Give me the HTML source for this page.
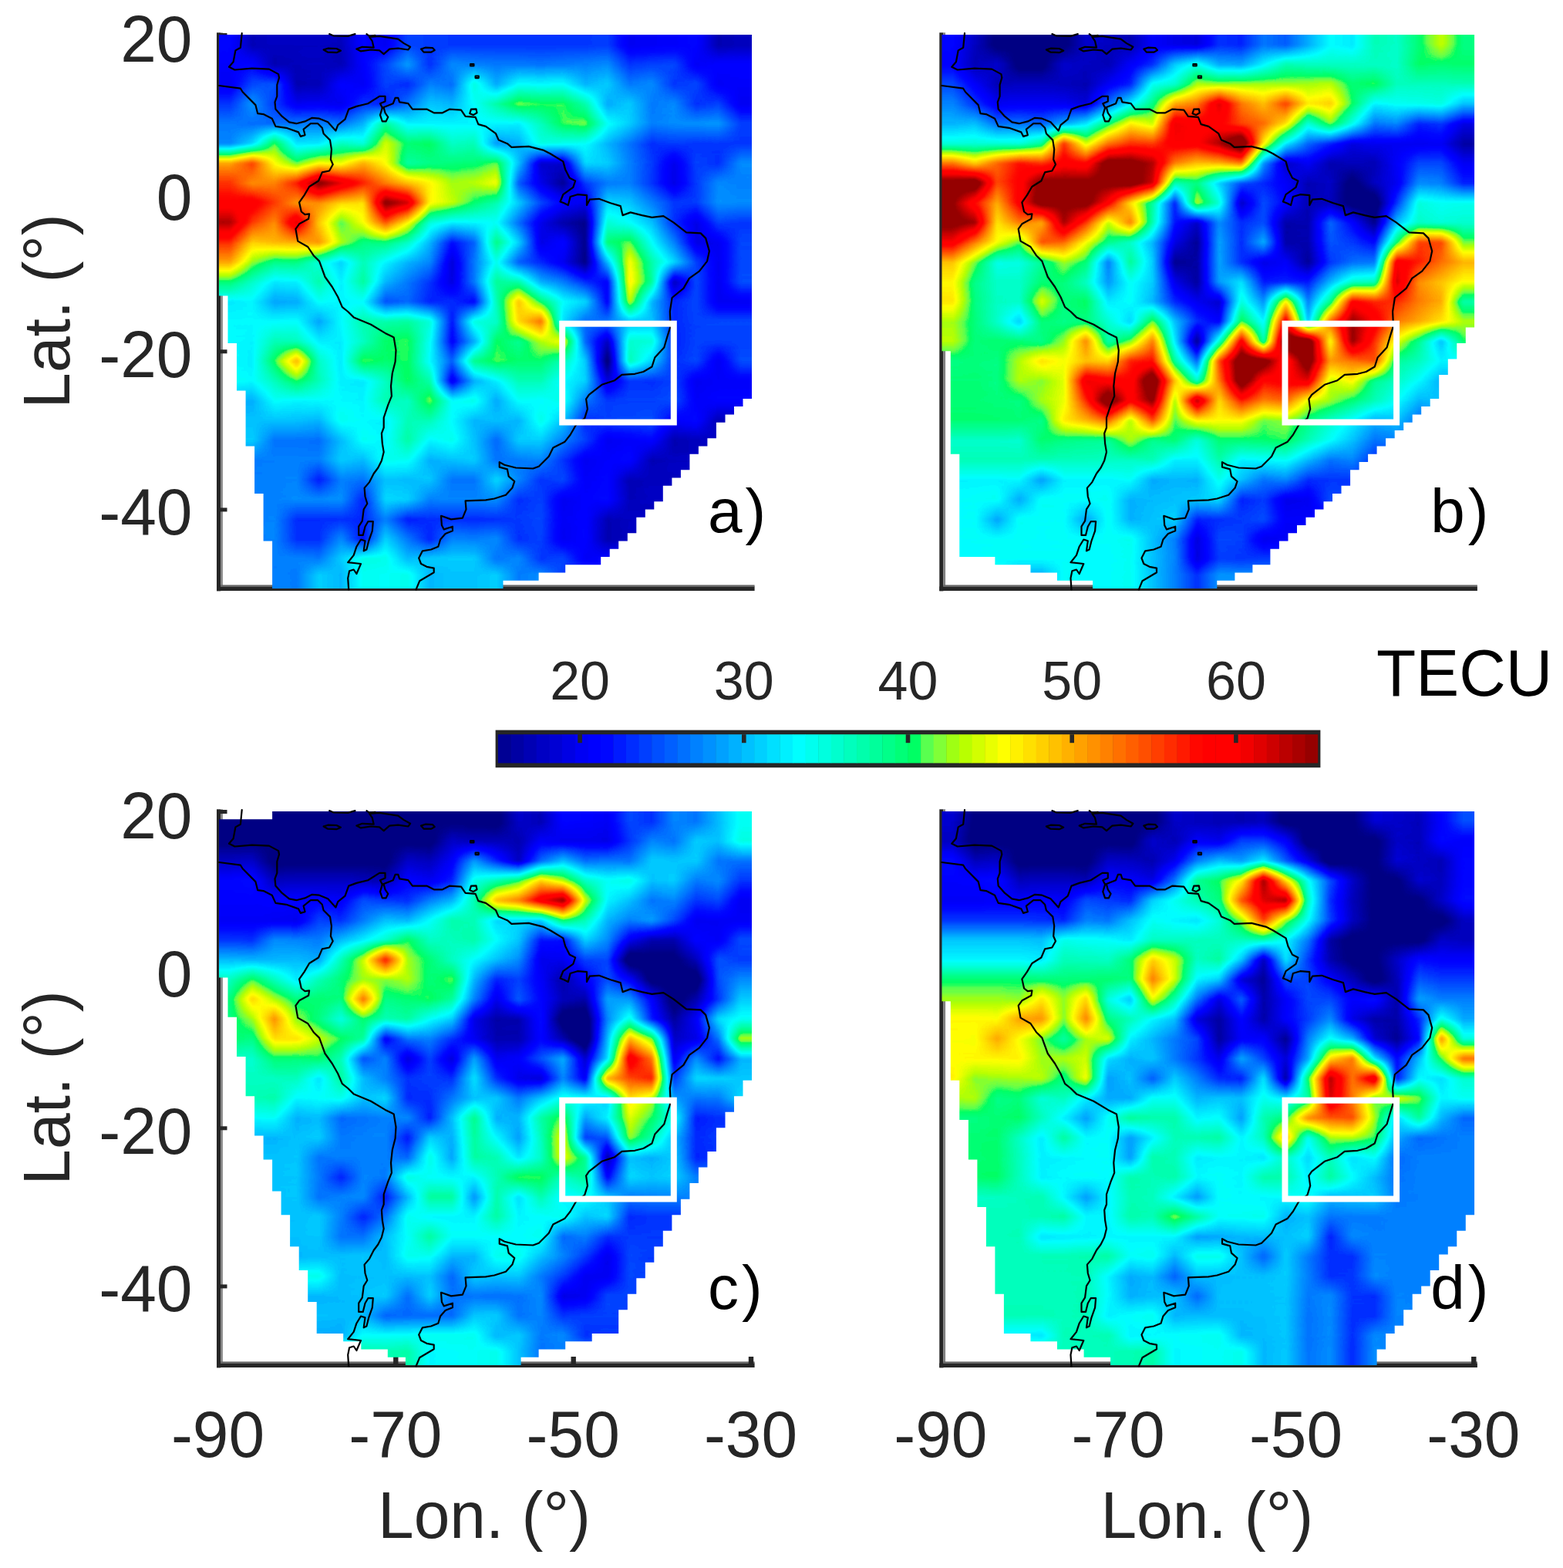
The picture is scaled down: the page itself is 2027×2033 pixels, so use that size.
<!DOCTYPE html>
<html lang="en"><head><meta charset="utf-8"><title>TECU maps</title>
<style>html,body{margin:0;padding:0;background:#fff}svg{display:block}text{font-family:"Liberation Sans",Arial,Helvetica,sans-serif}</style></head><body>
<svg width="2027" height="2033" viewBox="0 0 2027 2033">
<rect width="2027" height="2033" fill="#fff"/>
<defs>
<filter id="jet" filterUnits="userSpaceOnUse" x="-20" y="-20" width="731" height="758" color-interpolation-filters="sRGB"><feGaussianBlur stdDeviation="1.5"/><feComponentTransfer><feFuncR type="table" tableValues="0 0 0 0 0 0 0 0 0 0 0 0 0 0 0 0 0 0 0 0 0 0 0 0 0 0 0 0 0 0 0 0 0 0 0 0 0 0 0 0 0 0 0 0 0 0 0 0 0 0 0.348 0.501 0.622 0.727 0.823 0.914 1 1 1 1 1 1 1 1 1 1 1 1 1 1 1 1 1 1 1 0.948 0.877 0.806 0.734 0.661 0.588 0.588 0.588 0.588 0.588 0.588 0.588 0.588 0.588 0.588 0.588 0.588 0.588 0.588 0.588 0.588 0.588"/><feFuncG type="table" tableValues="0 0 0 0 0 0 0 0 0 0 0 0 0 0 0 0 0 0 0 0 0 0 0 0 0 0.029 0.102 0.173 0.241 0.308 0.374 0.44 0.504 0.568 0.631 0.693 0.756 0.817 0.878 0.939 1 1 1 1 1 1 1 1 1 1 1 1 1 1 1 1 1 0.939 0.878 0.817 0.756 0.693 0.631 0.568 0.504 0.44 0.374 0.308 0.241 0.173 0.102 0.029 0 0 0 0 0 0 0 0 0 0 0 0 0 0 0 0 0 0 0 0 0 0 0 0 0"/><feFuncB type="table" tableValues="0.514 0.514 0.514 0.514 0.514 0.514 0.514 0.514 0.514 0.514 0.514 0.514 0.514 0.514 0.514 0.514 0.514 0.579 0.643 0.707 0.77 0.833 0.895 0.957 1 1 1 1 1 1 1 1 1 1 1 1 1 1 1 1 1 0.937 0.873 0.808 0.743 0.676 0.608 0.538 0.466 0.391 0.309 0.215 0.0748 0 0 0 0 0 0 0 0 0 0 0 0 0 0 0 0 0 0 0 0 0 0 0 0 0 0 0 0 0 0 0 0 0 0 0 0 0 0 0 0 0 0 0 0"/><feFuncA type="linear" slope="0" intercept="1"/></feComponentTransfer></filter>
<linearGradient id="vrg" x1="0" x2="0" y1="0" y2="1"><stop offset="0" stop-color="#000"/><stop offset="0.5" stop-color="#fff"/><stop offset="1" stop-color="#fff"/></linearGradient>
<mask id="vr" maskContentUnits="objectBoundingBox" x="0" y="0" width="1" height="1"><rect width="1" height="1" fill="url(#vrg)"/></mask>
<linearGradient id="vrgl" x1="0" x2="0" y1="0" y2="1"><stop offset="0" stop-color="#000"/><stop offset="0.3" stop-color="#fff"/><stop offset="1" stop-color="#fff"/></linearGradient>
<mask id="vrl" maskContentUnits="objectBoundingBox" x="0" y="0" width="1" height="1"><rect width="1" height="1" fill="url(#vrgl)"/></mask>
<g id="coast" fill="none" stroke="#000" stroke-width="2.2" stroke-linejoin="round" stroke-linecap="round"><path d="M0.0 66.0 27.9 69.7 30.7 74.3 47.4 91.1 50.2 102.2 57.6 103.1 68.8 108.7 73.4 118.9 87.3 120.8 103.1 126.4 105.9 131.9 111.5 130.1 109.6 122.6 118.9 115.2 128.2 115.2 133.8 120.8 135.6 128.2 144.0 136.6 145.9 148.7 144.9 161.7 147.7 168.2 143.1 176.5 133.8 178.4 129.1 189.5 117.1 197.0 110.6 208.1 104.1 217.4 106.8 229.5 111.5 233.2 117.1 232.3 116.1 238.8 104.1 245.3 99.4 251.8 102.2 267.6 115.2 275.0 122.6 286.2 130.1 293.6 137.5 314.0 146.8 327.0 154.2 340.0 159.8 353.1 167.2 359.0 174.7 366.4 197.0 375.7 215.5 386.9 226.7 392.4 229.5 409.2 228.6 424.0 224.8 438.9 223.0 455.6 223.9 468.6 219.3 479.8 213.7 496.5 213.7 509.5 210.9 516.9 211.8 530.0 213.7 541.1 210.9 552.3 206.3 561.5 200.7 569.0 195.1 580.1 188.6 587.6 189.5 598.7 192.3 608.0 187.7 615.4 185.8 630.3 181.2 637.7 181.2 648.9 186.7 648.9 189.5 637.7 193.3 631.2 199.8 631.2 198.8 643.3 194.2 656.3 191.4 667.5 187.7 669.3 189.5 656.3 184.0 654.5 178.4 663.7 174.7 674.9 167.2 684.2 184.0 686.0 178.4 699.0 174.7 693.5 169.1 695.3 167.2 704.6 168.2 719.5"/><path d="M29.7 -1.9 27.9 16.7 21.4 20.4 18.6 35.3 13.0 41.8 20.4 45.5 42.7 43.7 65.0 44.6 77.1 51.1 78.0 55.7 75.3 65.0 75.3 79.9 72.5 87.3 73.4 96.6 81.8 105.9 91.1 113.3 100.3 115.2 111.5 112.4 120.8 107.8 130.1 108.7 141.2 113.3 151.4 124.5 154.2 117.1 163.5 109.6 168.2 96.6 178.4 92.9 193.3 89.2 208.1 79.9 215.5 79.9 215.5 86.4 209.0 89.2 211.8 94.8 225.8 89.2 228.6 81.8 232.3 81.8 234.1 87.3 245.3 89.2 250.9 96.6 269.4 96.6 278.7 101.3 289.9 101.3 299.2 96.6 314.0 97.6 319.6 105.9 332.6 106.8 336.3 116.1 346.0 118.9 359.0 128.2 362.7 136.6 373.9 141.2 379.4 145.9 401.7 144.9 420.3 149.6 429.6 154.2 446.3 164.4 449.1 174.7 454.7 185.8 462.1 189.5 459.3 197.9 446.3 207.2 442.6 216.5 447.3 218.3 452.8 221.1 455.6 210.0 464.9 207.2 477.0 208.1 477.0 221.1 480.7 213.7 492.8 212.8 507.7 218.3 520.7 222.1 523.5 234.1 533.7 230.4 548.5 234.1 561.5 236.9 576.4 235.1 589.4 243.4 606.1 256.4 624.7 257.4 631.2 263.9 635.9 280.6 633.1 293.6 622.9 306.6 609.9 315.9 602.4 328.9 587.6 341.0 584.8 359.0 585.7 377.6 581.1 392.4 577.3 405.5 565.3 418.5 561.5 430.5 550.4 437.0 539.3 439.8 522.5 440.8 513.2 448.2 496.5 453.8 479.8 466.8 476.1 472.3 477.9 485.4 474.2 497.4 463.1 505.8 455.6 518.8 448.2 528.1 433.3 535.5 427.8 546.7 414.8 559.7 407.3 562.5 385.0 561.5 370.2 557.8 363.7 554.1 363.7 560.6 373.9 563.4 375.7 572.7 383.2 579.2 380.4 587.6 372.0 596.8 357.1 601.5 346.0 603.4 319.6 604.3 320.5 615.4 315.9 626.6 301.0 628.4 288.0 623.8 288.9 635.9 291.7 641.4 302.9 637.7 302.9 643.3 293.6 647.0 287.1 654.5 284.3 663.7 275.0 667.5 263.9 669.3 259.2 678.6 262.0 686.0 269.4 689.8 278.7 691.6 278.7 697.2 269.4 702.8 260.1 708.3 255.5 719.5"/><path d="M211.8 94.8 209.0 104.1 211.8 112.4 216.5 112.4 219.3 106.8 215.5 101.3 213.7 94.8"/><path d="M327.0 96.6 325.2 102.2 329.8 104.1 334.5 101.3 333.5 96.3 327.0 96.6"/><path d="M135.6 19.5 141.2 17.7 152.4 18.0 157.9 20.8 152.4 23.2 141.2 22.7 135.6 19.5"/><path d="M178.4 18.6 185.8 15.8 200.7 16.7 198.8 8.4 195.1 2.8 208.1 1.9 232.3 5.6 239.7 11.1 248.1 15.8 245.3 19.5 232.3 17.7 221.1 18.6 213.7 25.1 208.1 20.4 197.0 19.5 184.0 21.4 178.4 18.6"/><path d="M262.0 18.6 267.6 16.7 276.9 17.1 279.7 20.1 275.0 22.7 265.7 22.7 262.0 18.6"/><path d="M143.1 -0.9 148.7 1.5 167.2 1.9 176.5 -0.9"/><path d="M191.4 -0.9 195.1 1.9 202.5 0.9"/><path d="M326.1 38.1 330.4 38.1 330.4 40.5 326.1 40.5 326.1 38.1"/><path d="M332.6 53.5 336.7 53.5 336.7 56.1 332.6 56.1 332.6 53.5"/></g>
<clipPath id="ma"><path d="M0.0 -0.1H691.0V338.5H0.0ZM11.5 338.4H691.0V400.1H11.5ZM23.0 400.0H691.0V461.6H23.0ZM34.6 461.5H691.0V471.9H34.6ZM34.6 471.8H679.5V482.1H34.6ZM34.6 482.0H668.0V492.4H34.6ZM34.6 492.3H656.5V502.7H34.6ZM34.6 502.6H644.9V523.2H34.6ZM34.6 523.1H633.4V533.4H34.6ZM46.1 533.3H621.9V543.7H46.1ZM46.1 543.6H610.4V564.2H46.1ZM46.1 564.1H598.9V574.5H46.1ZM46.1 574.4H587.4V584.7H46.1ZM46.1 584.6H575.8V595.0H46.1ZM57.6 594.9H575.8V605.2H57.6ZM57.6 605.1H564.3V615.5H57.6ZM57.6 615.4H552.8V625.7H57.6ZM57.6 625.6H541.3V646.2H57.6ZM57.6 646.2H529.8V656.5H57.6ZM69.1 656.4H518.2V666.8H69.1ZM69.1 666.7H506.7V677.0H69.1ZM69.1 676.9H495.2V687.3H69.1ZM69.1 687.2H449.2V697.5H69.1ZM69.1 697.4H414.6V707.8H69.1ZM69.1 707.7H368.5V718.1H69.1Z"/></clipPath>
<clipPath id="mb"><path d="M0.0 -0.1H691.0V379.6H0.0ZM0.0 379.5H679.5V400.1H0.0ZM0.0 400.0H668.0V410.3H0.0ZM11.5 410.2H668.0V420.6H11.5ZM11.5 420.5H656.5V441.1H11.5ZM11.5 441.0H644.9V471.9H11.5ZM11.5 471.8H633.4V482.1H11.5ZM11.5 482.0H621.9V492.4H11.5ZM11.5 492.3H610.4V502.7H11.5ZM11.5 502.6H598.9V512.9H11.5ZM11.5 512.8H587.4V523.2H11.5ZM11.5 523.1H575.8V533.4H11.5ZM11.5 533.3H564.3V543.7H11.5ZM23.0 543.6H552.8V553.9H23.0ZM23.0 553.8H541.3V564.2H23.0ZM23.0 564.1H529.8V584.7H23.0ZM23.0 584.6H518.2V595.0H23.0ZM23.0 594.9H506.7V605.2H23.0ZM23.0 605.1H495.2V615.5H23.0ZM23.0 615.4H483.7V625.7H23.0ZM23.0 625.6H472.2V636.0H23.0ZM23.0 635.9H460.7V646.2H23.0ZM23.0 646.2H449.2V656.5H23.0ZM23.0 656.4H437.6V666.8H23.0ZM23.0 666.7H426.1V677.0H23.0ZM69.1 676.9H426.1V687.3H69.1ZM115.2 687.2H403.1V697.5H115.2ZM149.7 697.4H380.1V707.8H149.7ZM195.8 707.7H357.0V718.1H195.8Z"/></clipPath>
<clipPath id="mc"><path d="M69.1 -0.1H691.0V10.3H69.1ZM0.0 10.2H691.0V215.5H0.0ZM11.5 215.3H691.0V266.7H11.5ZM23.0 266.6H691.0V318.0H23.0ZM34.6 317.9H691.0V348.8H34.6ZM34.6 348.7H679.5V369.3H34.6ZM46.1 369.2H668.0V389.8H46.1ZM46.1 389.7H656.5V410.3H46.1ZM46.1 410.2H644.9V420.6H46.1ZM57.6 420.5H644.9V441.1H57.6ZM57.6 441.0H633.4V451.4H57.6ZM69.1 451.3H633.4V461.6H69.1ZM69.1 461.5H621.9V482.1H69.1ZM69.1 482.0H610.4V492.4H69.1ZM80.6 492.3H610.4V502.7H80.6ZM80.6 502.6H598.9V523.2H80.6ZM92.1 523.1H587.4V543.7H92.1ZM92.1 543.6H575.8V564.2H92.1ZM103.7 564.1H564.3V584.7H103.7ZM103.7 584.6H552.8V595.0H103.7ZM115.2 594.9H552.8V605.2H115.2ZM115.2 605.1H541.3V625.7H115.2ZM115.2 625.6H529.8V636.0H115.2ZM126.7 635.9H529.8V646.2H126.7ZM126.7 646.2H518.2V677.0H126.7ZM161.2 676.9H483.7V687.3H161.2ZM184.3 687.2H449.2V697.5H184.3ZM218.8 697.4H414.6V707.8H218.8ZM241.9 707.7H391.6V718.1H241.9Z"/></clipPath>
<clipPath id="md"><path d="M0.0 -0.1H691.0V246.2H0.0ZM11.5 246.1H691.0V348.8H11.5ZM23.0 348.7H691.0V400.1H23.0ZM34.6 400.0H691.0V451.4H34.6ZM46.1 451.3H691.0V512.9H46.1ZM57.6 512.8H691.0V523.2H57.6ZM57.6 523.1H679.5V543.7H57.6ZM57.6 543.6H668.0V564.2H57.6ZM69.1 564.1H656.5V574.5H69.1ZM69.1 574.4H644.9V595.0H69.1ZM69.1 594.9H633.4V615.5H69.1ZM69.1 615.4H621.9V625.7H69.1ZM80.6 625.6H610.4V646.2H80.6ZM80.6 646.2H598.9V666.8H80.6ZM80.6 666.7H587.4V677.0H80.6ZM115.2 676.9H575.8V687.3H115.2ZM149.7 687.2H575.8V697.5H149.7ZM184.3 697.4H564.3V707.8H184.3ZM218.8 707.7H564.3V718.1H218.8Z"/></clipPath>
<clipPath id="box"><rect x="-3" y="-3" width="697" height="724"/></clipPath>
<linearGradient id="ga0" gradientUnits="userSpaceOnUse" x1="14.40" x2="676.60" y1="0" y2="0"><stop offset="0" stop-color="#414141"/><stop offset="0.04348" stop-color="#333333"/><stop offset="0.08696" stop-color="#353535"/><stop offset="0.1304" stop-color="#353535"/><stop offset="0.1739" stop-color="#353535"/><stop offset="0.2174" stop-color="#343434"/><stop offset="0.2609" stop-color="#414141"/><stop offset="0.3043" stop-color="#3d3d3d"/><stop offset="0.3478" stop-color="#4b4b4b"/><stop offset="0.3913" stop-color="#4a4a4a"/><stop offset="0.4348" stop-color="#494949"/><stop offset="0.4783" stop-color="#494949"/><stop offset="0.5217" stop-color="#494949"/><stop offset="0.5652" stop-color="#494949"/><stop offset="0.6087" stop-color="#494949"/><stop offset="0.6522" stop-color="#494949"/><stop offset="0.6957" stop-color="#494949"/><stop offset="0.7391" stop-color="#4a4a4a"/><stop offset="0.7826" stop-color="#3d3d3d"/><stop offset="0.8261" stop-color="#3e3e3e"/><stop offset="0.8696" stop-color="#3f3f3f"/><stop offset="0.913" stop-color="#414141"/><stop offset="0.9565" stop-color="#323232"/><stop offset="1" stop-color="#343434"/></linearGradient>
<linearGradient id="ga1" gradientUnits="userSpaceOnUse" x1="14.40" x2="676.60" y1="0" y2="0"><stop offset="0" stop-color="#404040"/><stop offset="0.04348" stop-color="#414141"/><stop offset="0.08696" stop-color="#323232"/><stop offset="0.1304" stop-color="#343434"/><stop offset="0.1739" stop-color="#353535"/><stop offset="0.2174" stop-color="#333333"/><stop offset="0.2609" stop-color="#404040"/><stop offset="0.3043" stop-color="#4c4c4c"/><stop offset="0.3478" stop-color="#5a5a5a"/><stop offset="0.3913" stop-color="#484848"/><stop offset="0.4348" stop-color="#575757"/><stop offset="0.4783" stop-color="#555555"/><stop offset="0.5217" stop-color="#545454"/><stop offset="0.5652" stop-color="#545454"/><stop offset="0.6087" stop-color="#535353"/><stop offset="0.6522" stop-color="#545454"/><stop offset="0.6957" stop-color="#555555"/><stop offset="0.7391" stop-color="#575757"/><stop offset="0.7826" stop-color="#494949"/><stop offset="0.8261" stop-color="#4b4b4b"/><stop offset="0.8696" stop-color="#4c4c4c"/><stop offset="0.913" stop-color="#3e3e3e"/><stop offset="0.9565" stop-color="#414141"/><stop offset="1" stop-color="#414141"/></linearGradient>
<linearGradient id="ga2" gradientUnits="userSpaceOnUse" x1="14.40" x2="676.60" y1="0" y2="0"><stop offset="0" stop-color="#3d3d3d"/><stop offset="0.04348" stop-color="#4c4c4c"/><stop offset="0.08696" stop-color="#4f4f4f"/><stop offset="0.1304" stop-color="#323232"/><stop offset="0.1739" stop-color="#333333"/><stop offset="0.2174" stop-color="#414141"/><stop offset="0.2609" stop-color="#3e3e3e"/><stop offset="0.3043" stop-color="#4b4b4b"/><stop offset="0.3478" stop-color="#474747"/><stop offset="0.3913" stop-color="#555555"/><stop offset="0.4348" stop-color="#525252"/><stop offset="0.4783" stop-color="#707070"/><stop offset="0.5217" stop-color="#5c5c5c"/><stop offset="0.5652" stop-color="#6b6b6b"/><stop offset="0.6087" stop-color="#6a6a6a"/><stop offset="0.6522" stop-color="#6b6b6b"/><stop offset="0.6957" stop-color="#5e5e5e"/><stop offset="0.7391" stop-color="#626262"/><stop offset="0.7826" stop-color="#545454"/><stop offset="0.8261" stop-color="#575757"/><stop offset="0.8696" stop-color="#494949"/><stop offset="0.913" stop-color="#4c4c4c"/><stop offset="0.9565" stop-color="#3e3e3e"/><stop offset="1" stop-color="#3f3f3f"/></linearGradient>
<linearGradient id="ga3" gradientUnits="userSpaceOnUse" x1="14.40" x2="676.60" y1="0" y2="0"><stop offset="0" stop-color="#494949"/><stop offset="0.04348" stop-color="#595959"/><stop offset="0.08696" stop-color="#4a4a4a"/><stop offset="0.1304" stop-color="#3d3d3d"/><stop offset="0.1739" stop-color="#3e3e3e"/><stop offset="0.2174" stop-color="#3c3c3c"/><stop offset="0.2609" stop-color="#494949"/><stop offset="0.3043" stop-color="#454545"/><stop offset="0.3478" stop-color="#535353"/><stop offset="0.3913" stop-color="#616161"/><stop offset="0.4348" stop-color="#5e5e5e"/><stop offset="0.4783" stop-color="#6b6b6b"/><stop offset="0.5217" stop-color="#797979"/><stop offset="0.5652" stop-color="#878787"/><stop offset="0.6087" stop-color="#848484"/><stop offset="0.6522" stop-color="#848484"/><stop offset="0.6957" stop-color="#787878"/><stop offset="0.7391" stop-color="#5c5c5c"/><stop offset="0.7826" stop-color="#626262"/><stop offset="0.8261" stop-color="#545454"/><stop offset="0.8696" stop-color="#575757"/><stop offset="0.913" stop-color="#484848"/><stop offset="0.9565" stop-color="#4b4b4b"/><stop offset="1" stop-color="#3d3d3d"/></linearGradient>
<linearGradient id="ga4" gradientUnits="userSpaceOnUse" x1="14.40" x2="676.60" y1="0" y2="0"><stop offset="0" stop-color="#545454"/><stop offset="0.04348" stop-color="#525252"/><stop offset="0.08696" stop-color="#525252"/><stop offset="0.1304" stop-color="#545454"/><stop offset="0.1739" stop-color="#555555"/><stop offset="0.2174" stop-color="#535353"/><stop offset="0.2609" stop-color="#5e5e5e"/><stop offset="0.3043" stop-color="#7b7b7b"/><stop offset="0.3478" stop-color="#696969"/><stop offset="0.3913" stop-color="#696969"/><stop offset="0.4348" stop-color="#696969"/><stop offset="0.4783" stop-color="#696969"/><stop offset="0.5217" stop-color="#696969"/><stop offset="0.5652" stop-color="#686868"/><stop offset="0.6087" stop-color="#757575"/><stop offset="0.6522" stop-color="#848484"/><stop offset="0.6957" stop-color="#878787"/><stop offset="0.7391" stop-color="#6c6c6c"/><stop offset="0.7826" stop-color="#626262"/><stop offset="0.8261" stop-color="#555555"/><stop offset="0.8696" stop-color="#575757"/><stop offset="0.913" stop-color="#585858"/><stop offset="0.9565" stop-color="#595959"/><stop offset="1" stop-color="#4b4b4b"/></linearGradient>
<linearGradient id="ga5" gradientUnits="userSpaceOnUse" x1="14.40" x2="676.60" y1="0" y2="0"><stop offset="0" stop-color="#565656"/><stop offset="0.04348" stop-color="#646464"/><stop offset="0.08696" stop-color="#858585"/><stop offset="0.1304" stop-color="#666666"/><stop offset="0.1739" stop-color="#676767"/><stop offset="0.2174" stop-color="#757575"/><stop offset="0.2609" stop-color="#707070"/><stop offset="0.3043" stop-color="#909090"/><stop offset="0.3478" stop-color="#818181"/><stop offset="0.3913" stop-color="#838383"/><stop offset="0.4348" stop-color="#747474"/><stop offset="0.4783" stop-color="#767676"/><stop offset="0.5217" stop-color="#595959"/><stop offset="0.5652" stop-color="#5d5d5d"/><stop offset="0.6087" stop-color="#6f6f6f"/><stop offset="0.6522" stop-color="#6d6d6d"/><stop offset="0.6957" stop-color="#6b6b6b"/><stop offset="0.7391" stop-color="#5e5e5e"/><stop offset="0.7826" stop-color="#535353"/><stop offset="0.8261" stop-color="#484848"/><stop offset="0.8696" stop-color="#4a4a4a"/><stop offset="0.913" stop-color="#494949"/><stop offset="0.9565" stop-color="#494949"/><stop offset="1" stop-color="#494949"/></linearGradient>
<linearGradient id="ga6" gradientUnits="userSpaceOnUse" x1="14.40" x2="676.60" y1="0" y2="0"><stop offset="0" stop-color="#a5a5a5"/><stop offset="0.04348" stop-color="#b5b5b5"/><stop offset="0.08696" stop-color="#959595"/><stop offset="0.1304" stop-color="#868686"/><stop offset="0.1739" stop-color="#959595"/><stop offset="0.2174" stop-color="#939393"/><stop offset="0.2609" stop-color="#a3a3a3"/><stop offset="0.3043" stop-color="#959595"/><stop offset="0.3478" stop-color="#797979"/><stop offset="0.3913" stop-color="#7d7d7d"/><stop offset="0.4348" stop-color="#7f7f7f"/><stop offset="0.4783" stop-color="#808080"/><stop offset="0.5217" stop-color="#868686"/><stop offset="0.5652" stop-color="#606060"/><stop offset="0.6087" stop-color="#373737"/><stop offset="0.6522" stop-color="#373737"/><stop offset="0.6957" stop-color="#646464"/><stop offset="0.7391" stop-color="#626262"/><stop offset="0.7826" stop-color="#555555"/><stop offset="0.8261" stop-color="#4a4a4a"/><stop offset="0.8696" stop-color="#3c3c3c"/><stop offset="0.913" stop-color="#4b4b4b"/><stop offset="0.9565" stop-color="#484848"/><stop offset="1" stop-color="#575757"/></linearGradient>
<linearGradient id="ga7" gradientUnits="userSpaceOnUse" x1="14.40" x2="676.60" y1="0" y2="0"><stop offset="0" stop-color="#b7b7b7"/><stop offset="0.04348" stop-color="#a8a8a8"/><stop offset="0.08696" stop-color="#aaaaaa"/><stop offset="0.1304" stop-color="#bbbbbb"/><stop offset="0.1739" stop-color="#dadada"/><stop offset="0.2174" stop-color="#cacaca"/><stop offset="0.2609" stop-color="#bababa"/><stop offset="0.3043" stop-color="#ababab"/><stop offset="0.3478" stop-color="#a0a0a0"/><stop offset="0.3913" stop-color="#979797"/><stop offset="0.4348" stop-color="#8b8b8b"/><stop offset="0.4783" stop-color="#8d8d8d"/><stop offset="0.5217" stop-color="#949494"/><stop offset="0.5652" stop-color="#4f4f4f"/><stop offset="0.6087" stop-color="#3c3c3c"/><stop offset="0.6522" stop-color="#2e2e2e"/><stop offset="0.6957" stop-color="#4a4a4a"/><stop offset="0.7391" stop-color="#545454"/><stop offset="0.7826" stop-color="#555555"/><stop offset="0.8261" stop-color="#494949"/><stop offset="0.8696" stop-color="#3b3b3b"/><stop offset="0.913" stop-color="#4a4a4a"/><stop offset="0.9565" stop-color="#575757"/><stop offset="1" stop-color="#555555"/></linearGradient>
<linearGradient id="ga8" gradientUnits="userSpaceOnUse" x1="14.40" x2="676.60" y1="0" y2="0"><stop offset="0" stop-color="#c0c0c0"/><stop offset="0.04348" stop-color="#c4c4c4"/><stop offset="0.08696" stop-color="#b6b6b6"/><stop offset="0.1304" stop-color="#a6a6a6"/><stop offset="0.1739" stop-color="#a8a8a8"/><stop offset="0.2174" stop-color="#9c9c9c"/><stop offset="0.2609" stop-color="#9a9a9a"/><stop offset="0.3043" stop-color="#d9d9d9"/><stop offset="0.3478" stop-color="#cdcdcd"/><stop offset="0.3913" stop-color="#969696"/><stop offset="0.4348" stop-color="#8e8e8e"/><stop offset="0.4783" stop-color="#818181"/><stop offset="0.5217" stop-color="#777777"/><stop offset="0.5652" stop-color="#626262"/><stop offset="0.6087" stop-color="#4c4c4c"/><stop offset="0.6522" stop-color="#414141"/><stop offset="0.6957" stop-color="#3c3c3c"/><stop offset="0.7391" stop-color="#646464"/><stop offset="0.7826" stop-color="#616161"/><stop offset="0.8261" stop-color="#555555"/><stop offset="0.8696" stop-color="#4a4a4a"/><stop offset="0.913" stop-color="#4a4a4a"/><stop offset="0.9565" stop-color="#585858"/><stop offset="1" stop-color="#575757"/></linearGradient>
<linearGradient id="ga9" gradientUnits="userSpaceOnUse" x1="14.40" x2="676.60" y1="0" y2="0"><stop offset="0" stop-color="#d1d1d1"/><stop offset="0.04348" stop-color="#b5b5b5"/><stop offset="0.08696" stop-color="#a8a8a8"/><stop offset="0.1304" stop-color="#cbcbcb"/><stop offset="0.1739" stop-color="#9e9e9e"/><stop offset="0.2174" stop-color="#848484"/><stop offset="0.2609" stop-color="#949494"/><stop offset="0.3043" stop-color="#b1b1b1"/><stop offset="0.3478" stop-color="#969696"/><stop offset="0.3913" stop-color="#707070"/><stop offset="0.4348" stop-color="#686868"/><stop offset="0.4783" stop-color="#696969"/><stop offset="0.5217" stop-color="#6b6b6b"/><stop offset="0.5652" stop-color="#525252"/><stop offset="0.6087" stop-color="#3c3c3c"/><stop offset="0.6522" stop-color="#313131"/><stop offset="0.6957" stop-color="#2c2c2c"/><stop offset="0.7391" stop-color="#717171"/><stop offset="0.7826" stop-color="#6b6b6b"/><stop offset="0.8261" stop-color="#606060"/><stop offset="0.8696" stop-color="#484848"/><stop offset="0.913" stop-color="#3b3b3b"/><stop offset="0.9565" stop-color="#4b4b4b"/><stop offset="1" stop-color="#494949"/></linearGradient>
<linearGradient id="ga10" gradientUnits="userSpaceOnUse" x1="14.40" x2="676.60" y1="0" y2="0"><stop offset="0" stop-color="#b8b8b8"/><stop offset="0.04348" stop-color="#9d9d9d"/><stop offset="0.08696" stop-color="#a1a1a1"/><stop offset="0.1304" stop-color="#a2a2a2"/><stop offset="0.1739" stop-color="#a7a7a7"/><stop offset="0.2174" stop-color="#8c8c8c"/><stop offset="0.2609" stop-color="#7e7e7e"/><stop offset="0.3043" stop-color="#7f7f7f"/><stop offset="0.3478" stop-color="#747474"/><stop offset="0.3913" stop-color="#5e5e5e"/><stop offset="0.4348" stop-color="#434343"/><stop offset="0.4783" stop-color="#505050"/><stop offset="0.5217" stop-color="#7e7e7e"/><stop offset="0.5652" stop-color="#636363"/><stop offset="0.6087" stop-color="#3b3b3b"/><stop offset="0.6522" stop-color="#424242"/><stop offset="0.6957" stop-color="#2c2c2c"/><stop offset="0.7391" stop-color="#808080"/><stop offset="0.7826" stop-color="#868686"/><stop offset="0.8261" stop-color="#6b6b6b"/><stop offset="0.8696" stop-color="#555555"/><stop offset="0.913" stop-color="#3b3b3b"/><stop offset="0.9565" stop-color="#3d3d3d"/><stop offset="1" stop-color="#4c4c4c"/></linearGradient>
<linearGradient id="ga11" gradientUnits="userSpaceOnUse" x1="14.40" x2="676.60" y1="0" y2="0"><stop offset="0" stop-color="#a4a4a4"/><stop offset="0.04348" stop-color="#898989"/><stop offset="0.08696" stop-color="#7d7d7d"/><stop offset="0.1304" stop-color="#7e7e7e"/><stop offset="0.1739" stop-color="#707070"/><stop offset="0.2174" stop-color="#636363"/><stop offset="0.2609" stop-color="#767676"/><stop offset="0.3043" stop-color="#696969"/><stop offset="0.3478" stop-color="#5e5e5e"/><stop offset="0.3913" stop-color="#565656"/><stop offset="0.4348" stop-color="#393939"/><stop offset="0.4783" stop-color="#545454"/><stop offset="0.5217" stop-color="#6d6d6d"/><stop offset="0.5652" stop-color="#4f4f4f"/><stop offset="0.6087" stop-color="#474747"/><stop offset="0.6522" stop-color="#3d3d3d"/><stop offset="0.6957" stop-color="#2b2b2b"/><stop offset="0.7391" stop-color="#5f5f5f"/><stop offset="0.7826" stop-color="#959595"/><stop offset="0.8261" stop-color="#787878"/><stop offset="0.8696" stop-color="#646464"/><stop offset="0.913" stop-color="#4b4b4b"/><stop offset="0.9565" stop-color="#3d3d3d"/><stop offset="1" stop-color="#4c4c4c"/></linearGradient>
<linearGradient id="ga12" gradientUnits="userSpaceOnUse" x1="14.40" x2="676.60" y1="0" y2="0"><stop offset="0" stop-color="#808080"/><stop offset="0.04348" stop-color="#737373"/><stop offset="0.08696" stop-color="#676767"/><stop offset="0.1304" stop-color="#686868"/><stop offset="0.1739" stop-color="#787878"/><stop offset="0.2174" stop-color="#686868"/><stop offset="0.2609" stop-color="#7a7a7a"/><stop offset="0.3043" stop-color="#5e5e5e"/><stop offset="0.3478" stop-color="#545454"/><stop offset="0.3913" stop-color="#494949"/><stop offset="0.4348" stop-color="#3a3a3a"/><stop offset="0.4783" stop-color="#545454"/><stop offset="0.5217" stop-color="#7b7b7b"/><stop offset="0.5652" stop-color="#787878"/><stop offset="0.6087" stop-color="#5d5d5d"/><stop offset="0.6522" stop-color="#555555"/><stop offset="0.6957" stop-color="#484848"/><stop offset="0.7391" stop-color="#404040"/><stop offset="0.7826" stop-color="#989898"/><stop offset="0.8261" stop-color="#7a7a7a"/><stop offset="0.8696" stop-color="#343434"/><stop offset="0.913" stop-color="#4c4c4c"/><stop offset="0.9565" stop-color="#3d3d3d"/><stop offset="1" stop-color="#4d4d4d"/></linearGradient>
<linearGradient id="ga13" gradientUnits="userSpaceOnUse" x1="14.40" x2="676.60" y1="0" y2="0"><stop offset="0" stop-color="#676767"/><stop offset="0.04348" stop-color="#696969"/><stop offset="0.08696" stop-color="#5b5b5b"/><stop offset="0.1304" stop-color="#5c5c5c"/><stop offset="0.1739" stop-color="#6b6b6b"/><stop offset="0.2174" stop-color="#696969"/><stop offset="0.2609" stop-color="#6a6a6a"/><stop offset="0.3043" stop-color="#4d4d4d"/><stop offset="0.3478" stop-color="#515151"/><stop offset="0.3913" stop-color="#464646"/><stop offset="0.4348" stop-color="#484848"/><stop offset="0.4783" stop-color="#414141"/><stop offset="0.5217" stop-color="#767676"/><stop offset="0.5652" stop-color="#9f9f9f"/><stop offset="0.6087" stop-color="#818181"/><stop offset="0.6522" stop-color="#6b6b6b"/><stop offset="0.6957" stop-color="#646464"/><stop offset="0.7391" stop-color="#404040"/><stop offset="0.7826" stop-color="#8d8d8d"/><stop offset="0.8261" stop-color="#5e5e5e"/><stop offset="0.8696" stop-color="#474747"/><stop offset="0.913" stop-color="#4c4c4c"/><stop offset="0.9565" stop-color="#3d3d3d"/><stop offset="1" stop-color="#3d3d3d"/></linearGradient>
<linearGradient id="ga14" gradientUnits="userSpaceOnUse" x1="14.40" x2="676.60" y1="0" y2="0"><stop offset="0" stop-color="#6a6a6a"/><stop offset="0.04348" stop-color="#6a6a6a"/><stop offset="0.08696" stop-color="#6a6a6a"/><stop offset="0.1304" stop-color="#6b6b6b"/><stop offset="0.1739" stop-color="#5b5b5b"/><stop offset="0.2174" stop-color="#6a6a6a"/><stop offset="0.2609" stop-color="#787878"/><stop offset="0.3043" stop-color="#787878"/><stop offset="0.3478" stop-color="#7a7a7a"/><stop offset="0.3913" stop-color="#717171"/><stop offset="0.4348" stop-color="#444444"/><stop offset="0.4783" stop-color="#707070"/><stop offset="0.5217" stop-color="#737373"/><stop offset="0.5652" stop-color="#9b9b9b"/><stop offset="0.6087" stop-color="#adadad"/><stop offset="0.6522" stop-color="#656565"/><stop offset="0.6957" stop-color="#515151"/><stop offset="0.7391" stop-color="#545454"/><stop offset="0.7826" stop-color="#5f5f5f"/><stop offset="0.8261" stop-color="#606060"/><stop offset="0.8696" stop-color="#474747"/><stop offset="0.913" stop-color="#4b4b4b"/><stop offset="0.9565" stop-color="#4c4c4c"/><stop offset="1" stop-color="#4c4c4c"/></linearGradient>
<linearGradient id="ga15" gradientUnits="userSpaceOnUse" x1="14.40" x2="676.60" y1="0" y2="0"><stop offset="0" stop-color="#6a6a6a"/><stop offset="0.04348" stop-color="#696969"/><stop offset="0.08696" stop-color="#767676"/><stop offset="0.1304" stop-color="#757575"/><stop offset="0.1739" stop-color="#686868"/><stop offset="0.2174" stop-color="#686868"/><stop offset="0.2609" stop-color="#747474"/><stop offset="0.3043" stop-color="#828282"/><stop offset="0.3478" stop-color="#848484"/><stop offset="0.3913" stop-color="#6c6c6c"/><stop offset="0.4348" stop-color="#404040"/><stop offset="0.4783" stop-color="#5c5c5c"/><stop offset="0.5217" stop-color="#838383"/><stop offset="0.5652" stop-color="#7c7c7c"/><stop offset="0.6087" stop-color="#8c8c8c"/><stop offset="0.6522" stop-color="#959595"/><stop offset="0.6957" stop-color="#515151"/><stop offset="0.7391" stop-color="#353535"/><stop offset="0.7826" stop-color="#727272"/><stop offset="0.8261" stop-color="#717171"/><stop offset="0.8696" stop-color="#464646"/><stop offset="0.913" stop-color="#4b4b4b"/><stop offset="0.9565" stop-color="#4b4b4b"/><stop offset="1" stop-color="#4b4b4b"/></linearGradient>
<linearGradient id="ga16" gradientUnits="userSpaceOnUse" x1="14.40" x2="676.60" y1="0" y2="0"><stop offset="0" stop-color="#6a6a6a"/><stop offset="0.04348" stop-color="#686868"/><stop offset="0.08696" stop-color="#838383"/><stop offset="0.1304" stop-color="#a2a2a2"/><stop offset="0.1739" stop-color="#747474"/><stop offset="0.2174" stop-color="#676767"/><stop offset="0.2609" stop-color="#858585"/><stop offset="0.3043" stop-color="#818181"/><stop offset="0.3478" stop-color="#838383"/><stop offset="0.3913" stop-color="#6a6a6a"/><stop offset="0.4348" stop-color="#505050"/><stop offset="0.4783" stop-color="#7d7d7d"/><stop offset="0.5217" stop-color="#858585"/><stop offset="0.5652" stop-color="#818181"/><stop offset="0.6087" stop-color="#818181"/><stop offset="0.6522" stop-color="#767676"/><stop offset="0.6957" stop-color="#626262"/><stop offset="0.7391" stop-color="#272727"/><stop offset="0.7826" stop-color="#767676"/><stop offset="0.8261" stop-color="#636363"/><stop offset="0.8696" stop-color="#484848"/><stop offset="0.913" stop-color="#4c4c4c"/><stop offset="0.9565" stop-color="#3d3d3d"/><stop offset="1" stop-color="#4d4d4d"/></linearGradient>
<linearGradient id="ga17" gradientUnits="userSpaceOnUse" x1="14.40" x2="676.60" y1="0" y2="0"><stop offset="0" stop-color="#6c6c6c"/><stop offset="0.04348" stop-color="#6a6a6a"/><stop offset="0.08696" stop-color="#757575"/><stop offset="0.1304" stop-color="#838383"/><stop offset="0.1739" stop-color="#767676"/><stop offset="0.2174" stop-color="#686868"/><stop offset="0.2609" stop-color="#676767"/><stop offset="0.3043" stop-color="#747474"/><stop offset="0.3478" stop-color="#838383"/><stop offset="0.3913" stop-color="#787878"/><stop offset="0.4348" stop-color="#3c3c3c"/><stop offset="0.4783" stop-color="#5d5d5d"/><stop offset="0.5217" stop-color="#686868"/><stop offset="0.5652" stop-color="#767676"/><stop offset="0.6087" stop-color="#767676"/><stop offset="0.6522" stop-color="#6a6a6a"/><stop offset="0.6957" stop-color="#636363"/><stop offset="0.7391" stop-color="#393939"/><stop offset="0.7826" stop-color="#494949"/><stop offset="0.8261" stop-color="#484848"/><stop offset="0.8696" stop-color="#4b4b4b"/><stop offset="0.913" stop-color="#3d3d3d"/><stop offset="0.9565" stop-color="#3f3f3f"/><stop offset="1" stop-color="#3f3f3f"/></linearGradient>
<linearGradient id="ga18" gradientUnits="userSpaceOnUse" x1="14.40" x2="676.60" y1="0" y2="0"><stop offset="0" stop-color="#5e5e5e"/><stop offset="0.04348" stop-color="#5d5d5d"/><stop offset="0.08696" stop-color="#6b6b6b"/><stop offset="0.1304" stop-color="#696969"/><stop offset="0.1739" stop-color="#6a6a6a"/><stop offset="0.2174" stop-color="#6a6a6a"/><stop offset="0.2609" stop-color="#696969"/><stop offset="0.3043" stop-color="#777777"/><stop offset="0.3478" stop-color="#747474"/><stop offset="0.3913" stop-color="#878787"/><stop offset="0.4348" stop-color="#6b6b6b"/><stop offset="0.4783" stop-color="#6e6e6e"/><stop offset="0.5217" stop-color="#5c5c5c"/><stop offset="0.5652" stop-color="#6b6b6b"/><stop offset="0.6087" stop-color="#6a6a6a"/><stop offset="0.6522" stop-color="#6e6e6e"/><stop offset="0.6957" stop-color="#545454"/><stop offset="0.7391" stop-color="#4a4a4a"/><stop offset="0.7826" stop-color="#4b4b4b"/><stop offset="0.8261" stop-color="#4b4b4b"/><stop offset="0.8696" stop-color="#4d4d4d"/><stop offset="0.913" stop-color="#3f3f3f"/><stop offset="0.9565" stop-color="#414141"/><stop offset="1" stop-color="#414141"/></linearGradient>
<linearGradient id="ga19" gradientUnits="userSpaceOnUse" x1="14.40" x2="676.60" y1="0" y2="0"><stop offset="0" stop-color="#606060"/><stop offset="0.04348" stop-color="#606060"/><stop offset="0.08696" stop-color="#606060"/><stop offset="0.1304" stop-color="#606060"/><stop offset="0.1739" stop-color="#5e5e5e"/><stop offset="0.2174" stop-color="#6d6d6d"/><stop offset="0.2609" stop-color="#6a6a6a"/><stop offset="0.3043" stop-color="#686868"/><stop offset="0.3478" stop-color="#767676"/><stop offset="0.3913" stop-color="#767676"/><stop offset="0.4348" stop-color="#6a6a6a"/><stop offset="0.4783" stop-color="#5e5e5e"/><stop offset="0.5217" stop-color="#606060"/><stop offset="0.5652" stop-color="#5e5e5e"/><stop offset="0.6087" stop-color="#6e6e6e"/><stop offset="0.6522" stop-color="#616161"/><stop offset="0.6957" stop-color="#474747"/><stop offset="0.7391" stop-color="#4b4b4b"/><stop offset="0.7826" stop-color="#4c4c4c"/><stop offset="0.8261" stop-color="#4d4d4d"/><stop offset="0.8696" stop-color="#3f3f3f"/><stop offset="0.913" stop-color="#424242"/><stop offset="0.9565" stop-color="#333333"/><stop offset="1" stop-color="#343434"/></linearGradient>
<linearGradient id="ga20" gradientUnits="userSpaceOnUse" x1="14.40" x2="676.60" y1="0" y2="0"><stop offset="0" stop-color="#616161"/><stop offset="0.04348" stop-color="#626262"/><stop offset="0.08696" stop-color="#535353"/><stop offset="0.1304" stop-color="#535353"/><stop offset="0.1739" stop-color="#525252"/><stop offset="0.2174" stop-color="#5f5f5f"/><stop offset="0.2609" stop-color="#6c6c6c"/><stop offset="0.3043" stop-color="#696969"/><stop offset="0.3478" stop-color="#797979"/><stop offset="0.3913" stop-color="#696969"/><stop offset="0.4348" stop-color="#6d6d6d"/><stop offset="0.4783" stop-color="#606060"/><stop offset="0.5217" stop-color="#515151"/><stop offset="0.5652" stop-color="#626262"/><stop offset="0.6087" stop-color="#626262"/><stop offset="0.6522" stop-color="#555555"/><stop offset="0.6957" stop-color="#4b4b4b"/><stop offset="0.7391" stop-color="#3d3d3d"/><stop offset="0.7826" stop-color="#3f3f3f"/><stop offset="0.8261" stop-color="#414141"/><stop offset="0.8696" stop-color="#323232"/><stop offset="0.913" stop-color="#343434"/><stop offset="0.9565" stop-color="#353535"/><stop offset="1" stop-color="#353535"/></linearGradient>
<linearGradient id="ga21" gradientUnits="userSpaceOnUse" x1="14.40" x2="676.60" y1="0" y2="0"><stop offset="0" stop-color="#535353"/><stop offset="0.04348" stop-color="#545454"/><stop offset="0.08696" stop-color="#555555"/><stop offset="0.1304" stop-color="#555555"/><stop offset="0.1739" stop-color="#555555"/><stop offset="0.2174" stop-color="#626262"/><stop offset="0.2609" stop-color="#5f5f5f"/><stop offset="0.3043" stop-color="#6d6d6d"/><stop offset="0.3478" stop-color="#6c6c6c"/><stop offset="0.3913" stop-color="#5d5d5d"/><stop offset="0.4348" stop-color="#606060"/><stop offset="0.4783" stop-color="#626262"/><stop offset="0.5217" stop-color="#535353"/><stop offset="0.5652" stop-color="#545454"/><stop offset="0.6087" stop-color="#565656"/><stop offset="0.6522" stop-color="#494949"/><stop offset="0.6957" stop-color="#3d3d3d"/><stop offset="0.7391" stop-color="#404040"/><stop offset="0.7826" stop-color="#424242"/><stop offset="0.8261" stop-color="#333333"/><stop offset="0.8696" stop-color="#353535"/><stop offset="0.913" stop-color="#353535"/><stop offset="0.9565" stop-color="#353535"/><stop offset="1" stop-color="#353535"/></linearGradient>
<linearGradient id="ga22" gradientUnits="userSpaceOnUse" x1="14.40" x2="676.60" y1="0" y2="0"><stop offset="0" stop-color="#555555"/><stop offset="0.04348" stop-color="#555555"/><stop offset="0.08696" stop-color="#555555"/><stop offset="0.1304" stop-color="#565656"/><stop offset="0.1739" stop-color="#454545"/><stop offset="0.2174" stop-color="#555555"/><stop offset="0.2609" stop-color="#535353"/><stop offset="0.3043" stop-color="#606060"/><stop offset="0.3478" stop-color="#5f5f5f"/><stop offset="0.3913" stop-color="#616161"/><stop offset="0.4348" stop-color="#535353"/><stop offset="0.4783" stop-color="#535353"/><stop offset="0.5217" stop-color="#646464"/><stop offset="0.5652" stop-color="#565656"/><stop offset="0.6087" stop-color="#494949"/><stop offset="0.6522" stop-color="#4c4c4c"/><stop offset="0.6957" stop-color="#3f3f3f"/><stop offset="0.7391" stop-color="#414141"/><stop offset="0.7826" stop-color="#333333"/><stop offset="0.8261" stop-color="#353535"/><stop offset="0.8696" stop-color="#353535"/><stop offset="0.913" stop-color="#353535"/><stop offset="0.9565" stop-color="#353535"/><stop offset="1" stop-color="#353535"/></linearGradient>
<linearGradient id="ga23" gradientUnits="userSpaceOnUse" x1="14.40" x2="676.60" y1="0" y2="0"><stop offset="0" stop-color="#555555"/><stop offset="0.04348" stop-color="#555555"/><stop offset="0.08696" stop-color="#555555"/><stop offset="0.1304" stop-color="#575757"/><stop offset="0.1739" stop-color="#575757"/><stop offset="0.2174" stop-color="#585858"/><stop offset="0.2609" stop-color="#464646"/><stop offset="0.3043" stop-color="#646464"/><stop offset="0.3478" stop-color="#636363"/><stop offset="0.3913" stop-color="#555555"/><stop offset="0.4348" stop-color="#565656"/><stop offset="0.4783" stop-color="#565656"/><stop offset="0.5217" stop-color="#575757"/><stop offset="0.5652" stop-color="#484848"/><stop offset="0.6087" stop-color="#4b4b4b"/><stop offset="0.6522" stop-color="#3d3d3d"/><stop offset="0.6957" stop-color="#404040"/><stop offset="0.7391" stop-color="#424242"/><stop offset="0.7826" stop-color="#343434"/><stop offset="0.8261" stop-color="#353535"/><stop offset="0.8696" stop-color="#353535"/><stop offset="0.913" stop-color="#353535"/><stop offset="0.9565" stop-color="#353535"/><stop offset="1" stop-color="#353535"/></linearGradient>
<linearGradient id="ga24" gradientUnits="userSpaceOnUse" x1="14.40" x2="676.60" y1="0" y2="0"><stop offset="0" stop-color="#555555"/><stop offset="0.04348" stop-color="#555555"/><stop offset="0.08696" stop-color="#565656"/><stop offset="0.1304" stop-color="#484848"/><stop offset="0.1739" stop-color="#484848"/><stop offset="0.2174" stop-color="#484848"/><stop offset="0.2609" stop-color="#474747"/><stop offset="0.3043" stop-color="#555555"/><stop offset="0.3478" stop-color="#454545"/><stop offset="0.3913" stop-color="#484848"/><stop offset="0.4348" stop-color="#484848"/><stop offset="0.4783" stop-color="#474747"/><stop offset="0.5217" stop-color="#484848"/><stop offset="0.5652" stop-color="#4a4a4a"/><stop offset="0.6087" stop-color="#4c4c4c"/><stop offset="0.6522" stop-color="#3e3e3e"/><stop offset="0.6957" stop-color="#414141"/><stop offset="0.7391" stop-color="#333333"/><stop offset="0.7826" stop-color="#353535"/><stop offset="0.8261" stop-color="#353535"/><stop offset="0.8696" stop-color="#353535"/><stop offset="0.913" stop-color="#353535"/><stop offset="0.9565" stop-color="#353535"/><stop offset="1" stop-color="#353535"/></linearGradient>
<linearGradient id="ga25" gradientUnits="userSpaceOnUse" x1="14.40" x2="676.60" y1="0" y2="0"><stop offset="0" stop-color="#555555"/><stop offset="0.04348" stop-color="#555555"/><stop offset="0.08696" stop-color="#565656"/><stop offset="0.1304" stop-color="#484848"/><stop offset="0.1739" stop-color="#484848"/><stop offset="0.2174" stop-color="#575757"/><stop offset="0.2609" stop-color="#434343"/><stop offset="0.3043" stop-color="#636363"/><stop offset="0.3478" stop-color="#545454"/><stop offset="0.3913" stop-color="#464646"/><stop offset="0.4348" stop-color="#565656"/><stop offset="0.4783" stop-color="#555555"/><stop offset="0.5217" stop-color="#575757"/><stop offset="0.5652" stop-color="#484848"/><stop offset="0.6087" stop-color="#4b4b4b"/><stop offset="0.6522" stop-color="#3d3d3d"/><stop offset="0.6957" stop-color="#414141"/><stop offset="0.7391" stop-color="#323232"/><stop offset="0.7826" stop-color="#343434"/><stop offset="0.8261" stop-color="#353535"/><stop offset="0.8696" stop-color="#353535"/><stop offset="0.913" stop-color="#353535"/><stop offset="0.9565" stop-color="#353535"/><stop offset="1" stop-color="#353535"/></linearGradient>
<linearGradient id="ga26" gradientUnits="userSpaceOnUse" x1="14.40" x2="676.60" y1="0" y2="0"><stop offset="0" stop-color="#555555"/><stop offset="0.04348" stop-color="#555555"/><stop offset="0.08696" stop-color="#555555"/><stop offset="0.1304" stop-color="#565656"/><stop offset="0.1739" stop-color="#545454"/><stop offset="0.2174" stop-color="#626262"/><stop offset="0.2609" stop-color="#6f6f6f"/><stop offset="0.3043" stop-color="#6e6e6e"/><stop offset="0.3478" stop-color="#5f5f5f"/><stop offset="0.3913" stop-color="#626262"/><stop offset="0.4348" stop-color="#626262"/><stop offset="0.4783" stop-color="#626262"/><stop offset="0.5217" stop-color="#535353"/><stop offset="0.5652" stop-color="#575757"/><stop offset="0.6087" stop-color="#494949"/><stop offset="0.6522" stop-color="#4c4c4c"/><stop offset="0.6957" stop-color="#3e3e3e"/><stop offset="0.7391" stop-color="#414141"/><stop offset="0.7826" stop-color="#424242"/><stop offset="0.8261" stop-color="#333333"/><stop offset="0.8696" stop-color="#353535"/><stop offset="0.913" stop-color="#353535"/><stop offset="0.9565" stop-color="#353535"/><stop offset="1" stop-color="#353535"/></linearGradient>
<linearGradient id="ga27" gradientUnits="userSpaceOnUse" x1="14.40" x2="676.60" y1="0" y2="0"><stop offset="0" stop-color="#555555"/><stop offset="0.04348" stop-color="#555555"/><stop offset="0.08696" stop-color="#555555"/><stop offset="0.1304" stop-color="#545454"/><stop offset="0.1739" stop-color="#626262"/><stop offset="0.2174" stop-color="#5e5e5e"/><stop offset="0.2609" stop-color="#6c6c6c"/><stop offset="0.3043" stop-color="#6b6b6b"/><stop offset="0.3478" stop-color="#6d6d6d"/><stop offset="0.3913" stop-color="#5e5e5e"/><stop offset="0.4348" stop-color="#606060"/><stop offset="0.4783" stop-color="#606060"/><stop offset="0.5217" stop-color="#626262"/><stop offset="0.5652" stop-color="#545454"/><stop offset="0.6087" stop-color="#575757"/><stop offset="0.6522" stop-color="#4a4a4a"/><stop offset="0.6957" stop-color="#4d4d4d"/><stop offset="0.7391" stop-color="#3f3f3f"/><stop offset="0.7826" stop-color="#404040"/><stop offset="0.8261" stop-color="#424242"/><stop offset="0.8696" stop-color="#343434"/><stop offset="0.913" stop-color="#353535"/><stop offset="0.9565" stop-color="#353535"/><stop offset="1" stop-color="#353535"/></linearGradient>
<linearGradient id="gb0" gradientUnits="userSpaceOnUse" x1="14.40" x2="676.60" y1="0" y2="0"><stop offset="0" stop-color="#414141"/><stop offset="0.04348" stop-color="#353535"/><stop offset="0.08696" stop-color="#282828"/><stop offset="0.1304" stop-color="#2a2a2a"/><stop offset="0.1739" stop-color="#2a2a2a"/><stop offset="0.2174" stop-color="#282828"/><stop offset="0.2609" stop-color="#363636"/><stop offset="0.3043" stop-color="#353535"/><stop offset="0.3478" stop-color="#323232"/><stop offset="0.3913" stop-color="#3f3f3f"/><stop offset="0.4348" stop-color="#3b3b3b"/><stop offset="0.4783" stop-color="#393939"/><stop offset="0.5217" stop-color="#484848"/><stop offset="0.5652" stop-color="#464646"/><stop offset="0.6087" stop-color="#535353"/><stop offset="0.6522" stop-color="#4f4f4f"/><stop offset="0.6957" stop-color="#5c5c5c"/><stop offset="0.7391" stop-color="#6a6a6a"/><stop offset="0.7826" stop-color="#676767"/><stop offset="0.8261" stop-color="#767676"/><stop offset="0.8696" stop-color="#737373"/><stop offset="0.913" stop-color="#808080"/><stop offset="0.9565" stop-color="#8e8e8e"/><stop offset="1" stop-color="#7e7e7e"/></linearGradient>
<linearGradient id="gb1" gradientUnits="userSpaceOnUse" x1="14.40" x2="676.60" y1="0" y2="0"><stop offset="0" stop-color="#404040"/><stop offset="0.04348" stop-color="#333333"/><stop offset="0.08696" stop-color="#373737"/><stop offset="0.1304" stop-color="#282828"/><stop offset="0.1739" stop-color="#282828"/><stop offset="0.2174" stop-color="#373737"/><stop offset="0.2609" stop-color="#353535"/><stop offset="0.3043" stop-color="#333333"/><stop offset="0.3478" stop-color="#3f3f3f"/><stop offset="0.3913" stop-color="#484848"/><stop offset="0.4348" stop-color="#626262"/><stop offset="0.4783" stop-color="#6e6e6e"/><stop offset="0.5217" stop-color="#5c5c5c"/><stop offset="0.5652" stop-color="#5b5b5b"/><stop offset="0.6087" stop-color="#696969"/><stop offset="0.6522" stop-color="#777777"/><stop offset="0.6957" stop-color="#757575"/><stop offset="0.7391" stop-color="#747474"/><stop offset="0.7826" stop-color="#747474"/><stop offset="0.8261" stop-color="#747474"/><stop offset="0.8696" stop-color="#737373"/><stop offset="0.913" stop-color="#828282"/><stop offset="0.9565" stop-color="#808080"/><stop offset="1" stop-color="#818181"/></linearGradient>
<linearGradient id="gb2" gradientUnits="userSpaceOnUse" x1="14.40" x2="676.60" y1="0" y2="0"><stop offset="0" stop-color="#4c4c4c"/><stop offset="0.04348" stop-color="#3f3f3f"/><stop offset="0.08696" stop-color="#333333"/><stop offset="0.1304" stop-color="#353535"/><stop offset="0.1739" stop-color="#353535"/><stop offset="0.2174" stop-color="#343434"/><stop offset="0.2609" stop-color="#323232"/><stop offset="0.3043" stop-color="#3e3e3e"/><stop offset="0.3478" stop-color="#464646"/><stop offset="0.3913" stop-color="#6d6d6d"/><stop offset="0.4348" stop-color="#727272"/><stop offset="0.4783" stop-color="#8c8c8c"/><stop offset="0.5217" stop-color="#8a8a8a"/><stop offset="0.5652" stop-color="#8b8b8b"/><stop offset="0.6087" stop-color="#8b8b8b"/><stop offset="0.6522" stop-color="#8a8a8a"/><stop offset="0.6957" stop-color="#8b8b8b"/><stop offset="0.7391" stop-color="#8d8d8d"/><stop offset="0.7826" stop-color="#808080"/><stop offset="0.8261" stop-color="#848484"/><stop offset="0.8696" stop-color="#757575"/><stop offset="0.913" stop-color="#757575"/><stop offset="0.9565" stop-color="#757575"/><stop offset="1" stop-color="#767676"/></linearGradient>
<linearGradient id="gb3" gradientUnits="userSpaceOnUse" x1="14.40" x2="676.60" y1="0" y2="0"><stop offset="0" stop-color="#565656"/><stop offset="0.04348" stop-color="#494949"/><stop offset="0.08696" stop-color="#3d3d3d"/><stop offset="0.1304" stop-color="#3e3e3e"/><stop offset="0.1739" stop-color="#3e3e3e"/><stop offset="0.2174" stop-color="#3d3d3d"/><stop offset="0.2609" stop-color="#393939"/><stop offset="0.3043" stop-color="#525252"/><stop offset="0.3478" stop-color="#696969"/><stop offset="0.3913" stop-color="#7e7e7e"/><stop offset="0.4348" stop-color="#a4a4a4"/><stop offset="0.4783" stop-color="#acacac"/><stop offset="0.5217" stop-color="#cbcbcb"/><stop offset="0.5652" stop-color="#acacac"/><stop offset="0.6087" stop-color="#a0a0a0"/><stop offset="0.6522" stop-color="#b5b5b5"/><stop offset="0.6957" stop-color="#989898"/><stop offset="0.7391" stop-color="#9d9d9d"/><stop offset="0.7826" stop-color="#828282"/><stop offset="0.8261" stop-color="#686868"/><stop offset="0.8696" stop-color="#6c6c6c"/><stop offset="0.913" stop-color="#6d6d6d"/><stop offset="0.9565" stop-color="#6f6f6f"/><stop offset="1" stop-color="#606060"/></linearGradient>
<linearGradient id="gb4" gradientUnits="userSpaceOnUse" x1="14.40" x2="676.60" y1="0" y2="0"><stop offset="0" stop-color="#5e5e5e"/><stop offset="0.04348" stop-color="#606060"/><stop offset="0.08696" stop-color="#525252"/><stop offset="0.1304" stop-color="#535353"/><stop offset="0.1739" stop-color="#505050"/><stop offset="0.2174" stop-color="#5c5c5c"/><stop offset="0.2609" stop-color="#676767"/><stop offset="0.3043" stop-color="#808080"/><stop offset="0.3478" stop-color="#989898"/><stop offset="0.3913" stop-color="#8f8f8f"/><stop offset="0.4348" stop-color="#c8c8c8"/><stop offset="0.4783" stop-color="#c2c2c2"/><stop offset="0.5217" stop-color="#c0c0c0"/><stop offset="0.5652" stop-color="#b4b4b4"/><stop offset="0.6087" stop-color="#aeaeae"/><stop offset="0.6522" stop-color="#999999"/><stop offset="0.6957" stop-color="#707070"/><stop offset="0.7391" stop-color="#878787"/><stop offset="0.7826" stop-color="#6d6d6d"/><stop offset="0.8261" stop-color="#535353"/><stop offset="0.8696" stop-color="#565656"/><stop offset="0.913" stop-color="#464646"/><stop offset="0.9565" stop-color="#494949"/><stop offset="1" stop-color="#3b3b3b"/></linearGradient>
<linearGradient id="gb5" gradientUnits="userSpaceOnUse" x1="14.40" x2="676.60" y1="0" y2="0"><stop offset="0" stop-color="#707070"/><stop offset="0.04348" stop-color="#717171"/><stop offset="0.08696" stop-color="#717171"/><stop offset="0.1304" stop-color="#707070"/><stop offset="0.1739" stop-color="#7b7b7b"/><stop offset="0.2174" stop-color="#b7b7b7"/><stop offset="0.2609" stop-color="#909090"/><stop offset="0.3043" stop-color="#acacac"/><stop offset="0.3478" stop-color="#b7b7b7"/><stop offset="0.3913" stop-color="#b5b5b5"/><stop offset="0.4348" stop-color="#c4c4c4"/><stop offset="0.4783" stop-color="#c3c3c3"/><stop offset="0.5217" stop-color="#d2d2d2"/><stop offset="0.5652" stop-color="#e9e9e9"/><stop offset="0.6087" stop-color="#979797"/><stop offset="0.6522" stop-color="#686868"/><stop offset="0.6957" stop-color="#515151"/><stop offset="0.7391" stop-color="#464646"/><stop offset="0.7826" stop-color="#3a3a3a"/><stop offset="0.8261" stop-color="#3d3d3d"/><stop offset="0.8696" stop-color="#3d3d3d"/><stop offset="0.913" stop-color="#3d3d3d"/><stop offset="0.9565" stop-color="#3e3e3e"/><stop offset="1" stop-color="#303030"/></linearGradient>
<linearGradient id="gb6" gradientUnits="userSpaceOnUse" x1="14.40" x2="676.60" y1="0" y2="0"><stop offset="0" stop-color="#acacac"/><stop offset="0.04348" stop-color="#9d9d9d"/><stop offset="0.08696" stop-color="#afafaf"/><stop offset="0.1304" stop-color="#bdbdbd"/><stop offset="0.1739" stop-color="#b7b7b7"/><stop offset="0.2174" stop-color="#c2c2c2"/><stop offset="0.2609" stop-color="#bfbfbf"/><stop offset="0.3043" stop-color="#dddddd"/><stop offset="0.3478" stop-color="#dbdbdb"/><stop offset="0.3913" stop-color="#d1d1d1"/><stop offset="0.4348" stop-color="#aaaaaa"/><stop offset="0.4783" stop-color="#9f9f9f"/><stop offset="0.5217" stop-color="#a1a1a1"/><stop offset="0.5652" stop-color="#aaaaaa"/><stop offset="0.6087" stop-color="#585858"/><stop offset="0.6522" stop-color="#363636"/><stop offset="0.6957" stop-color="#3e3e3e"/><stop offset="0.7391" stop-color="#323232"/><stop offset="0.7826" stop-color="#343434"/><stop offset="0.8261" stop-color="#333333"/><stop offset="0.8696" stop-color="#3f3f3f"/><stop offset="0.913" stop-color="#4c4c4c"/><stop offset="0.9565" stop-color="#4c4c4c"/><stop offset="1" stop-color="#3e3e3e"/></linearGradient>
<linearGradient id="gb7" gradientUnits="userSpaceOnUse" x1="14.40" x2="676.60" y1="0" y2="0"><stop offset="0" stop-color="#dcdcdc"/><stop offset="0.04348" stop-color="#e1e1e1"/><stop offset="0.08696" stop-color="#b3b3b3"/><stop offset="0.1304" stop-color="#c0c0c0"/><stop offset="0.1739" stop-color="#dbdbdb"/><stop offset="0.2174" stop-color="#d8d8d8"/><stop offset="0.2609" stop-color="#d8d8d8"/><stop offset="0.3043" stop-color="#d9d9d9"/><stop offset="0.3478" stop-color="#dedede"/><stop offset="0.3913" stop-color="#cccccc"/><stop offset="0.4348" stop-color="#777777"/><stop offset="0.4783" stop-color="#7e7e7e"/><stop offset="0.5217" stop-color="#636363"/><stop offset="0.5652" stop-color="#4d4d4d"/><stop offset="0.6087" stop-color="#474747"/><stop offset="0.6522" stop-color="#3f3f3f"/><stop offset="0.6957" stop-color="#333333"/><stop offset="0.7391" stop-color="#363636"/><stop offset="0.7826" stop-color="#272727"/><stop offset="0.8261" stop-color="#353535"/><stop offset="0.8696" stop-color="#3d3d3d"/><stop offset="0.913" stop-color="#575757"/><stop offset="0.9565" stop-color="#555555"/><stop offset="1" stop-color="#464646"/></linearGradient>
<linearGradient id="gb8" gradientUnits="userSpaceOnUse" x1="14.40" x2="676.60" y1="0" y2="0"><stop offset="0" stop-color="#d6d6d6"/><stop offset="0.04348" stop-color="#bdbdbd"/><stop offset="0.08696" stop-color="#a3a3a3"/><stop offset="0.1304" stop-color="#c2c2c2"/><stop offset="0.1739" stop-color="#dcdcdc"/><stop offset="0.2174" stop-color="#d8d8d8"/><stop offset="0.2609" stop-color="#dbdbdb"/><stop offset="0.3043" stop-color="#c2c2c2"/><stop offset="0.3478" stop-color="#9a9a9a"/><stop offset="0.3913" stop-color="#7a7a7a"/><stop offset="0.4348" stop-color="#464646"/><stop offset="0.4783" stop-color="#8d8d8d"/><stop offset="0.5217" stop-color="#707070"/><stop offset="0.5652" stop-color="#363636"/><stop offset="0.6087" stop-color="#4d4d4d"/><stop offset="0.6522" stop-color="#414141"/><stop offset="0.6957" stop-color="#333333"/><stop offset="0.7391" stop-color="#343434"/><stop offset="0.7826" stop-color="#262626"/><stop offset="0.8261" stop-color="#232323"/><stop offset="0.8696" stop-color="#494949"/><stop offset="0.913" stop-color="#707070"/><stop offset="0.9565" stop-color="#6c6c6c"/><stop offset="1" stop-color="#6d6d6d"/></linearGradient>
<linearGradient id="gb9" gradientUnits="userSpaceOnUse" x1="14.40" x2="676.60" y1="0" y2="0"><stop offset="0" stop-color="#dadada"/><stop offset="0.04348" stop-color="#d3d3d3"/><stop offset="0.08696" stop-color="#999999"/><stop offset="0.1304" stop-color="#ababab"/><stop offset="0.1739" stop-color="#a3a3a3"/><stop offset="0.2174" stop-color="#d2d2d2"/><stop offset="0.2609" stop-color="#b6b6b6"/><stop offset="0.3043" stop-color="#8e8e8e"/><stop offset="0.3478" stop-color="#aaaaaa"/><stop offset="0.3913" stop-color="#777777"/><stop offset="0.4348" stop-color="#444444"/><stop offset="0.4783" stop-color="#363636"/><stop offset="0.5217" stop-color="#575757"/><stop offset="0.5652" stop-color="#484848"/><stop offset="0.6087" stop-color="#4d4d4d"/><stop offset="0.6522" stop-color="#313131"/><stop offset="0.6957" stop-color="#323232"/><stop offset="0.7391" stop-color="#515151"/><stop offset="0.7826" stop-color="#414141"/><stop offset="0.8261" stop-color="#2c2c2c"/><stop offset="0.8696" stop-color="#606060"/><stop offset="0.913" stop-color="#737373"/><stop offset="0.9565" stop-color="#707070"/><stop offset="1" stop-color="#727272"/></linearGradient>
<linearGradient id="gb10" gradientUnits="userSpaceOnUse" x1="14.40" x2="676.60" y1="0" y2="0"><stop offset="0" stop-color="#c4c4c4"/><stop offset="0.04348" stop-color="#ababab"/><stop offset="0.08696" stop-color="#949494"/><stop offset="0.1304" stop-color="#858585"/><stop offset="0.1739" stop-color="#b2b2b2"/><stop offset="0.2174" stop-color="#aeaeae"/><stop offset="0.2609" stop-color="#949494"/><stop offset="0.3043" stop-color="#7d7d7d"/><stop offset="0.3478" stop-color="#737373"/><stop offset="0.3913" stop-color="#5e5e5e"/><stop offset="0.4348" stop-color="#3b3b3b"/><stop offset="0.4783" stop-color="#2e2e2e"/><stop offset="0.5217" stop-color="#5b5b5b"/><stop offset="0.5652" stop-color="#484848"/><stop offset="0.6087" stop-color="#5d5d5d"/><stop offset="0.6522" stop-color="#313131"/><stop offset="0.6957" stop-color="#323232"/><stop offset="0.7391" stop-color="#4e4e4e"/><stop offset="0.7826" stop-color="#4a4a4a"/><stop offset="0.8261" stop-color="#424242"/><stop offset="0.8696" stop-color="#818181"/><stop offset="0.913" stop-color="#b5b5b5"/><stop offset="0.9565" stop-color="#b4b4b4"/><stop offset="1" stop-color="#878787"/></linearGradient>
<linearGradient id="gb11" gradientUnits="userSpaceOnUse" x1="14.40" x2="676.60" y1="0" y2="0"><stop offset="0" stop-color="#9f9f9f"/><stop offset="0.04348" stop-color="#878787"/><stop offset="0.08696" stop-color="#6e6e6e"/><stop offset="0.1304" stop-color="#6f6f6f"/><stop offset="0.1739" stop-color="#7b7b7b"/><stop offset="0.2174" stop-color="#8a8a8a"/><stop offset="0.2609" stop-color="#808080"/><stop offset="0.3043" stop-color="#555555"/><stop offset="0.3478" stop-color="#7b7b7b"/><stop offset="0.3913" stop-color="#626262"/><stop offset="0.4348" stop-color="#2d2d2d"/><stop offset="0.4783" stop-color="#303030"/><stop offset="0.5217" stop-color="#5b5b5b"/><stop offset="0.5652" stop-color="#484848"/><stop offset="0.6087" stop-color="#3b3b3b"/><stop offset="0.6522" stop-color="#3f3f3f"/><stop offset="0.6957" stop-color="#2e2e2e"/><stop offset="0.7391" stop-color="#494949"/><stop offset="0.7826" stop-color="#525252"/><stop offset="0.8261" stop-color="#545454"/><stop offset="0.8696" stop-color="#c5c5c5"/><stop offset="0.913" stop-color="#bababa"/><stop offset="0.9565" stop-color="#adadad"/><stop offset="1" stop-color="#a2a2a2"/></linearGradient>
<linearGradient id="gb12" gradientUnits="userSpaceOnUse" x1="14.40" x2="676.60" y1="0" y2="0"><stop offset="0" stop-color="#969696"/><stop offset="0.04348" stop-color="#7d7d7d"/><stop offset="0.08696" stop-color="#737373"/><stop offset="0.1304" stop-color="#737373"/><stop offset="0.1739" stop-color="#808080"/><stop offset="0.2174" stop-color="#7f7f7f"/><stop offset="0.2609" stop-color="#747474"/><stop offset="0.3043" stop-color="#595959"/><stop offset="0.3478" stop-color="#6c6c6c"/><stop offset="0.3913" stop-color="#626262"/><stop offset="0.4348" stop-color="#3c3c3c"/><stop offset="0.4783" stop-color="#2f2f2f"/><stop offset="0.5217" stop-color="#5a5a5a"/><stop offset="0.5652" stop-color="#666666"/><stop offset="0.6087" stop-color="#454545"/><stop offset="0.6522" stop-color="#464646"/><stop offset="0.6957" stop-color="#454545"/><stop offset="0.7391" stop-color="#5e5e5e"/><stop offset="0.7826" stop-color="#737373"/><stop offset="0.8261" stop-color="#767676"/><stop offset="0.8696" stop-color="#cccccc"/><stop offset="0.913" stop-color="#a8a8a8"/><stop offset="0.9565" stop-color="#9f9f9f"/><stop offset="1" stop-color="#949494"/></linearGradient>
<linearGradient id="gb13" gradientUnits="userSpaceOnUse" x1="14.40" x2="676.60" y1="0" y2="0"><stop offset="0" stop-color="#999999"/><stop offset="0.04348" stop-color="#7e7e7e"/><stop offset="0.08696" stop-color="#747474"/><stop offset="0.1304" stop-color="#737373"/><stop offset="0.1739" stop-color="#919191"/><stop offset="0.2174" stop-color="#7f7f7f"/><stop offset="0.2609" stop-color="#838383"/><stop offset="0.3043" stop-color="#676767"/><stop offset="0.3478" stop-color="#6b6b6b"/><stop offset="0.3913" stop-color="#5e5e5e"/><stop offset="0.4348" stop-color="#474747"/><stop offset="0.4783" stop-color="#3d3d3d"/><stop offset="0.5217" stop-color="#373737"/><stop offset="0.5652" stop-color="#707070"/><stop offset="0.6087" stop-color="#585858"/><stop offset="0.6522" stop-color="#989898"/><stop offset="0.6957" stop-color="#555555"/><stop offset="0.7391" stop-color="#7d7d7d"/><stop offset="0.7826" stop-color="#c1c1c1"/><stop offset="0.8261" stop-color="#b9b9b9"/><stop offset="0.8696" stop-color="#b8b8b8"/><stop offset="0.913" stop-color="#ababab"/><stop offset="0.9565" stop-color="#a3a3a3"/><stop offset="1" stop-color="#787878"/></linearGradient>
<linearGradient id="gb14" gradientUnits="userSpaceOnUse" x1="14.40" x2="676.60" y1="0" y2="0"><stop offset="0" stop-color="#8b8b8b"/><stop offset="0.04348" stop-color="#7f7f7f"/><stop offset="0.08696" stop-color="#737373"/><stop offset="0.1304" stop-color="#626262"/><stop offset="0.1739" stop-color="#808080"/><stop offset="0.2174" stop-color="#7d7d7d"/><stop offset="0.2609" stop-color="#7e7e7e"/><stop offset="0.3043" stop-color="#727272"/><stop offset="0.3478" stop-color="#636363"/><stop offset="0.3913" stop-color="#878787"/><stop offset="0.4348" stop-color="#606060"/><stop offset="0.4783" stop-color="#484848"/><stop offset="0.5217" stop-color="#404040"/><stop offset="0.5652" stop-color="#858585"/><stop offset="0.6087" stop-color="#696969"/><stop offset="0.6522" stop-color="#c6c6c6"/><stop offset="0.6957" stop-color="#606060"/><stop offset="0.7391" stop-color="#afafaf"/><stop offset="0.7826" stop-color="#d5d5d5"/><stop offset="0.8261" stop-color="#c4c4c4"/><stop offset="0.8696" stop-color="#ababab"/><stop offset="0.913" stop-color="#a3a3a3"/><stop offset="0.9565" stop-color="#999999"/><stop offset="1" stop-color="#8c8c8c"/></linearGradient>
<linearGradient id="gb15" gradientUnits="userSpaceOnUse" x1="14.40" x2="676.60" y1="0" y2="0"><stop offset="0" stop-color="#8d8d8d"/><stop offset="0.04348" stop-color="#7f7f7f"/><stop offset="0.08696" stop-color="#818181"/><stop offset="0.1304" stop-color="#808080"/><stop offset="0.1739" stop-color="#7d7d7d"/><stop offset="0.2174" stop-color="#898989"/><stop offset="0.2609" stop-color="#a9a9a9"/><stop offset="0.3043" stop-color="#787878"/><stop offset="0.3478" stop-color="#878787"/><stop offset="0.3913" stop-color="#ababab"/><stop offset="0.4348" stop-color="#676767"/><stop offset="0.4783" stop-color="#2d2d2d"/><stop offset="0.5217" stop-color="#727272"/><stop offset="0.5652" stop-color="#c4c4c4"/><stop offset="0.6087" stop-color="#777777"/><stop offset="0.6522" stop-color="#e5e5e5"/><stop offset="0.6957" stop-color="#e5e5e5"/><stop offset="0.7391" stop-color="#949494"/><stop offset="0.7826" stop-color="#d5d5d5"/><stop offset="0.8261" stop-color="#b7b7b7"/><stop offset="0.8696" stop-color="#929292"/><stop offset="0.913" stop-color="#7c7c7c"/><stop offset="0.9565" stop-color="#606060"/><stop offset="1" stop-color="#828282"/></linearGradient>
<linearGradient id="gb16" gradientUnits="userSpaceOnUse" x1="14.40" x2="676.60" y1="0" y2="0"><stop offset="0" stop-color="#7e7e7e"/><stop offset="0.04348" stop-color="#7f7f7f"/><stop offset="0.08696" stop-color="#7e7e7e"/><stop offset="0.1304" stop-color="#8c8c8c"/><stop offset="0.1739" stop-color="#9a9a9a"/><stop offset="0.2174" stop-color="#949494"/><stop offset="0.2609" stop-color="#9f9f9f"/><stop offset="0.3043" stop-color="#9c9c9c"/><stop offset="0.3478" stop-color="#bababa"/><stop offset="0.3913" stop-color="#bdbdbd"/><stop offset="0.4348" stop-color="#7b7b7b"/><stop offset="0.4783" stop-color="#515151"/><stop offset="0.5217" stop-color="#b4b4b4"/><stop offset="0.5652" stop-color="#e3e3e3"/><stop offset="0.6087" stop-color="#dfdfdf"/><stop offset="0.6522" stop-color="#bcbcbc"/><stop offset="0.6957" stop-color="#e0e0e0"/><stop offset="0.7391" stop-color="#a6a6a6"/><stop offset="0.7826" stop-color="#acacac"/><stop offset="0.8261" stop-color="#b2b2b2"/><stop offset="0.8696" stop-color="#7b7b7b"/><stop offset="0.913" stop-color="#757575"/><stop offset="0.9565" stop-color="#696969"/><stop offset="1" stop-color="#696969"/></linearGradient>
<linearGradient id="gb17" gradientUnits="userSpaceOnUse" x1="14.40" x2="676.60" y1="0" y2="0"><stop offset="0" stop-color="#808080"/><stop offset="0.04348" stop-color="#808080"/><stop offset="0.08696" stop-color="#7e7e7e"/><stop offset="0.1304" stop-color="#8c8c8c"/><stop offset="0.1739" stop-color="#888888"/><stop offset="0.2174" stop-color="#919191"/><stop offset="0.2609" stop-color="#c9c9c9"/><stop offset="0.3043" stop-color="#c2c2c2"/><stop offset="0.3478" stop-color="#bfbfbf"/><stop offset="0.3913" stop-color="#e5e5e5"/><stop offset="0.4348" stop-color="#a0a0a0"/><stop offset="0.4783" stop-color="#747474"/><stop offset="0.5217" stop-color="#ababab"/><stop offset="0.5652" stop-color="#e1e1e1"/><stop offset="0.6087" stop-color="#bebebe"/><stop offset="0.6522" stop-color="#c2c2c2"/><stop offset="0.6957" stop-color="#c8c8c8"/><stop offset="0.7391" stop-color="#8e8e8e"/><stop offset="0.7826" stop-color="#969696"/><stop offset="0.8261" stop-color="#7c7c7c"/><stop offset="0.8696" stop-color="#747474"/><stop offset="0.913" stop-color="#6a6a6a"/><stop offset="0.9565" stop-color="#5d5d5d"/><stop offset="1" stop-color="#5e5e5e"/></linearGradient>
<linearGradient id="gb18" gradientUnits="userSpaceOnUse" x1="14.40" x2="676.60" y1="0" y2="0"><stop offset="0" stop-color="#808080"/><stop offset="0.04348" stop-color="#808080"/><stop offset="0.08696" stop-color="#7f7f7f"/><stop offset="0.1304" stop-color="#7e7e7e"/><stop offset="0.1739" stop-color="#8b8b8b"/><stop offset="0.2174" stop-color="#929292"/><stop offset="0.2609" stop-color="#b8b8b8"/><stop offset="0.3043" stop-color="#e3e3e3"/><stop offset="0.3478" stop-color="#c1c1c1"/><stop offset="0.3913" stop-color="#d7d7d7"/><stop offset="0.4348" stop-color="#8b8b8b"/><stop offset="0.4783" stop-color="#d2d2d2"/><stop offset="0.5217" stop-color="#9b9b9b"/><stop offset="0.5652" stop-color="#bababa"/><stop offset="0.6087" stop-color="#aaaaaa"/><stop offset="0.6522" stop-color="#aeaeae"/><stop offset="0.6957" stop-color="#929292"/><stop offset="0.7391" stop-color="#8a8a8a"/><stop offset="0.7826" stop-color="#808080"/><stop offset="0.8261" stop-color="#767676"/><stop offset="0.8696" stop-color="#6b6b6b"/><stop offset="0.913" stop-color="#5e5e5e"/><stop offset="0.9565" stop-color="#616161"/><stop offset="1" stop-color="#616161"/></linearGradient>
<linearGradient id="gb19" gradientUnits="userSpaceOnUse" x1="14.40" x2="676.60" y1="0" y2="0"><stop offset="0" stop-color="#818181"/><stop offset="0.04348" stop-color="#818181"/><stop offset="0.08696" stop-color="#818181"/><stop offset="0.1304" stop-color="#808080"/><stop offset="0.1739" stop-color="#7d7d7d"/><stop offset="0.2174" stop-color="#989898"/><stop offset="0.2609" stop-color="#a1a1a1"/><stop offset="0.3043" stop-color="#aeaeae"/><stop offset="0.3478" stop-color="#8c8c8c"/><stop offset="0.3913" stop-color="#b2b2b2"/><stop offset="0.4348" stop-color="#848484"/><stop offset="0.4783" stop-color="#969696"/><stop offset="0.5217" stop-color="#959595"/><stop offset="0.5652" stop-color="#959595"/><stop offset="0.6087" stop-color="#868686"/><stop offset="0.6522" stop-color="#898989"/><stop offset="0.6957" stop-color="#7e7e7e"/><stop offset="0.7391" stop-color="#737373"/><stop offset="0.7826" stop-color="#696969"/><stop offset="0.8261" stop-color="#5d5d5d"/><stop offset="0.8696" stop-color="#606060"/><stop offset="0.913" stop-color="#525252"/><stop offset="0.9565" stop-color="#535353"/><stop offset="1" stop-color="#535353"/></linearGradient>
<linearGradient id="gb20" gradientUnits="userSpaceOnUse" x1="14.40" x2="676.60" y1="0" y2="0"><stop offset="0" stop-color="#737373"/><stop offset="0.04348" stop-color="#737373"/><stop offset="0.08696" stop-color="#737373"/><stop offset="0.1304" stop-color="#727272"/><stop offset="0.1739" stop-color="#818181"/><stop offset="0.2174" stop-color="#7e7e7e"/><stop offset="0.2609" stop-color="#7c7c7c"/><stop offset="0.3043" stop-color="#7b7b7b"/><stop offset="0.3478" stop-color="#8c8c8c"/><stop offset="0.3913" stop-color="#7c7c7c"/><stop offset="0.4348" stop-color="#808080"/><stop offset="0.4783" stop-color="#707070"/><stop offset="0.5217" stop-color="#808080"/><stop offset="0.5652" stop-color="#808080"/><stop offset="0.6087" stop-color="#818181"/><stop offset="0.6522" stop-color="#838383"/><stop offset="0.6957" stop-color="#767676"/><stop offset="0.7391" stop-color="#6b6b6b"/><stop offset="0.7826" stop-color="#606060"/><stop offset="0.8261" stop-color="#535353"/><stop offset="0.8696" stop-color="#555555"/><stop offset="0.913" stop-color="#565656"/><stop offset="0.9565" stop-color="#575757"/><stop offset="1" stop-color="#575757"/></linearGradient>
<linearGradient id="gb21" gradientUnits="userSpaceOnUse" x1="14.40" x2="676.60" y1="0" y2="0"><stop offset="0" stop-color="#767676"/><stop offset="0.04348" stop-color="#767676"/><stop offset="0.08696" stop-color="#767676"/><stop offset="0.1304" stop-color="#767676"/><stop offset="0.1739" stop-color="#767676"/><stop offset="0.2174" stop-color="#757575"/><stop offset="0.2609" stop-color="#757575"/><stop offset="0.3043" stop-color="#747474"/><stop offset="0.3478" stop-color="#747474"/><stop offset="0.3913" stop-color="#767676"/><stop offset="0.4348" stop-color="#686868"/><stop offset="0.4783" stop-color="#686868"/><stop offset="0.5217" stop-color="#787878"/><stop offset="0.5652" stop-color="#686868"/><stop offset="0.6087" stop-color="#6a6a6a"/><stop offset="0.6522" stop-color="#6c6c6c"/><stop offset="0.6957" stop-color="#5f5f5f"/><stop offset="0.7391" stop-color="#535353"/><stop offset="0.7826" stop-color="#565656"/><stop offset="0.8261" stop-color="#484848"/><stop offset="0.8696" stop-color="#494949"/><stop offset="0.913" stop-color="#494949"/><stop offset="0.9565" stop-color="#494949"/><stop offset="1" stop-color="#494949"/></linearGradient>
<linearGradient id="gb22" gradientUnits="userSpaceOnUse" x1="14.40" x2="676.60" y1="0" y2="0"><stop offset="0" stop-color="#696969"/><stop offset="0.04348" stop-color="#696969"/><stop offset="0.08696" stop-color="#696969"/><stop offset="0.1304" stop-color="#6a6a6a"/><stop offset="0.1739" stop-color="#5a5a5a"/><stop offset="0.2174" stop-color="#696969"/><stop offset="0.2609" stop-color="#696969"/><stop offset="0.3043" stop-color="#696969"/><stop offset="0.3478" stop-color="#6b6b6b"/><stop offset="0.3913" stop-color="#5c5c5c"/><stop offset="0.4348" stop-color="#5e5e5e"/><stop offset="0.4783" stop-color="#5d5d5d"/><stop offset="0.5217" stop-color="#6d6d6d"/><stop offset="0.5652" stop-color="#606060"/><stop offset="0.6087" stop-color="#535353"/><stop offset="0.6522" stop-color="#565656"/><stop offset="0.6957" stop-color="#484848"/><stop offset="0.7391" stop-color="#494949"/><stop offset="0.7826" stop-color="#494949"/><stop offset="0.8261" stop-color="#4a4a4a"/><stop offset="0.8696" stop-color="#4a4a4a"/><stop offset="0.913" stop-color="#4a4a4a"/><stop offset="0.9565" stop-color="#4a4a4a"/><stop offset="1" stop-color="#4a4a4a"/></linearGradient>
<linearGradient id="gb23" gradientUnits="userSpaceOnUse" x1="14.40" x2="676.60" y1="0" y2="0"><stop offset="0" stop-color="#6a6a6a"/><stop offset="0.04348" stop-color="#6b6b6b"/><stop offset="0.08696" stop-color="#6c6c6c"/><stop offset="0.1304" stop-color="#5c5c5c"/><stop offset="0.1739" stop-color="#6c6c6c"/><stop offset="0.2174" stop-color="#6b6b6b"/><stop offset="0.2609" stop-color="#6b6b6b"/><stop offset="0.3043" stop-color="#6c6c6c"/><stop offset="0.3478" stop-color="#5d5d5d"/><stop offset="0.3913" stop-color="#5f5f5f"/><stop offset="0.4348" stop-color="#606060"/><stop offset="0.4783" stop-color="#626262"/><stop offset="0.5217" stop-color="#646464"/><stop offset="0.5652" stop-color="#464646"/><stop offset="0.6087" stop-color="#4a4a4a"/><stop offset="0.6522" stop-color="#3c3c3c"/><stop offset="0.6957" stop-color="#3d3d3d"/><stop offset="0.7391" stop-color="#4d4d4d"/><stop offset="0.7826" stop-color="#4c4c4c"/><stop offset="0.8261" stop-color="#4c4c4c"/><stop offset="0.8696" stop-color="#4c4c4c"/><stop offset="0.913" stop-color="#4c4c4c"/><stop offset="0.9565" stop-color="#4c4c4c"/><stop offset="1" stop-color="#4c4c4c"/></linearGradient>
<linearGradient id="gb24" gradientUnits="userSpaceOnUse" x1="14.40" x2="676.60" y1="0" y2="0"><stop offset="0" stop-color="#6a6a6a"/><stop offset="0.04348" stop-color="#6b6b6b"/><stop offset="0.08696" stop-color="#5b5b5b"/><stop offset="0.1304" stop-color="#6c6c6c"/><stop offset="0.1739" stop-color="#6b6b6b"/><stop offset="0.2174" stop-color="#6b6b6b"/><stop offset="0.2609" stop-color="#5b5b5b"/><stop offset="0.3043" stop-color="#6c6c6c"/><stop offset="0.3478" stop-color="#5d5d5d"/><stop offset="0.3913" stop-color="#606060"/><stop offset="0.4348" stop-color="#636363"/><stop offset="0.4783" stop-color="#464646"/><stop offset="0.5217" stop-color="#484848"/><stop offset="0.5652" stop-color="#4a4a4a"/><stop offset="0.6087" stop-color="#4d4d4d"/><stop offset="0.6522" stop-color="#3f3f3f"/><stop offset="0.6957" stop-color="#3f3f3f"/><stop offset="0.7391" stop-color="#3f3f3f"/><stop offset="0.7826" stop-color="#3e3e3e"/><stop offset="0.8261" stop-color="#3e3e3e"/><stop offset="0.8696" stop-color="#3e3e3e"/><stop offset="0.913" stop-color="#3e3e3e"/><stop offset="0.9565" stop-color="#3e3e3e"/><stop offset="1" stop-color="#3e3e3e"/></linearGradient>
<linearGradient id="gb25" gradientUnits="userSpaceOnUse" x1="14.40" x2="676.60" y1="0" y2="0"><stop offset="0" stop-color="#6a6a6a"/><stop offset="0.04348" stop-color="#6b6b6b"/><stop offset="0.08696" stop-color="#6b6b6b"/><stop offset="0.1304" stop-color="#6b6b6b"/><stop offset="0.1739" stop-color="#6a6a6a"/><stop offset="0.2174" stop-color="#6b6b6b"/><stop offset="0.2609" stop-color="#6b6b6b"/><stop offset="0.3043" stop-color="#6b6b6b"/><stop offset="0.3478" stop-color="#6d6d6d"/><stop offset="0.3913" stop-color="#606060"/><stop offset="0.4348" stop-color="#555555"/><stop offset="0.4783" stop-color="#3a3a3a"/><stop offset="0.5217" stop-color="#4c4c4c"/><stop offset="0.5652" stop-color="#4b4b4b"/><stop offset="0.6087" stop-color="#3c3c3c"/><stop offset="0.6522" stop-color="#3e3e3e"/><stop offset="0.6957" stop-color="#3e3e3e"/><stop offset="0.7391" stop-color="#3e3e3e"/><stop offset="0.7826" stop-color="#3e3e3e"/><stop offset="0.8261" stop-color="#3e3e3e"/><stop offset="0.8696" stop-color="#3e3e3e"/><stop offset="0.913" stop-color="#3e3e3e"/><stop offset="0.9565" stop-color="#3e3e3e"/><stop offset="1" stop-color="#3e3e3e"/></linearGradient>
<linearGradient id="gb26" gradientUnits="userSpaceOnUse" x1="14.40" x2="676.60" y1="0" y2="0"><stop offset="0" stop-color="#6a6a6a"/><stop offset="0.04348" stop-color="#6a6a6a"/><stop offset="0.08696" stop-color="#6b6b6b"/><stop offset="0.1304" stop-color="#6b6b6b"/><stop offset="0.1739" stop-color="#6b6b6b"/><stop offset="0.2174" stop-color="#6b6b6b"/><stop offset="0.2609" stop-color="#6a6a6a"/><stop offset="0.3043" stop-color="#6a6a6a"/><stop offset="0.3478" stop-color="#6c6c6c"/><stop offset="0.3913" stop-color="#606060"/><stop offset="0.4348" stop-color="#565656"/><stop offset="0.4783" stop-color="#3a3a3a"/><stop offset="0.5217" stop-color="#4a4a4a"/><stop offset="0.5652" stop-color="#494949"/><stop offset="0.6087" stop-color="#4a4a4a"/><stop offset="0.6522" stop-color="#4a4a4a"/><stop offset="0.6957" stop-color="#4a4a4a"/><stop offset="0.7391" stop-color="#4a4a4a"/><stop offset="0.7826" stop-color="#4a4a4a"/><stop offset="0.8261" stop-color="#4a4a4a"/><stop offset="0.8696" stop-color="#4a4a4a"/><stop offset="0.913" stop-color="#4a4a4a"/><stop offset="0.9565" stop-color="#4a4a4a"/><stop offset="1" stop-color="#4a4a4a"/></linearGradient>
<linearGradient id="gb27" gradientUnits="userSpaceOnUse" x1="14.40" x2="676.60" y1="0" y2="0"><stop offset="0" stop-color="#6a6a6a"/><stop offset="0.04348" stop-color="#6a6a6a"/><stop offset="0.08696" stop-color="#6b6b6b"/><stop offset="0.1304" stop-color="#5d5d5d"/><stop offset="0.1739" stop-color="#5d5d5d"/><stop offset="0.2174" stop-color="#6b6b6b"/><stop offset="0.2609" stop-color="#6a6a6a"/><stop offset="0.3043" stop-color="#6a6a6a"/><stop offset="0.3478" stop-color="#6c6c6c"/><stop offset="0.3913" stop-color="#606060"/><stop offset="0.4348" stop-color="#555555"/><stop offset="0.4783" stop-color="#484848"/><stop offset="0.5217" stop-color="#585858"/><stop offset="0.5652" stop-color="#575757"/><stop offset="0.6087" stop-color="#575757"/><stop offset="0.6522" stop-color="#575757"/><stop offset="0.6957" stop-color="#575757"/><stop offset="0.7391" stop-color="#575757"/><stop offset="0.7826" stop-color="#575757"/><stop offset="0.8261" stop-color="#575757"/><stop offset="0.8696" stop-color="#575757"/><stop offset="0.913" stop-color="#575757"/><stop offset="0.9565" stop-color="#575757"/><stop offset="1" stop-color="#575757"/></linearGradient>
<linearGradient id="gc0" gradientUnits="userSpaceOnUse" x1="14.40" x2="676.60" y1="0" y2="0"><stop offset="0" stop-color="#2a2a2a"/><stop offset="0.04348" stop-color="#2a2a2a"/><stop offset="0.08696" stop-color="#2a2a2a"/><stop offset="0.1304" stop-color="#2a2a2a"/><stop offset="0.1739" stop-color="#2a2a2a"/><stop offset="0.2174" stop-color="#2a2a2a"/><stop offset="0.2609" stop-color="#2a2a2a"/><stop offset="0.3043" stop-color="#2a2a2a"/><stop offset="0.3478" stop-color="#2a2a2a"/><stop offset="0.3913" stop-color="#2a2a2a"/><stop offset="0.4348" stop-color="#292929"/><stop offset="0.4783" stop-color="#292929"/><stop offset="0.5217" stop-color="#282828"/><stop offset="0.5652" stop-color="#363636"/><stop offset="0.6087" stop-color="#333333"/><stop offset="0.6522" stop-color="#414141"/><stop offset="0.6957" stop-color="#404040"/><stop offset="0.7391" stop-color="#3e3e3e"/><stop offset="0.7826" stop-color="#4c4c4c"/><stop offset="0.8261" stop-color="#484848"/><stop offset="0.8696" stop-color="#565656"/><stop offset="0.913" stop-color="#535353"/><stop offset="0.9565" stop-color="#5f5f5f"/><stop offset="1" stop-color="#6c6c6c"/></linearGradient>
<linearGradient id="gc1" gradientUnits="userSpaceOnUse" x1="14.40" x2="676.60" y1="0" y2="0"><stop offset="0" stop-color="#292929"/><stop offset="0.04348" stop-color="#292929"/><stop offset="0.08696" stop-color="#2a2a2a"/><stop offset="0.1304" stop-color="#2a2a2a"/><stop offset="0.1739" stop-color="#2a2a2a"/><stop offset="0.2174" stop-color="#2a2a2a"/><stop offset="0.2609" stop-color="#2a2a2a"/><stop offset="0.3043" stop-color="#2a2a2a"/><stop offset="0.3478" stop-color="#292929"/><stop offset="0.3913" stop-color="#282828"/><stop offset="0.4348" stop-color="#363636"/><stop offset="0.4783" stop-color="#333333"/><stop offset="0.5217" stop-color="#333333"/><stop offset="0.5652" stop-color="#323232"/><stop offset="0.6087" stop-color="#3f3f3f"/><stop offset="0.6522" stop-color="#3c3c3c"/><stop offset="0.6957" stop-color="#3c3c3c"/><stop offset="0.7391" stop-color="#3b3b3b"/><stop offset="0.7826" stop-color="#494949"/><stop offset="0.8261" stop-color="#565656"/><stop offset="0.8696" stop-color="#535353"/><stop offset="0.913" stop-color="#626262"/><stop offset="0.9565" stop-color="#606060"/><stop offset="1" stop-color="#6f6f6f"/></linearGradient>
<linearGradient id="gc2" gradientUnits="userSpaceOnUse" x1="14.40" x2="676.60" y1="0" y2="0"><stop offset="0" stop-color="#353535"/><stop offset="0.04348" stop-color="#363636"/><stop offset="0.08696" stop-color="#282828"/><stop offset="0.1304" stop-color="#292929"/><stop offset="0.1739" stop-color="#292929"/><stop offset="0.2174" stop-color="#292929"/><stop offset="0.2609" stop-color="#292929"/><stop offset="0.3043" stop-color="#282828"/><stop offset="0.3478" stop-color="#363636"/><stop offset="0.3913" stop-color="#343434"/><stop offset="0.4348" stop-color="#3f3f3f"/><stop offset="0.4783" stop-color="#5a5a5a"/><stop offset="0.5217" stop-color="#474747"/><stop offset="0.5652" stop-color="#353535"/><stop offset="0.6087" stop-color="#515151"/><stop offset="0.6522" stop-color="#606060"/><stop offset="0.6957" stop-color="#525252"/><stop offset="0.7391" stop-color="#545454"/><stop offset="0.7826" stop-color="#535353"/><stop offset="0.8261" stop-color="#626262"/><stop offset="0.8696" stop-color="#616161"/><stop offset="0.913" stop-color="#626262"/><stop offset="0.9565" stop-color="#535353"/><stop offset="1" stop-color="#535353"/></linearGradient>
<linearGradient id="gc3" gradientUnits="userSpaceOnUse" x1="14.40" x2="676.60" y1="0" y2="0"><stop offset="0" stop-color="#414141"/><stop offset="0.04348" stop-color="#434343"/><stop offset="0.08696" stop-color="#343434"/><stop offset="0.1304" stop-color="#353535"/><stop offset="0.1739" stop-color="#353535"/><stop offset="0.2174" stop-color="#353535"/><stop offset="0.2609" stop-color="#343434"/><stop offset="0.3043" stop-color="#323232"/><stop offset="0.3478" stop-color="#414141"/><stop offset="0.3913" stop-color="#3d3d3d"/><stop offset="0.4348" stop-color="#464646"/><stop offset="0.4783" stop-color="#6e6e6e"/><stop offset="0.5217" stop-color="#777777"/><stop offset="0.5652" stop-color="#828282"/><stop offset="0.6087" stop-color="#9d9d9d"/><stop offset="0.6522" stop-color="#8d8d8d"/><stop offset="0.6957" stop-color="#747474"/><stop offset="0.7391" stop-color="#6c6c6c"/><stop offset="0.7826" stop-color="#6f6f6f"/><stop offset="0.8261" stop-color="#606060"/><stop offset="0.8696" stop-color="#626262"/><stop offset="0.913" stop-color="#545454"/><stop offset="0.9565" stop-color="#575757"/><stop offset="1" stop-color="#494949"/></linearGradient>
<linearGradient id="gc4" gradientUnits="userSpaceOnUse" x1="14.40" x2="676.60" y1="0" y2="0"><stop offset="0" stop-color="#404040"/><stop offset="0.04348" stop-color="#404040"/><stop offset="0.08696" stop-color="#414141"/><stop offset="0.1304" stop-color="#414141"/><stop offset="0.1739" stop-color="#404040"/><stop offset="0.2174" stop-color="#3f3f3f"/><stop offset="0.2609" stop-color="#4d4d4d"/><stop offset="0.3043" stop-color="#4a4a4a"/><stop offset="0.3478" stop-color="#484848"/><stop offset="0.3913" stop-color="#555555"/><stop offset="0.4348" stop-color="#5e5e5e"/><stop offset="0.4783" stop-color="#777777"/><stop offset="0.5217" stop-color="#a1a1a1"/><stop offset="0.5652" stop-color="#ababab"/><stop offset="0.6087" stop-color="#c6c6c6"/><stop offset="0.6522" stop-color="#d7d7d7"/><stop offset="0.6957" stop-color="#8f8f8f"/><stop offset="0.7391" stop-color="#696969"/><stop offset="0.7826" stop-color="#606060"/><stop offset="0.8261" stop-color="#535353"/><stop offset="0.8696" stop-color="#565656"/><stop offset="0.913" stop-color="#494949"/><stop offset="0.9565" stop-color="#4c4c4c"/><stop offset="1" stop-color="#3d3d3d"/></linearGradient>
<linearGradient id="gc5" gradientUnits="userSpaceOnUse" x1="14.40" x2="676.60" y1="0" y2="0"><stop offset="0" stop-color="#3e3e3e"/><stop offset="0.04348" stop-color="#3e3e3e"/><stop offset="0.08696" stop-color="#3d3d3d"/><stop offset="0.1304" stop-color="#3c3c3c"/><stop offset="0.1739" stop-color="#4b4b4b"/><stop offset="0.2174" stop-color="#484848"/><stop offset="0.2609" stop-color="#545454"/><stop offset="0.3043" stop-color="#606060"/><stop offset="0.3478" stop-color="#5e5e5e"/><stop offset="0.3913" stop-color="#6b6b6b"/><stop offset="0.4348" stop-color="#787878"/><stop offset="0.4783" stop-color="#767676"/><stop offset="0.5217" stop-color="#646464"/><stop offset="0.5652" stop-color="#646464"/><stop offset="0.6087" stop-color="#626262"/><stop offset="0.6522" stop-color="#828282"/><stop offset="0.6957" stop-color="#767676"/><stop offset="0.7391" stop-color="#5e5e5e"/><stop offset="0.7826" stop-color="#555555"/><stop offset="0.8261" stop-color="#5a5a5a"/><stop offset="0.8696" stop-color="#4c4c4c"/><stop offset="0.913" stop-color="#3d3d3d"/><stop offset="0.9565" stop-color="#3e3e3e"/><stop offset="1" stop-color="#3e3e3e"/></linearGradient>
<linearGradient id="gc6" gradientUnits="userSpaceOnUse" x1="14.40" x2="676.60" y1="0" y2="0"><stop offset="0" stop-color="#494949"/><stop offset="0.04348" stop-color="#484848"/><stop offset="0.08696" stop-color="#575757"/><stop offset="0.1304" stop-color="#565656"/><stop offset="0.1739" stop-color="#545454"/><stop offset="0.2174" stop-color="#5f5f5f"/><stop offset="0.2609" stop-color="#686868"/><stop offset="0.3043" stop-color="#737373"/><stop offset="0.3478" stop-color="#838383"/><stop offset="0.3913" stop-color="#747474"/><stop offset="0.4348" stop-color="#757575"/><stop offset="0.4783" stop-color="#787878"/><stop offset="0.5217" stop-color="#6b6b6b"/><stop offset="0.5652" stop-color="#616161"/><stop offset="0.6087" stop-color="#444444"/><stop offset="0.6522" stop-color="#434343"/><stop offset="0.6957" stop-color="#636363"/><stop offset="0.7391" stop-color="#575757"/><stop offset="0.7826" stop-color="#3d3d3d"/><stop offset="0.8261" stop-color="#323232"/><stop offset="0.8696" stop-color="#323232"/><stop offset="0.913" stop-color="#414141"/><stop offset="0.9565" stop-color="#3e3e3e"/><stop offset="1" stop-color="#4d4d4d"/></linearGradient>
<linearGradient id="gc7" gradientUnits="userSpaceOnUse" x1="14.40" x2="676.60" y1="0" y2="0"><stop offset="0" stop-color="#5f5f5f"/><stop offset="0.04348" stop-color="#5e5e5e"/><stop offset="0.08696" stop-color="#5e5e5e"/><stop offset="0.1304" stop-color="#5f5f5f"/><stop offset="0.1739" stop-color="#5c5c5c"/><stop offset="0.2174" stop-color="#767676"/><stop offset="0.2609" stop-color="#8f8f8f"/><stop offset="0.3043" stop-color="#bcbcbc"/><stop offset="0.3478" stop-color="#8b8b8b"/><stop offset="0.3913" stop-color="#808080"/><stop offset="0.4348" stop-color="#747474"/><stop offset="0.4783" stop-color="#6a6a6a"/><stop offset="0.5217" stop-color="#606060"/><stop offset="0.5652" stop-color="#575757"/><stop offset="0.6087" stop-color="#3c3c3c"/><stop offset="0.6522" stop-color="#3d3d3d"/><stop offset="0.6957" stop-color="#4b4b4b"/><stop offset="0.7391" stop-color="#4c4c4c"/><stop offset="0.7826" stop-color="#222222"/><stop offset="0.8261" stop-color="#282828"/><stop offset="0.8696" stop-color="#282828"/><stop offset="0.913" stop-color="#343434"/><stop offset="0.9565" stop-color="#4e4e4e"/><stop offset="1" stop-color="#4a4a4a"/></linearGradient>
<linearGradient id="gc8" gradientUnits="userSpaceOnUse" x1="14.40" x2="676.60" y1="0" y2="0"><stop offset="0" stop-color="#757575"/><stop offset="0.04348" stop-color="#848484"/><stop offset="0.08696" stop-color="#757575"/><stop offset="0.1304" stop-color="#676767"/><stop offset="0.1739" stop-color="#767676"/><stop offset="0.2174" stop-color="#808080"/><stop offset="0.2609" stop-color="#8a8a8a"/><stop offset="0.3043" stop-color="#888888"/><stop offset="0.3478" stop-color="#8c8c8c"/><stop offset="0.3913" stop-color="#7f7f7f"/><stop offset="0.4348" stop-color="#868686"/><stop offset="0.4783" stop-color="#5e5e5e"/><stop offset="0.5217" stop-color="#464646"/><stop offset="0.5652" stop-color="#4b4b4b"/><stop offset="0.6087" stop-color="#3f3f3f"/><stop offset="0.6522" stop-color="#313131"/><stop offset="0.6957" stop-color="#3f3f3f"/><stop offset="0.7391" stop-color="#4d4d4d"/><stop offset="0.7826" stop-color="#404040"/><stop offset="0.8261" stop-color="#262626"/><stop offset="0.8696" stop-color="#292929"/><stop offset="0.913" stop-color="#242424"/><stop offset="0.9565" stop-color="#4d4d4d"/><stop offset="1" stop-color="#575757"/></linearGradient>
<linearGradient id="gc9" gradientUnits="userSpaceOnUse" x1="14.40" x2="676.60" y1="0" y2="0"><stop offset="0" stop-color="#7f7f7f"/><stop offset="0.04348" stop-color="#9c9c9c"/><stop offset="0.08696" stop-color="#8c8c8c"/><stop offset="0.1304" stop-color="#7f7f7f"/><stop offset="0.1739" stop-color="#818181"/><stop offset="0.2174" stop-color="#7e7e7e"/><stop offset="0.2609" stop-color="#adadad"/><stop offset="0.3043" stop-color="#7d7d7d"/><stop offset="0.3478" stop-color="#808080"/><stop offset="0.3913" stop-color="#838383"/><stop offset="0.4348" stop-color="#7a7a7a"/><stop offset="0.4783" stop-color="#555555"/><stop offset="0.5217" stop-color="#3c3c3c"/><stop offset="0.5652" stop-color="#4f4f4f"/><stop offset="0.6087" stop-color="#414141"/><stop offset="0.6522" stop-color="#343434"/><stop offset="0.6957" stop-color="#313131"/><stop offset="0.7391" stop-color="#5b5b5b"/><stop offset="0.7826" stop-color="#595959"/><stop offset="0.8261" stop-color="#404040"/><stop offset="0.8696" stop-color="#252525"/><stop offset="0.913" stop-color="#323232"/><stop offset="0.9565" stop-color="#494949"/><stop offset="1" stop-color="#626262"/></linearGradient>
<linearGradient id="gc10" gradientUnits="userSpaceOnUse" x1="14.40" x2="676.60" y1="0" y2="0"><stop offset="0" stop-color="#7e7e7e"/><stop offset="0.04348" stop-color="#8a8a8a"/><stop offset="0.08696" stop-color="#a8a8a8"/><stop offset="0.1304" stop-color="#898989"/><stop offset="0.1739" stop-color="#7e7e7e"/><stop offset="0.2174" stop-color="#6f6f6f"/><stop offset="0.2609" stop-color="#818181"/><stop offset="0.3043" stop-color="#767676"/><stop offset="0.3478" stop-color="#797979"/><stop offset="0.3913" stop-color="#6b6b6b"/><stop offset="0.4348" stop-color="#626262"/><stop offset="0.4783" stop-color="#3b3b3b"/><stop offset="0.5217" stop-color="#313131"/><stop offset="0.5652" stop-color="#323232"/><stop offset="0.6087" stop-color="#434343"/><stop offset="0.6522" stop-color="#252525"/><stop offset="0.6957" stop-color="#222222"/><stop offset="0.7391" stop-color="#565656"/><stop offset="0.7826" stop-color="#6f6f6f"/><stop offset="0.8261" stop-color="#454545"/><stop offset="0.8696" stop-color="#2f2f2f"/><stop offset="0.913" stop-color="#3f3f3f"/><stop offset="0.9565" stop-color="#656565"/><stop offset="1" stop-color="#6c6c6c"/></linearGradient>
<linearGradient id="gc11" gradientUnits="userSpaceOnUse" x1="14.40" x2="676.60" y1="0" y2="0"><stop offset="0" stop-color="#818181"/><stop offset="0.04348" stop-color="#7d7d7d"/><stop offset="0.08696" stop-color="#9a9a9a"/><stop offset="0.1304" stop-color="#9a9a9a"/><stop offset="0.1739" stop-color="#8e8e8e"/><stop offset="0.2174" stop-color="#838383"/><stop offset="0.2609" stop-color="#7a7a7a"/><stop offset="0.3043" stop-color="#3f3f3f"/><stop offset="0.3478" stop-color="#535353"/><stop offset="0.3913" stop-color="#555555"/><stop offset="0.4348" stop-color="#484848"/><stop offset="0.4783" stop-color="#3d3d3d"/><stop offset="0.5217" stop-color="#323232"/><stop offset="0.5652" stop-color="#323232"/><stop offset="0.6087" stop-color="#414141"/><stop offset="0.6522" stop-color="#323232"/><stop offset="0.6957" stop-color="#1f1f1f"/><stop offset="0.7391" stop-color="#5f5f5f"/><stop offset="0.7826" stop-color="#a2a2a2"/><stop offset="0.8261" stop-color="#888888"/><stop offset="0.8696" stop-color="#363636"/><stop offset="0.913" stop-color="#3b3b3b"/><stop offset="0.9565" stop-color="#535353"/><stop offset="1" stop-color="#8c8c8c"/></linearGradient>
<linearGradient id="gc12" gradientUnits="userSpaceOnUse" x1="14.40" x2="676.60" y1="0" y2="0"><stop offset="0" stop-color="#737373"/><stop offset="0.04348" stop-color="#727272"/><stop offset="0.08696" stop-color="#808080"/><stop offset="0.1304" stop-color="#7f7f7f"/><stop offset="0.1739" stop-color="#818181"/><stop offset="0.2174" stop-color="#767676"/><stop offset="0.2609" stop-color="#4d4d4d"/><stop offset="0.3043" stop-color="#565656"/><stop offset="0.3478" stop-color="#393939"/><stop offset="0.3913" stop-color="#4b4b4b"/><stop offset="0.4348" stop-color="#393939"/><stop offset="0.4783" stop-color="#5b5b5b"/><stop offset="0.5217" stop-color="#3d3d3d"/><stop offset="0.5652" stop-color="#404040"/><stop offset="0.6087" stop-color="#4e4e4e"/><stop offset="0.6522" stop-color="#5d5d5d"/><stop offset="0.6957" stop-color="#373737"/><stop offset="0.7391" stop-color="#656565"/><stop offset="0.7826" stop-color="#c6c6c6"/><stop offset="0.8261" stop-color="#acacac"/><stop offset="0.8696" stop-color="#3d3d3d"/><stop offset="0.913" stop-color="#585858"/><stop offset="0.9565" stop-color="#424242"/><stop offset="1" stop-color="#5e5e5e"/></linearGradient>
<linearGradient id="gc13" gradientUnits="userSpaceOnUse" x1="14.40" x2="676.60" y1="0" y2="0"><stop offset="0" stop-color="#757575"/><stop offset="0.04348" stop-color="#747474"/><stop offset="0.08696" stop-color="#747474"/><stop offset="0.1304" stop-color="#757575"/><stop offset="0.1739" stop-color="#666666"/><stop offset="0.2174" stop-color="#7a7a7a"/><stop offset="0.2609" stop-color="#5f5f5f"/><stop offset="0.3043" stop-color="#555555"/><stop offset="0.3478" stop-color="#494949"/><stop offset="0.3913" stop-color="#4b4b4b"/><stop offset="0.4348" stop-color="#484848"/><stop offset="0.4783" stop-color="#666666"/><stop offset="0.5217" stop-color="#484848"/><stop offset="0.5652" stop-color="#3b3b3b"/><stop offset="0.6087" stop-color="#383838"/><stop offset="0.6522" stop-color="#565656"/><stop offset="0.6957" stop-color="#3e3e3e"/><stop offset="0.7391" stop-color="#a3a3a3"/><stop offset="0.7826" stop-color="#b3b3b3"/><stop offset="0.8261" stop-color="#bababa"/><stop offset="0.8696" stop-color="#494949"/><stop offset="0.913" stop-color="#646464"/><stop offset="0.9565" stop-color="#636363"/><stop offset="1" stop-color="#616161"/></linearGradient>
<linearGradient id="gc14" gradientUnits="userSpaceOnUse" x1="14.40" x2="676.60" y1="0" y2="0"><stop offset="0" stop-color="#767676"/><stop offset="0.04348" stop-color="#767676"/><stop offset="0.08696" stop-color="#787878"/><stop offset="0.1304" stop-color="#696969"/><stop offset="0.1739" stop-color="#6b6b6b"/><stop offset="0.2174" stop-color="#6d6d6d"/><stop offset="0.2609" stop-color="#606060"/><stop offset="0.3043" stop-color="#646464"/><stop offset="0.3478" stop-color="#474747"/><stop offset="0.3913" stop-color="#484848"/><stop offset="0.4348" stop-color="#545454"/><stop offset="0.4783" stop-color="#606060"/><stop offset="0.5217" stop-color="#626262"/><stop offset="0.5652" stop-color="#545454"/><stop offset="0.6087" stop-color="#616161"/><stop offset="0.6522" stop-color="#6e6e6e"/><stop offset="0.6957" stop-color="#6c6c6c"/><stop offset="0.7391" stop-color="#626262"/><stop offset="0.7826" stop-color="#9a9a9a"/><stop offset="0.8261" stop-color="#8d8d8d"/><stop offset="0.8696" stop-color="#5a5a5a"/><stop offset="0.913" stop-color="#535353"/><stop offset="0.9565" stop-color="#545454"/><stop offset="1" stop-color="#646464"/></linearGradient>
<linearGradient id="gc15" gradientUnits="userSpaceOnUse" x1="14.40" x2="676.60" y1="0" y2="0"><stop offset="0" stop-color="#6a6a6a"/><stop offset="0.04348" stop-color="#6a6a6a"/><stop offset="0.08696" stop-color="#6b6b6b"/><stop offset="0.1304" stop-color="#5d5d5d"/><stop offset="0.1739" stop-color="#5f5f5f"/><stop offset="0.2174" stop-color="#515151"/><stop offset="0.2609" stop-color="#535353"/><stop offset="0.3043" stop-color="#555555"/><stop offset="0.3478" stop-color="#575757"/><stop offset="0.3913" stop-color="#454545"/><stop offset="0.4348" stop-color="#606060"/><stop offset="0.4783" stop-color="#7d7d7d"/><stop offset="0.5217" stop-color="#5d5d5d"/><stop offset="0.5652" stop-color="#5e5e5e"/><stop offset="0.6087" stop-color="#797979"/><stop offset="0.6522" stop-color="#878787"/><stop offset="0.6957" stop-color="#5a5a5a"/><stop offset="0.7391" stop-color="#696969"/><stop offset="0.7826" stop-color="#919191"/><stop offset="0.8261" stop-color="#828282"/><stop offset="0.8696" stop-color="#6d6d6d"/><stop offset="0.913" stop-color="#454545"/><stop offset="0.9565" stop-color="#484848"/><stop offset="1" stop-color="#484848"/></linearGradient>
<linearGradient id="gc16" gradientUnits="userSpaceOnUse" x1="14.40" x2="676.60" y1="0" y2="0"><stop offset="0" stop-color="#5e5e5e"/><stop offset="0.04348" stop-color="#5e5e5e"/><stop offset="0.08696" stop-color="#5e5e5e"/><stop offset="0.1304" stop-color="#606060"/><stop offset="0.1739" stop-color="#626262"/><stop offset="0.2174" stop-color="#545454"/><stop offset="0.2609" stop-color="#555555"/><stop offset="0.3043" stop-color="#565656"/><stop offset="0.3478" stop-color="#444444"/><stop offset="0.3913" stop-color="#636363"/><stop offset="0.4348" stop-color="#5d5d5d"/><stop offset="0.4783" stop-color="#7a7a7a"/><stop offset="0.5217" stop-color="#6a6a6a"/><stop offset="0.5652" stop-color="#5a5a5a"/><stop offset="0.6087" stop-color="#757575"/><stop offset="0.6522" stop-color="#949494"/><stop offset="0.6957" stop-color="#4a4a4a"/><stop offset="0.7391" stop-color="#4e4e4e"/><stop offset="0.7826" stop-color="#898989"/><stop offset="0.8261" stop-color="#787878"/><stop offset="0.8696" stop-color="#5f5f5f"/><stop offset="0.913" stop-color="#474747"/><stop offset="0.9565" stop-color="#4a4a4a"/><stop offset="1" stop-color="#4a4a4a"/></linearGradient>
<linearGradient id="gc17" gradientUnits="userSpaceOnUse" x1="14.40" x2="676.60" y1="0" y2="0"><stop offset="0" stop-color="#606060"/><stop offset="0.04348" stop-color="#606060"/><stop offset="0.08696" stop-color="#606060"/><stop offset="0.1304" stop-color="#616161"/><stop offset="0.1739" stop-color="#535353"/><stop offset="0.2174" stop-color="#555555"/><stop offset="0.2609" stop-color="#555555"/><stop offset="0.3043" stop-color="#555555"/><stop offset="0.3478" stop-color="#515151"/><stop offset="0.3913" stop-color="#6f6f6f"/><stop offset="0.4348" stop-color="#5b5b5b"/><stop offset="0.4783" stop-color="#797979"/><stop offset="0.5217" stop-color="#777777"/><stop offset="0.5652" stop-color="#666666"/><stop offset="0.6087" stop-color="#737373"/><stop offset="0.6522" stop-color="#939393"/><stop offset="0.6957" stop-color="#7c7c7c"/><stop offset="0.7391" stop-color="#313131"/><stop offset="0.7826" stop-color="#606060"/><stop offset="0.8261" stop-color="#5d5d5d"/><stop offset="0.8696" stop-color="#626262"/><stop offset="0.913" stop-color="#464646"/><stop offset="0.9565" stop-color="#494949"/><stop offset="1" stop-color="#494949"/></linearGradient>
<linearGradient id="gc18" gradientUnits="userSpaceOnUse" x1="14.40" x2="676.60" y1="0" y2="0"><stop offset="0" stop-color="#606060"/><stop offset="0.04348" stop-color="#606060"/><stop offset="0.08696" stop-color="#606060"/><stop offset="0.1304" stop-color="#616161"/><stop offset="0.1739" stop-color="#545454"/><stop offset="0.2174" stop-color="#464646"/><stop offset="0.2609" stop-color="#565656"/><stop offset="0.3043" stop-color="#545454"/><stop offset="0.3478" stop-color="#707070"/><stop offset="0.3913" stop-color="#6b6b6b"/><stop offset="0.4348" stop-color="#6a6a6a"/><stop offset="0.4783" stop-color="#696969"/><stop offset="0.5217" stop-color="#767676"/><stop offset="0.5652" stop-color="#858585"/><stop offset="0.6087" stop-color="#848484"/><stop offset="0.6522" stop-color="#747474"/><stop offset="0.6957" stop-color="#7b7b7b"/><stop offset="0.7391" stop-color="#414141"/><stop offset="0.7826" stop-color="#646464"/><stop offset="0.8261" stop-color="#616161"/><stop offset="0.8696" stop-color="#636363"/><stop offset="0.913" stop-color="#555555"/><stop offset="0.9565" stop-color="#575757"/><stop offset="1" stop-color="#575757"/></linearGradient>
<linearGradient id="gc19" gradientUnits="userSpaceOnUse" x1="14.40" x2="676.60" y1="0" y2="0"><stop offset="0" stop-color="#606060"/><stop offset="0.04348" stop-color="#606060"/><stop offset="0.08696" stop-color="#606060"/><stop offset="0.1304" stop-color="#616161"/><stop offset="0.1739" stop-color="#535353"/><stop offset="0.2174" stop-color="#565656"/><stop offset="0.2609" stop-color="#575757"/><stop offset="0.3043" stop-color="#444444"/><stop offset="0.3478" stop-color="#5e5e5e"/><stop offset="0.3913" stop-color="#7a7a7a"/><stop offset="0.4348" stop-color="#7a7a7a"/><stop offset="0.4783" stop-color="#585858"/><stop offset="0.5217" stop-color="#787878"/><stop offset="0.5652" stop-color="#656565"/><stop offset="0.6087" stop-color="#777777"/><stop offset="0.6522" stop-color="#686868"/><stop offset="0.6957" stop-color="#6c6c6c"/><stop offset="0.7391" stop-color="#616161"/><stop offset="0.7826" stop-color="#545454"/><stop offset="0.8261" stop-color="#555555"/><stop offset="0.8696" stop-color="#555555"/><stop offset="0.913" stop-color="#565656"/><stop offset="0.9565" stop-color="#575757"/><stop offset="1" stop-color="#575757"/></linearGradient>
<linearGradient id="gc20" gradientUnits="userSpaceOnUse" x1="14.40" x2="676.60" y1="0" y2="0"><stop offset="0" stop-color="#606060"/><stop offset="0.04348" stop-color="#606060"/><stop offset="0.08696" stop-color="#606060"/><stop offset="0.1304" stop-color="#606060"/><stop offset="0.1739" stop-color="#626262"/><stop offset="0.2174" stop-color="#555555"/><stop offset="0.2609" stop-color="#464646"/><stop offset="0.3043" stop-color="#535353"/><stop offset="0.3478" stop-color="#6d6d6d"/><stop offset="0.3913" stop-color="#696969"/><stop offset="0.4348" stop-color="#696969"/><stop offset="0.4783" stop-color="#696969"/><stop offset="0.5217" stop-color="#797979"/><stop offset="0.5652" stop-color="#696969"/><stop offset="0.6087" stop-color="#6a6a6a"/><stop offset="0.6522" stop-color="#6d6d6d"/><stop offset="0.6957" stop-color="#606060"/><stop offset="0.7391" stop-color="#646464"/><stop offset="0.7826" stop-color="#474747"/><stop offset="0.8261" stop-color="#494949"/><stop offset="0.8696" stop-color="#494949"/><stop offset="0.913" stop-color="#494949"/><stop offset="0.9565" stop-color="#494949"/><stop offset="1" stop-color="#494949"/></linearGradient>
<linearGradient id="gc21" gradientUnits="userSpaceOnUse" x1="14.40" x2="676.60" y1="0" y2="0"><stop offset="0" stop-color="#606060"/><stop offset="0.04348" stop-color="#606060"/><stop offset="0.08696" stop-color="#606060"/><stop offset="0.1304" stop-color="#606060"/><stop offset="0.1739" stop-color="#616161"/><stop offset="0.2174" stop-color="#535353"/><stop offset="0.2609" stop-color="#535353"/><stop offset="0.3043" stop-color="#606060"/><stop offset="0.3478" stop-color="#6b6b6b"/><stop offset="0.3913" stop-color="#7a7a7a"/><stop offset="0.4348" stop-color="#6b6b6b"/><stop offset="0.4783" stop-color="#6b6b6b"/><stop offset="0.5217" stop-color="#6a6a6a"/><stop offset="0.5652" stop-color="#6a6a6a"/><stop offset="0.6087" stop-color="#6d6d6d"/><stop offset="0.6522" stop-color="#515151"/><stop offset="0.6957" stop-color="#555555"/><stop offset="0.7391" stop-color="#484848"/><stop offset="0.7826" stop-color="#4a4a4a"/><stop offset="0.8261" stop-color="#4a4a4a"/><stop offset="0.8696" stop-color="#4a4a4a"/><stop offset="0.913" stop-color="#4a4a4a"/><stop offset="0.9565" stop-color="#4a4a4a"/><stop offset="1" stop-color="#4a4a4a"/></linearGradient>
<linearGradient id="gc22" gradientUnits="userSpaceOnUse" x1="14.40" x2="676.60" y1="0" y2="0"><stop offset="0" stop-color="#5e5e5e"/><stop offset="0.04348" stop-color="#5e5e5e"/><stop offset="0.08696" stop-color="#5e5e5e"/><stop offset="0.1304" stop-color="#5e5e5e"/><stop offset="0.1739" stop-color="#5f5f5f"/><stop offset="0.2174" stop-color="#606060"/><stop offset="0.2609" stop-color="#616161"/><stop offset="0.3043" stop-color="#5f5f5f"/><stop offset="0.3478" stop-color="#6d6d6d"/><stop offset="0.3913" stop-color="#6c6c6c"/><stop offset="0.4348" stop-color="#5e5e5e"/><stop offset="0.4783" stop-color="#5e5e5e"/><stop offset="0.5217" stop-color="#6d6d6d"/><stop offset="0.5652" stop-color="#6d6d6d"/><stop offset="0.6087" stop-color="#606060"/><stop offset="0.6522" stop-color="#565656"/><stop offset="0.6957" stop-color="#4a4a4a"/><stop offset="0.7391" stop-color="#3c3c3c"/><stop offset="0.7826" stop-color="#4c4c4c"/><stop offset="0.8261" stop-color="#4a4a4a"/><stop offset="0.8696" stop-color="#4a4a4a"/><stop offset="0.913" stop-color="#4a4a4a"/><stop offset="0.9565" stop-color="#4a4a4a"/><stop offset="1" stop-color="#4a4a4a"/></linearGradient>
<linearGradient id="gc23" gradientUnits="userSpaceOnUse" x1="14.40" x2="676.60" y1="0" y2="0"><stop offset="0" stop-color="#6d6d6d"/><stop offset="0.04348" stop-color="#6d6d6d"/><stop offset="0.08696" stop-color="#6d6d6d"/><stop offset="0.1304" stop-color="#6d6d6d"/><stop offset="0.1739" stop-color="#6e6e6e"/><stop offset="0.2174" stop-color="#5f5f5f"/><stop offset="0.2609" stop-color="#606060"/><stop offset="0.3043" stop-color="#606060"/><stop offset="0.3478" stop-color="#5f5f5f"/><stop offset="0.3913" stop-color="#606060"/><stop offset="0.4348" stop-color="#515151"/><stop offset="0.4783" stop-color="#626262"/><stop offset="0.5217" stop-color="#606060"/><stop offset="0.5652" stop-color="#616161"/><stop offset="0.6087" stop-color="#545454"/><stop offset="0.6522" stop-color="#4a4a4a"/><stop offset="0.6957" stop-color="#3d3d3d"/><stop offset="0.7391" stop-color="#3d3d3d"/><stop offset="0.7826" stop-color="#4c4c4c"/><stop offset="0.8261" stop-color="#4a4a4a"/><stop offset="0.8696" stop-color="#4a4a4a"/><stop offset="0.913" stop-color="#4a4a4a"/><stop offset="0.9565" stop-color="#4a4a4a"/><stop offset="1" stop-color="#4a4a4a"/></linearGradient>
<linearGradient id="gc24" gradientUnits="userSpaceOnUse" x1="14.40" x2="676.60" y1="0" y2="0"><stop offset="0" stop-color="#5e5e5e"/><stop offset="0.04348" stop-color="#5e5e5e"/><stop offset="0.08696" stop-color="#5e5e5e"/><stop offset="0.1304" stop-color="#5e5e5e"/><stop offset="0.1739" stop-color="#5e5e5e"/><stop offset="0.2174" stop-color="#5f5f5f"/><stop offset="0.2609" stop-color="#606060"/><stop offset="0.3043" stop-color="#626262"/><stop offset="0.3478" stop-color="#525252"/><stop offset="0.3913" stop-color="#636363"/><stop offset="0.4348" stop-color="#535353"/><stop offset="0.4783" stop-color="#535353"/><stop offset="0.5217" stop-color="#525252"/><stop offset="0.5652" stop-color="#535353"/><stop offset="0.6087" stop-color="#575757"/><stop offset="0.6522" stop-color="#3b3b3b"/><stop offset="0.6957" stop-color="#3d3d3d"/><stop offset="0.7391" stop-color="#4c4c4c"/><stop offset="0.7826" stop-color="#4b4b4b"/><stop offset="0.8261" stop-color="#4a4a4a"/><stop offset="0.8696" stop-color="#4a4a4a"/><stop offset="0.913" stop-color="#4a4a4a"/><stop offset="0.9565" stop-color="#4a4a4a"/><stop offset="1" stop-color="#4a4a4a"/></linearGradient>
<linearGradient id="gc25" gradientUnits="userSpaceOnUse" x1="14.40" x2="676.60" y1="0" y2="0"><stop offset="0" stop-color="#606060"/><stop offset="0.04348" stop-color="#606060"/><stop offset="0.08696" stop-color="#606060"/><stop offset="0.1304" stop-color="#606060"/><stop offset="0.1739" stop-color="#606060"/><stop offset="0.2174" stop-color="#5f5f5f"/><stop offset="0.2609" stop-color="#5f5f5f"/><stop offset="0.3043" stop-color="#505050"/><stop offset="0.3478" stop-color="#515151"/><stop offset="0.3913" stop-color="#515151"/><stop offset="0.4348" stop-color="#515151"/><stop offset="0.4783" stop-color="#616161"/><stop offset="0.5217" stop-color="#626262"/><stop offset="0.5652" stop-color="#535353"/><stop offset="0.6087" stop-color="#565656"/><stop offset="0.6522" stop-color="#494949"/><stop offset="0.6957" stop-color="#4b4b4b"/><stop offset="0.7391" stop-color="#4b4b4b"/><stop offset="0.7826" stop-color="#4a4a4a"/><stop offset="0.8261" stop-color="#4a4a4a"/><stop offset="0.8696" stop-color="#4a4a4a"/><stop offset="0.913" stop-color="#4a4a4a"/><stop offset="0.9565" stop-color="#4a4a4a"/><stop offset="1" stop-color="#4a4a4a"/></linearGradient>
<linearGradient id="gc26" gradientUnits="userSpaceOnUse" x1="14.40" x2="676.60" y1="0" y2="0"><stop offset="0" stop-color="#5c5c5c"/><stop offset="0.04348" stop-color="#5c5c5c"/><stop offset="0.08696" stop-color="#5c5c5c"/><stop offset="0.1304" stop-color="#5c5c5c"/><stop offset="0.1739" stop-color="#5c5c5c"/><stop offset="0.2174" stop-color="#5c5c5c"/><stop offset="0.2609" stop-color="#6b6b6b"/><stop offset="0.3043" stop-color="#6b6b6b"/><stop offset="0.3478" stop-color="#6c6c6c"/><stop offset="0.3913" stop-color="#6d6d6d"/><stop offset="0.4348" stop-color="#6d6d6d"/><stop offset="0.4783" stop-color="#6d6d6d"/><stop offset="0.5217" stop-color="#5e5e5e"/><stop offset="0.5652" stop-color="#626262"/><stop offset="0.6087" stop-color="#545454"/><stop offset="0.6522" stop-color="#575757"/><stop offset="0.6957" stop-color="#484848"/><stop offset="0.7391" stop-color="#494949"/><stop offset="0.7826" stop-color="#494949"/><stop offset="0.8261" stop-color="#494949"/><stop offset="0.8696" stop-color="#494949"/><stop offset="0.913" stop-color="#494949"/><stop offset="0.9565" stop-color="#494949"/><stop offset="1" stop-color="#494949"/></linearGradient>
<linearGradient id="gc27" gradientUnits="userSpaceOnUse" x1="14.40" x2="676.60" y1="0" y2="0"><stop offset="0" stop-color="#787878"/><stop offset="0.04348" stop-color="#787878"/><stop offset="0.08696" stop-color="#787878"/><stop offset="0.1304" stop-color="#787878"/><stop offset="0.1739" stop-color="#787878"/><stop offset="0.2174" stop-color="#787878"/><stop offset="0.2609" stop-color="#777777"/><stop offset="0.3043" stop-color="#767676"/><stop offset="0.3478" stop-color="#787878"/><stop offset="0.3913" stop-color="#696969"/><stop offset="0.4348" stop-color="#6a6a6a"/><stop offset="0.4783" stop-color="#6b6b6b"/><stop offset="0.5217" stop-color="#6d6d6d"/><stop offset="0.5652" stop-color="#606060"/><stop offset="0.6087" stop-color="#535353"/><stop offset="0.6522" stop-color="#555555"/><stop offset="0.6957" stop-color="#565656"/><stop offset="0.7391" stop-color="#575757"/><stop offset="0.7826" stop-color="#575757"/><stop offset="0.8261" stop-color="#575757"/><stop offset="0.8696" stop-color="#575757"/><stop offset="0.913" stop-color="#575757"/><stop offset="0.9565" stop-color="#575757"/><stop offset="1" stop-color="#575757"/></linearGradient>
<linearGradient id="gd0" gradientUnits="userSpaceOnUse" x1="14.40" x2="676.60" y1="0" y2="0"><stop offset="0" stop-color="#373737"/><stop offset="0.04348" stop-color="#292929"/><stop offset="0.08696" stop-color="#2a2a2a"/><stop offset="0.1304" stop-color="#2a2a2a"/><stop offset="0.1739" stop-color="#2a2a2a"/><stop offset="0.2174" stop-color="#2a2a2a"/><stop offset="0.2609" stop-color="#2a2a2a"/><stop offset="0.3043" stop-color="#2a2a2a"/><stop offset="0.3478" stop-color="#2a2a2a"/><stop offset="0.3913" stop-color="#282828"/><stop offset="0.4348" stop-color="#363636"/><stop offset="0.4783" stop-color="#343434"/><stop offset="0.5217" stop-color="#333333"/><stop offset="0.5652" stop-color="#323232"/><stop offset="0.6087" stop-color="#343434"/><stop offset="0.6522" stop-color="#272727"/><stop offset="0.6957" stop-color="#2a2a2a"/><stop offset="0.7391" stop-color="#2a2a2a"/><stop offset="0.7826" stop-color="#292929"/><stop offset="0.8261" stop-color="#383838"/><stop offset="0.8696" stop-color="#363636"/><stop offset="0.913" stop-color="#343434"/><stop offset="0.9565" stop-color="#404040"/><stop offset="1" stop-color="#4d4d4d"/></linearGradient>
<linearGradient id="gd1" gradientUnits="userSpaceOnUse" x1="14.40" x2="676.60" y1="0" y2="0"><stop offset="0" stop-color="#353535"/><stop offset="0.04348" stop-color="#272727"/><stop offset="0.08696" stop-color="#292929"/><stop offset="0.1304" stop-color="#2a2a2a"/><stop offset="0.1739" stop-color="#2a2a2a"/><stop offset="0.2174" stop-color="#2a2a2a"/><stop offset="0.2609" stop-color="#2a2a2a"/><stop offset="0.3043" stop-color="#292929"/><stop offset="0.3478" stop-color="#282828"/><stop offset="0.3913" stop-color="#373737"/><stop offset="0.4348" stop-color="#333333"/><stop offset="0.4783" stop-color="#3f3f3f"/><stop offset="0.5217" stop-color="#3c3c3c"/><stop offset="0.5652" stop-color="#4b4b4b"/><stop offset="0.6087" stop-color="#4b4b4b"/><stop offset="0.6522" stop-color="#404040"/><stop offset="0.6957" stop-color="#262626"/><stop offset="0.7391" stop-color="#2a2a2a"/><stop offset="0.7826" stop-color="#2a2a2a"/><stop offset="0.8261" stop-color="#282828"/><stop offset="0.8696" stop-color="#363636"/><stop offset="0.913" stop-color="#343434"/><stop offset="0.9565" stop-color="#424242"/><stop offset="1" stop-color="#3f3f3f"/></linearGradient>
<linearGradient id="gd2" gradientUnits="userSpaceOnUse" x1="14.40" x2="676.60" y1="0" y2="0"><stop offset="0" stop-color="#434343"/><stop offset="0.04348" stop-color="#343434"/><stop offset="0.08696" stop-color="#363636"/><stop offset="0.1304" stop-color="#282828"/><stop offset="0.1739" stop-color="#292929"/><stop offset="0.2174" stop-color="#292929"/><stop offset="0.2609" stop-color="#282828"/><stop offset="0.3043" stop-color="#363636"/><stop offset="0.3478" stop-color="#353535"/><stop offset="0.3913" stop-color="#323232"/><stop offset="0.4348" stop-color="#3d3d3d"/><stop offset="0.4783" stop-color="#555555"/><stop offset="0.5217" stop-color="#606060"/><stop offset="0.5652" stop-color="#5a5a5a"/><stop offset="0.6087" stop-color="#686868"/><stop offset="0.6522" stop-color="#4f4f4f"/><stop offset="0.6957" stop-color="#3b3b3b"/><stop offset="0.7391" stop-color="#242424"/><stop offset="0.7826" stop-color="#292929"/><stop offset="0.8261" stop-color="#292929"/><stop offset="0.8696" stop-color="#383838"/><stop offset="0.913" stop-color="#353535"/><stop offset="0.9565" stop-color="#333333"/><stop offset="1" stop-color="#414141"/></linearGradient>
<linearGradient id="gd3" gradientUnits="userSpaceOnUse" x1="14.40" x2="676.60" y1="0" y2="0"><stop offset="0" stop-color="#404040"/><stop offset="0.04348" stop-color="#414141"/><stop offset="0.08696" stop-color="#434343"/><stop offset="0.1304" stop-color="#343434"/><stop offset="0.1739" stop-color="#353535"/><stop offset="0.2174" stop-color="#353535"/><stop offset="0.2609" stop-color="#333333"/><stop offset="0.3043" stop-color="#414141"/><stop offset="0.3478" stop-color="#3f3f3f"/><stop offset="0.3913" stop-color="#3b3b3b"/><stop offset="0.4348" stop-color="#545454"/><stop offset="0.4783" stop-color="#7c7c7c"/><stop offset="0.5217" stop-color="#838383"/><stop offset="0.5652" stop-color="#989898"/><stop offset="0.6087" stop-color="#d4d4d4"/><stop offset="0.6522" stop-color="#9b9b9b"/><stop offset="0.6957" stop-color="#6d6d6d"/><stop offset="0.7391" stop-color="#4d4d4d"/><stop offset="0.7826" stop-color="#363636"/><stop offset="0.8261" stop-color="#292929"/><stop offset="0.8696" stop-color="#292929"/><stop offset="0.913" stop-color="#373737"/><stop offset="0.9565" stop-color="#343434"/><stop offset="1" stop-color="#414141"/></linearGradient>
<linearGradient id="gd4" gradientUnits="userSpaceOnUse" x1="14.40" x2="676.60" y1="0" y2="0"><stop offset="0" stop-color="#3e3e3e"/><stop offset="0.04348" stop-color="#3e3e3e"/><stop offset="0.08696" stop-color="#3f3f3f"/><stop offset="0.1304" stop-color="#3f3f3f"/><stop offset="0.1739" stop-color="#404040"/><stop offset="0.2174" stop-color="#3f3f3f"/><stop offset="0.2609" stop-color="#4d4d4d"/><stop offset="0.3043" stop-color="#4a4a4a"/><stop offset="0.3478" stop-color="#474747"/><stop offset="0.3913" stop-color="#636363"/><stop offset="0.4348" stop-color="#6d6d6d"/><stop offset="0.4783" stop-color="#777777"/><stop offset="0.5217" stop-color="#7e7e7e"/><stop offset="0.5652" stop-color="#b2b2b2"/><stop offset="0.6087" stop-color="#cacaca"/><stop offset="0.6522" stop-color="#d3d3d3"/><stop offset="0.6957" stop-color="#757575"/><stop offset="0.7391" stop-color="#484848"/><stop offset="0.7826" stop-color="#343434"/><stop offset="0.8261" stop-color="#292929"/><stop offset="0.8696" stop-color="#2a2a2a"/><stop offset="0.913" stop-color="#292929"/><stop offset="0.9565" stop-color="#363636"/><stop offset="1" stop-color="#434343"/></linearGradient>
<linearGradient id="gd5" gradientUnits="userSpaceOnUse" x1="14.40" x2="676.60" y1="0" y2="0"><stop offset="0" stop-color="#494949"/><stop offset="0.04348" stop-color="#494949"/><stop offset="0.08696" stop-color="#494949"/><stop offset="0.1304" stop-color="#494949"/><stop offset="0.1739" stop-color="#484848"/><stop offset="0.2174" stop-color="#464646"/><stop offset="0.2609" stop-color="#555555"/><stop offset="0.3043" stop-color="#535353"/><stop offset="0.3478" stop-color="#606060"/><stop offset="0.3913" stop-color="#6c6c6c"/><stop offset="0.4348" stop-color="#696969"/><stop offset="0.4783" stop-color="#666666"/><stop offset="0.5217" stop-color="#717171"/><stop offset="0.5652" stop-color="#898989"/><stop offset="0.6087" stop-color="#b5b5b5"/><stop offset="0.6522" stop-color="#8a8a8a"/><stop offset="0.6957" stop-color="#6b6b6b"/><stop offset="0.7391" stop-color="#4b4b4b"/><stop offset="0.7826" stop-color="#353535"/><stop offset="0.8261" stop-color="#292929"/><stop offset="0.8696" stop-color="#2a2a2a"/><stop offset="0.913" stop-color="#2a2a2a"/><stop offset="0.9565" stop-color="#272727"/><stop offset="1" stop-color="#353535"/></linearGradient>
<linearGradient id="gd6" gradientUnits="userSpaceOnUse" x1="14.40" x2="676.60" y1="0" y2="0"><stop offset="0" stop-color="#616161"/><stop offset="0.04348" stop-color="#616161"/><stop offset="0.08696" stop-color="#616161"/><stop offset="0.1304" stop-color="#616161"/><stop offset="0.1739" stop-color="#606060"/><stop offset="0.2174" stop-color="#6e6e6e"/><stop offset="0.2609" stop-color="#6c6c6c"/><stop offset="0.3043" stop-color="#6b6b6b"/><stop offset="0.3478" stop-color="#676767"/><stop offset="0.3913" stop-color="#747474"/><stop offset="0.4348" stop-color="#747474"/><stop offset="0.4783" stop-color="#757575"/><stop offset="0.5217" stop-color="#757575"/><stop offset="0.5652" stop-color="#757575"/><stop offset="0.6087" stop-color="#767676"/><stop offset="0.6522" stop-color="#6a6a6a"/><stop offset="0.6957" stop-color="#545454"/><stop offset="0.7391" stop-color="#303030"/><stop offset="0.7826" stop-color="#272727"/><stop offset="0.8261" stop-color="#2a2a2a"/><stop offset="0.8696" stop-color="#292929"/><stop offset="0.913" stop-color="#272727"/><stop offset="0.9565" stop-color="#363636"/><stop offset="1" stop-color="#343434"/></linearGradient>
<linearGradient id="gd7" gradientUnits="userSpaceOnUse" x1="14.40" x2="676.60" y1="0" y2="0"><stop offset="0" stop-color="#696969"/><stop offset="0.04348" stop-color="#696969"/><stop offset="0.08696" stop-color="#696969"/><stop offset="0.1304" stop-color="#696969"/><stop offset="0.1739" stop-color="#676767"/><stop offset="0.2174" stop-color="#767676"/><stop offset="0.2609" stop-color="#757575"/><stop offset="0.3043" stop-color="#747474"/><stop offset="0.3478" stop-color="#808080"/><stop offset="0.3913" stop-color="#9d9d9d"/><stop offset="0.4348" stop-color="#8f8f8f"/><stop offset="0.4783" stop-color="#747474"/><stop offset="0.5217" stop-color="#7a7a7a"/><stop offset="0.5652" stop-color="#616161"/><stop offset="0.6087" stop-color="#343434"/><stop offset="0.6522" stop-color="#666666"/><stop offset="0.6957" stop-color="#4a4a4a"/><stop offset="0.7391" stop-color="#323232"/><stop offset="0.7826" stop-color="#282828"/><stop offset="0.8261" stop-color="#292929"/><stop offset="0.8696" stop-color="#363636"/><stop offset="0.913" stop-color="#434343"/><stop offset="0.9565" stop-color="#404040"/><stop offset="1" stop-color="#404040"/></linearGradient>
<linearGradient id="gd8" gradientUnits="userSpaceOnUse" x1="14.40" x2="676.60" y1="0" y2="0"><stop offset="0" stop-color="#818181"/><stop offset="0.04348" stop-color="#818181"/><stop offset="0.08696" stop-color="#818181"/><stop offset="0.1304" stop-color="#818181"/><stop offset="0.1739" stop-color="#808080"/><stop offset="0.2174" stop-color="#7f7f7f"/><stop offset="0.2609" stop-color="#808080"/><stop offset="0.3043" stop-color="#818181"/><stop offset="0.3478" stop-color="#7e7e7e"/><stop offset="0.3913" stop-color="#ababab"/><stop offset="0.4348" stop-color="#8f8f8f"/><stop offset="0.4783" stop-color="#696969"/><stop offset="0.5217" stop-color="#626262"/><stop offset="0.5652" stop-color="#393939"/><stop offset="0.6087" stop-color="#2e2e2e"/><stop offset="0.6522" stop-color="#4c4c4c"/><stop offset="0.6957" stop-color="#4c4c4c"/><stop offset="0.7391" stop-color="#404040"/><stop offset="0.7826" stop-color="#343434"/><stop offset="0.8261" stop-color="#262626"/><stop offset="0.8696" stop-color="#333333"/><stop offset="0.913" stop-color="#4e4e4e"/><stop offset="0.9565" stop-color="#4a4a4a"/><stop offset="1" stop-color="#4a4a4a"/></linearGradient>
<linearGradient id="gd9" gradientUnits="userSpaceOnUse" x1="14.40" x2="676.60" y1="0" y2="0"><stop offset="0" stop-color="#8a8a8a"/><stop offset="0.04348" stop-color="#8a8a8a"/><stop offset="0.08696" stop-color="#8a8a8a"/><stop offset="0.1304" stop-color="#888888"/><stop offset="0.1739" stop-color="#999999"/><stop offset="0.2174" stop-color="#898989"/><stop offset="0.2609" stop-color="#9c9c9c"/><stop offset="0.3043" stop-color="#6f6f6f"/><stop offset="0.3478" stop-color="#616161"/><stop offset="0.3913" stop-color="#929292"/><stop offset="0.4348" stop-color="#777777"/><stop offset="0.4783" stop-color="#535353"/><stop offset="0.5217" stop-color="#3a3a3a"/><stop offset="0.5652" stop-color="#505050"/><stop offset="0.6087" stop-color="#313131"/><stop offset="0.6522" stop-color="#3f3f3f"/><stop offset="0.6957" stop-color="#4c4c4c"/><stop offset="0.7391" stop-color="#4c4c4c"/><stop offset="0.7826" stop-color="#404040"/><stop offset="0.8261" stop-color="#444444"/><stop offset="0.8696" stop-color="#313131"/><stop offset="0.913" stop-color="#5b5b5b"/><stop offset="0.9565" stop-color="#555555"/><stop offset="1" stop-color="#555555"/></linearGradient>
<linearGradient id="gd10" gradientUnits="userSpaceOnUse" x1="14.40" x2="676.60" y1="0" y2="0"><stop offset="0" stop-color="#969696"/><stop offset="0.04348" stop-color="#969696"/><stop offset="0.08696" stop-color="#959595"/><stop offset="0.1304" stop-color="#a5a5a5"/><stop offset="0.1739" stop-color="#a7a7a7"/><stop offset="0.2174" stop-color="#878787"/><stop offset="0.2609" stop-color="#aaaaaa"/><stop offset="0.3043" stop-color="#7e7e7e"/><stop offset="0.3478" stop-color="#767676"/><stop offset="0.3913" stop-color="#696969"/><stop offset="0.4348" stop-color="#606060"/><stop offset="0.4783" stop-color="#393939"/><stop offset="0.5217" stop-color="#303030"/><stop offset="0.5652" stop-color="#414141"/><stop offset="0.6087" stop-color="#313131"/><stop offset="0.6522" stop-color="#404040"/><stop offset="0.6957" stop-color="#4a4a4a"/><stop offset="0.7391" stop-color="#575757"/><stop offset="0.7826" stop-color="#3b3b3b"/><stop offset="0.8261" stop-color="#313131"/><stop offset="0.8696" stop-color="#313131"/><stop offset="0.913" stop-color="#474747"/><stop offset="0.9565" stop-color="#6e6e6e"/><stop offset="1" stop-color="#5c5c5c"/></linearGradient>
<linearGradient id="gd11" gradientUnits="userSpaceOnUse" x1="14.40" x2="676.60" y1="0" y2="0"><stop offset="0" stop-color="#959595"/><stop offset="0.04348" stop-color="#949494"/><stop offset="0.08696" stop-color="#a4a4a4"/><stop offset="0.1304" stop-color="#949494"/><stop offset="0.1739" stop-color="#878787"/><stop offset="0.2174" stop-color="#797979"/><stop offset="0.2609" stop-color="#8b8b8b"/><stop offset="0.3043" stop-color="#919191"/><stop offset="0.3478" stop-color="#686868"/><stop offset="0.3913" stop-color="#5e5e5e"/><stop offset="0.4348" stop-color="#545454"/><stop offset="0.4783" stop-color="#4c4c4c"/><stop offset="0.5217" stop-color="#2f2f2f"/><stop offset="0.5652" stop-color="#3f3f3f"/><stop offset="0.6087" stop-color="#404040"/><stop offset="0.6522" stop-color="#2d2d2d"/><stop offset="0.6957" stop-color="#555555"/><stop offset="0.7391" stop-color="#6c6c6c"/><stop offset="0.7826" stop-color="#5e5e5e"/><stop offset="0.8261" stop-color="#383838"/><stop offset="0.8696" stop-color="#2d2d2d"/><stop offset="0.913" stop-color="#424242"/><stop offset="0.9565" stop-color="#a8a8a8"/><stop offset="1" stop-color="#707070"/></linearGradient>
<linearGradient id="gd12" gradientUnits="userSpaceOnUse" x1="14.40" x2="676.60" y1="0" y2="0"><stop offset="0" stop-color="#959595"/><stop offset="0.04348" stop-color="#969696"/><stop offset="0.08696" stop-color="#969696"/><stop offset="0.1304" stop-color="#979797"/><stop offset="0.1739" stop-color="#8a8a8a"/><stop offset="0.2174" stop-color="#8c8c8c"/><stop offset="0.2609" stop-color="#8f8f8f"/><stop offset="0.3043" stop-color="#656565"/><stop offset="0.3478" stop-color="#5d5d5d"/><stop offset="0.3913" stop-color="#616161"/><stop offset="0.4348" stop-color="#545454"/><stop offset="0.4783" stop-color="#494949"/><stop offset="0.5217" stop-color="#3c3c3c"/><stop offset="0.5652" stop-color="#5c5c5c"/><stop offset="0.6087" stop-color="#4b4b4b"/><stop offset="0.6522" stop-color="#393939"/><stop offset="0.6957" stop-color="#5b5b5b"/><stop offset="0.7391" stop-color="#9c9c9c"/><stop offset="0.7826" stop-color="#acacac"/><stop offset="0.8261" stop-color="#676767"/><stop offset="0.8696" stop-color="#424242"/><stop offset="0.913" stop-color="#5f5f5f"/><stop offset="0.9565" stop-color="#838383"/><stop offset="1" stop-color="#aeaeae"/></linearGradient>
<linearGradient id="gd13" gradientUnits="userSpaceOnUse" x1="14.40" x2="676.60" y1="0" y2="0"><stop offset="0" stop-color="#979797"/><stop offset="0.04348" stop-color="#888888"/><stop offset="0.08696" stop-color="#8a8a8a"/><stop offset="0.1304" stop-color="#8b8b8b"/><stop offset="0.1739" stop-color="#8d8d8d"/><stop offset="0.2174" stop-color="#7e7e7e"/><stop offset="0.2609" stop-color="#949494"/><stop offset="0.3043" stop-color="#5a5a5a"/><stop offset="0.3478" stop-color="#606060"/><stop offset="0.3913" stop-color="#4f4f4f"/><stop offset="0.4348" stop-color="#626262"/><stop offset="0.4783" stop-color="#555555"/><stop offset="0.5217" stop-color="#474747"/><stop offset="0.5652" stop-color="#454545"/><stop offset="0.6087" stop-color="#666666"/><stop offset="0.6522" stop-color="#303030"/><stop offset="0.6957" stop-color="#828282"/><stop offset="0.7391" stop-color="#d1d1d1"/><stop offset="0.7826" stop-color="#acacac"/><stop offset="0.8261" stop-color="#cccccc"/><stop offset="0.8696" stop-color="#444444"/><stop offset="0.913" stop-color="#6a6a6a"/><stop offset="0.9565" stop-color="#656565"/><stop offset="1" stop-color="#727272"/></linearGradient>
<linearGradient id="gd14" gradientUnits="userSpaceOnUse" x1="14.40" x2="676.60" y1="0" y2="0"><stop offset="0" stop-color="#8b8b8b"/><stop offset="0.04348" stop-color="#8c8c8c"/><stop offset="0.08696" stop-color="#7d7d7d"/><stop offset="0.1304" stop-color="#7f7f7f"/><stop offset="0.1739" stop-color="#717171"/><stop offset="0.2174" stop-color="#757575"/><stop offset="0.2609" stop-color="#686868"/><stop offset="0.3043" stop-color="#5c5c5c"/><stop offset="0.3478" stop-color="#5c5c5c"/><stop offset="0.3913" stop-color="#6c6c6c"/><stop offset="0.4348" stop-color="#6c6c6c"/><stop offset="0.4783" stop-color="#5e5e5e"/><stop offset="0.5217" stop-color="#616161"/><stop offset="0.5652" stop-color="#606060"/><stop offset="0.6087" stop-color="#6d6d6d"/><stop offset="0.6522" stop-color="#676767"/><stop offset="0.6957" stop-color="#787878"/><stop offset="0.7391" stop-color="#cccccc"/><stop offset="0.7826" stop-color="#ababab"/><stop offset="0.8261" stop-color="#858585"/><stop offset="0.8696" stop-color="#929292"/><stop offset="0.913" stop-color="#878787"/><stop offset="0.9565" stop-color="#696969"/><stop offset="1" stop-color="#6c6c6c"/></linearGradient>
<linearGradient id="gd15" gradientUnits="userSpaceOnUse" x1="14.40" x2="676.60" y1="0" y2="0"><stop offset="0" stop-color="#7e7e7e"/><stop offset="0.04348" stop-color="#7e7e7e"/><stop offset="0.08696" stop-color="#808080"/><stop offset="0.1304" stop-color="#828282"/><stop offset="0.1739" stop-color="#757575"/><stop offset="0.2174" stop-color="#686868"/><stop offset="0.2609" stop-color="#5a5a5a"/><stop offset="0.3043" stop-color="#6c6c6c"/><stop offset="0.3478" stop-color="#7b7b7b"/><stop offset="0.3913" stop-color="#787878"/><stop offset="0.4348" stop-color="#787878"/><stop offset="0.4783" stop-color="#696969"/><stop offset="0.5217" stop-color="#6b6b6b"/><stop offset="0.5652" stop-color="#5a5a5a"/><stop offset="0.6087" stop-color="#777777"/><stop offset="0.6522" stop-color="#808080"/><stop offset="0.6957" stop-color="#a9a9a9"/><stop offset="0.7391" stop-color="#b0b0b0"/><stop offset="0.7826" stop-color="#b2b2b2"/><stop offset="0.8261" stop-color="#8b8b8b"/><stop offset="0.8696" stop-color="#636363"/><stop offset="0.913" stop-color="#7a7a7a"/><stop offset="0.9565" stop-color="#5e5e5e"/><stop offset="1" stop-color="#515151"/></linearGradient>
<linearGradient id="gd16" gradientUnits="userSpaceOnUse" x1="14.40" x2="676.60" y1="0" y2="0"><stop offset="0" stop-color="#808080"/><stop offset="0.04348" stop-color="#808080"/><stop offset="0.08696" stop-color="#818181"/><stop offset="0.1304" stop-color="#747474"/><stop offset="0.1739" stop-color="#676767"/><stop offset="0.2174" stop-color="#7a7a7a"/><stop offset="0.2609" stop-color="#6a6a6a"/><stop offset="0.3043" stop-color="#6b6b6b"/><stop offset="0.3478" stop-color="#5a5a5a"/><stop offset="0.3913" stop-color="#686868"/><stop offset="0.4348" stop-color="#767676"/><stop offset="0.4783" stop-color="#777777"/><stop offset="0.5217" stop-color="#797979"/><stop offset="0.5652" stop-color="#696969"/><stop offset="0.6087" stop-color="#757575"/><stop offset="0.6522" stop-color="#a2a2a2"/><stop offset="0.6957" stop-color="#6c6c6c"/><stop offset="0.7391" stop-color="#8b8b8b"/><stop offset="0.7826" stop-color="#8c8c8c"/><stop offset="0.8261" stop-color="#838383"/><stop offset="0.8696" stop-color="#5c5c5c"/><stop offset="0.913" stop-color="#515151"/><stop offset="0.9565" stop-color="#535353"/><stop offset="1" stop-color="#555555"/></linearGradient>
<linearGradient id="gd17" gradientUnits="userSpaceOnUse" x1="14.40" x2="676.60" y1="0" y2="0"><stop offset="0" stop-color="#808080"/><stop offset="0.04348" stop-color="#808080"/><stop offset="0.08696" stop-color="#818181"/><stop offset="0.1304" stop-color="#757575"/><stop offset="0.1739" stop-color="#686868"/><stop offset="0.2174" stop-color="#696969"/><stop offset="0.2609" stop-color="#6a6a6a"/><stop offset="0.3043" stop-color="#6b6b6b"/><stop offset="0.3478" stop-color="#5a5a5a"/><stop offset="0.3913" stop-color="#787878"/><stop offset="0.4348" stop-color="#767676"/><stop offset="0.4783" stop-color="#676767"/><stop offset="0.5217" stop-color="#696969"/><stop offset="0.5652" stop-color="#696969"/><stop offset="0.6087" stop-color="#666666"/><stop offset="0.6522" stop-color="#747474"/><stop offset="0.6957" stop-color="#646464"/><stop offset="0.7391" stop-color="#757575"/><stop offset="0.7826" stop-color="#656565"/><stop offset="0.8261" stop-color="#6b6b6b"/><stop offset="0.8696" stop-color="#515151"/><stop offset="0.913" stop-color="#555555"/><stop offset="0.9565" stop-color="#555555"/><stop offset="1" stop-color="#555555"/></linearGradient>
<linearGradient id="gd18" gradientUnits="userSpaceOnUse" x1="14.40" x2="676.60" y1="0" y2="0"><stop offset="0" stop-color="#818181"/><stop offset="0.04348" stop-color="#818181"/><stop offset="0.08696" stop-color="#828282"/><stop offset="0.1304" stop-color="#757575"/><stop offset="0.1739" stop-color="#686868"/><stop offset="0.2174" stop-color="#6a6a6a"/><stop offset="0.2609" stop-color="#6b6b6b"/><stop offset="0.3043" stop-color="#6a6a6a"/><stop offset="0.3478" stop-color="#787878"/><stop offset="0.3913" stop-color="#767676"/><stop offset="0.4348" stop-color="#787878"/><stop offset="0.4783" stop-color="#6a6a6a"/><stop offset="0.5217" stop-color="#6b6b6b"/><stop offset="0.5652" stop-color="#696969"/><stop offset="0.6087" stop-color="#787878"/><stop offset="0.6522" stop-color="#787878"/><stop offset="0.6957" stop-color="#686868"/><stop offset="0.7391" stop-color="#7a7a7a"/><stop offset="0.7826" stop-color="#6b6b6b"/><stop offset="0.8261" stop-color="#5f5f5f"/><stop offset="0.8696" stop-color="#535353"/><stop offset="0.913" stop-color="#555555"/><stop offset="0.9565" stop-color="#555555"/><stop offset="1" stop-color="#555555"/></linearGradient>
<linearGradient id="gd19" gradientUnits="userSpaceOnUse" x1="14.40" x2="676.60" y1="0" y2="0"><stop offset="0" stop-color="#737373"/><stop offset="0.04348" stop-color="#737373"/><stop offset="0.08696" stop-color="#747474"/><stop offset="0.1304" stop-color="#757575"/><stop offset="0.1739" stop-color="#777777"/><stop offset="0.2174" stop-color="#696969"/><stop offset="0.2609" stop-color="#5a5a5a"/><stop offset="0.3043" stop-color="#696969"/><stop offset="0.3478" stop-color="#767676"/><stop offset="0.3913" stop-color="#757575"/><stop offset="0.4348" stop-color="#676767"/><stop offset="0.4783" stop-color="#595959"/><stop offset="0.5217" stop-color="#6b6b6b"/><stop offset="0.5652" stop-color="#6a6a6a"/><stop offset="0.6087" stop-color="#696969"/><stop offset="0.6522" stop-color="#6a6a6a"/><stop offset="0.6957" stop-color="#6c6c6c"/><stop offset="0.7391" stop-color="#5e5e5e"/><stop offset="0.7826" stop-color="#606060"/><stop offset="0.8261" stop-color="#626262"/><stop offset="0.8696" stop-color="#545454"/><stop offset="0.913" stop-color="#555555"/><stop offset="0.9565" stop-color="#555555"/><stop offset="1" stop-color="#555555"/></linearGradient>
<linearGradient id="gd20" gradientUnits="userSpaceOnUse" x1="14.40" x2="676.60" y1="0" y2="0"><stop offset="0" stop-color="#757575"/><stop offset="0.04348" stop-color="#757575"/><stop offset="0.08696" stop-color="#757575"/><stop offset="0.1304" stop-color="#757575"/><stop offset="0.1739" stop-color="#767676"/><stop offset="0.2174" stop-color="#797979"/><stop offset="0.2609" stop-color="#6a6a6a"/><stop offset="0.3043" stop-color="#696969"/><stop offset="0.3478" stop-color="#787878"/><stop offset="0.3913" stop-color="#767676"/><stop offset="0.4348" stop-color="#888888"/><stop offset="0.4783" stop-color="#7a7a7a"/><stop offset="0.5217" stop-color="#6b6b6b"/><stop offset="0.5652" stop-color="#6c6c6c"/><stop offset="0.6087" stop-color="#6d6d6d"/><stop offset="0.6522" stop-color="#5d5d5d"/><stop offset="0.6957" stop-color="#606060"/><stop offset="0.7391" stop-color="#535353"/><stop offset="0.7826" stop-color="#545454"/><stop offset="0.8261" stop-color="#545454"/><stop offset="0.8696" stop-color="#555555"/><stop offset="0.913" stop-color="#555555"/><stop offset="0.9565" stop-color="#555555"/><stop offset="1" stop-color="#555555"/></linearGradient>
<linearGradient id="gd21" gradientUnits="userSpaceOnUse" x1="14.40" x2="676.60" y1="0" y2="0"><stop offset="0" stop-color="#757575"/><stop offset="0.04348" stop-color="#757575"/><stop offset="0.08696" stop-color="#757575"/><stop offset="0.1304" stop-color="#767676"/><stop offset="0.1739" stop-color="#666666"/><stop offset="0.2174" stop-color="#676767"/><stop offset="0.2609" stop-color="#686868"/><stop offset="0.3043" stop-color="#696969"/><stop offset="0.3478" stop-color="#696969"/><stop offset="0.3913" stop-color="#696969"/><stop offset="0.4348" stop-color="#696969"/><stop offset="0.4783" stop-color="#5a5a5a"/><stop offset="0.5217" stop-color="#5c5c5c"/><stop offset="0.5652" stop-color="#5e5e5e"/><stop offset="0.6087" stop-color="#5f5f5f"/><stop offset="0.6522" stop-color="#606060"/><stop offset="0.6957" stop-color="#636363"/><stop offset="0.7391" stop-color="#464646"/><stop offset="0.7826" stop-color="#575757"/><stop offset="0.8261" stop-color="#555555"/><stop offset="0.8696" stop-color="#555555"/><stop offset="0.913" stop-color="#555555"/><stop offset="0.9565" stop-color="#555555"/><stop offset="1" stop-color="#555555"/></linearGradient>
<linearGradient id="gd22" gradientUnits="userSpaceOnUse" x1="14.40" x2="676.60" y1="0" y2="0"><stop offset="0" stop-color="#757575"/><stop offset="0.04348" stop-color="#757575"/><stop offset="0.08696" stop-color="#757575"/><stop offset="0.1304" stop-color="#757575"/><stop offset="0.1739" stop-color="#767676"/><stop offset="0.2174" stop-color="#767676"/><stop offset="0.2609" stop-color="#777777"/><stop offset="0.3043" stop-color="#797979"/><stop offset="0.3478" stop-color="#6b6b6b"/><stop offset="0.3913" stop-color="#6d6d6d"/><stop offset="0.4348" stop-color="#5e5e5e"/><stop offset="0.4783" stop-color="#6e6e6e"/><stop offset="0.5217" stop-color="#6e6e6e"/><stop offset="0.5652" stop-color="#606060"/><stop offset="0.6087" stop-color="#505050"/><stop offset="0.6522" stop-color="#626262"/><stop offset="0.6957" stop-color="#545454"/><stop offset="0.7391" stop-color="#484848"/><stop offset="0.7826" stop-color="#484848"/><stop offset="0.8261" stop-color="#565656"/><stop offset="0.8696" stop-color="#555555"/><stop offset="0.913" stop-color="#555555"/><stop offset="0.9565" stop-color="#555555"/><stop offset="1" stop-color="#555555"/></linearGradient>
<linearGradient id="gd23" gradientUnits="userSpaceOnUse" x1="14.40" x2="676.60" y1="0" y2="0"><stop offset="0" stop-color="#757575"/><stop offset="0.04348" stop-color="#757575"/><stop offset="0.08696" stop-color="#757575"/><stop offset="0.1304" stop-color="#757575"/><stop offset="0.1739" stop-color="#757575"/><stop offset="0.2174" stop-color="#757575"/><stop offset="0.2609" stop-color="#767676"/><stop offset="0.3043" stop-color="#696969"/><stop offset="0.3478" stop-color="#5c5c5c"/><stop offset="0.3913" stop-color="#5f5f5f"/><stop offset="0.4348" stop-color="#505050"/><stop offset="0.4783" stop-color="#606060"/><stop offset="0.5217" stop-color="#5f5f5f"/><stop offset="0.5652" stop-color="#606060"/><stop offset="0.6087" stop-color="#606060"/><stop offset="0.6522" stop-color="#626262"/><stop offset="0.6957" stop-color="#555555"/><stop offset="0.7391" stop-color="#484848"/><stop offset="0.7826" stop-color="#494949"/><stop offset="0.8261" stop-color="#575757"/><stop offset="0.8696" stop-color="#555555"/><stop offset="0.913" stop-color="#555555"/><stop offset="0.9565" stop-color="#555555"/><stop offset="1" stop-color="#555555"/></linearGradient>
<linearGradient id="gd24" gradientUnits="userSpaceOnUse" x1="14.40" x2="676.60" y1="0" y2="0"><stop offset="0" stop-color="#757575"/><stop offset="0.04348" stop-color="#757575"/><stop offset="0.08696" stop-color="#757575"/><stop offset="0.1304" stop-color="#757575"/><stop offset="0.1739" stop-color="#757575"/><stop offset="0.2174" stop-color="#757575"/><stop offset="0.2609" stop-color="#767676"/><stop offset="0.3043" stop-color="#6a6a6a"/><stop offset="0.3478" stop-color="#5d5d5d"/><stop offset="0.3913" stop-color="#5f5f5f"/><stop offset="0.4348" stop-color="#616161"/><stop offset="0.4783" stop-color="#515151"/><stop offset="0.5217" stop-color="#606060"/><stop offset="0.5652" stop-color="#606060"/><stop offset="0.6087" stop-color="#606060"/><stop offset="0.6522" stop-color="#616161"/><stop offset="0.6957" stop-color="#545454"/><stop offset="0.7391" stop-color="#575757"/><stop offset="0.7826" stop-color="#494949"/><stop offset="0.8261" stop-color="#484848"/><stop offset="0.8696" stop-color="#565656"/><stop offset="0.913" stop-color="#555555"/><stop offset="0.9565" stop-color="#555555"/><stop offset="1" stop-color="#555555"/></linearGradient>
<linearGradient id="gd25" gradientUnits="userSpaceOnUse" x1="14.40" x2="676.60" y1="0" y2="0"><stop offset="0" stop-color="#767676"/><stop offset="0.04348" stop-color="#767676"/><stop offset="0.08696" stop-color="#767676"/><stop offset="0.1304" stop-color="#767676"/><stop offset="0.1739" stop-color="#767676"/><stop offset="0.2174" stop-color="#757575"/><stop offset="0.2609" stop-color="#767676"/><stop offset="0.3043" stop-color="#686868"/><stop offset="0.3478" stop-color="#6b6b6b"/><stop offset="0.3913" stop-color="#6d6d6d"/><stop offset="0.4348" stop-color="#5e5e5e"/><stop offset="0.4783" stop-color="#5f5f5f"/><stop offset="0.5217" stop-color="#5f5f5f"/><stop offset="0.5652" stop-color="#5f5f5f"/><stop offset="0.6087" stop-color="#606060"/><stop offset="0.6522" stop-color="#616161"/><stop offset="0.6957" stop-color="#535353"/><stop offset="0.7391" stop-color="#575757"/><stop offset="0.7826" stop-color="#484848"/><stop offset="0.8261" stop-color="#484848"/><stop offset="0.8696" stop-color="#565656"/><stop offset="0.913" stop-color="#555555"/><stop offset="0.9565" stop-color="#555555"/><stop offset="1" stop-color="#555555"/></linearGradient>
<linearGradient id="gd26" gradientUnits="userSpaceOnUse" x1="14.40" x2="676.60" y1="0" y2="0"><stop offset="0" stop-color="#676767"/><stop offset="0.04348" stop-color="#676767"/><stop offset="0.08696" stop-color="#676767"/><stop offset="0.1304" stop-color="#676767"/><stop offset="0.1739" stop-color="#666666"/><stop offset="0.2174" stop-color="#767676"/><stop offset="0.2609" stop-color="#757575"/><stop offset="0.3043" stop-color="#777777"/><stop offset="0.3478" stop-color="#686868"/><stop offset="0.3913" stop-color="#696969"/><stop offset="0.4348" stop-color="#6b6b6b"/><stop offset="0.4783" stop-color="#6c6c6c"/><stop offset="0.5217" stop-color="#6d6d6d"/><stop offset="0.5652" stop-color="#5e5e5e"/><stop offset="0.6087" stop-color="#5f5f5f"/><stop offset="0.6522" stop-color="#616161"/><stop offset="0.6957" stop-color="#535353"/><stop offset="0.7391" stop-color="#575757"/><stop offset="0.7826" stop-color="#484848"/><stop offset="0.8261" stop-color="#575757"/><stop offset="0.8696" stop-color="#555555"/><stop offset="0.913" stop-color="#555555"/><stop offset="0.9565" stop-color="#555555"/><stop offset="1" stop-color="#555555"/></linearGradient>
<linearGradient id="gd27" gradientUnits="userSpaceOnUse" x1="14.40" x2="676.60" y1="0" y2="0"><stop offset="0" stop-color="#767676"/><stop offset="0.04348" stop-color="#767676"/><stop offset="0.08696" stop-color="#767676"/><stop offset="0.1304" stop-color="#767676"/><stop offset="0.1739" stop-color="#767676"/><stop offset="0.2174" stop-color="#757575"/><stop offset="0.2609" stop-color="#757575"/><stop offset="0.3043" stop-color="#757575"/><stop offset="0.3478" stop-color="#767676"/><stop offset="0.3913" stop-color="#787878"/><stop offset="0.4348" stop-color="#696969"/><stop offset="0.4783" stop-color="#6a6a6a"/><stop offset="0.5217" stop-color="#6b6b6b"/><stop offset="0.5652" stop-color="#6d6d6d"/><stop offset="0.6087" stop-color="#5e5e5e"/><stop offset="0.6522" stop-color="#616161"/><stop offset="0.6957" stop-color="#535353"/><stop offset="0.7391" stop-color="#575757"/><stop offset="0.7826" stop-color="#474747"/><stop offset="0.8261" stop-color="#575757"/><stop offset="0.8696" stop-color="#555555"/><stop offset="0.913" stop-color="#555555"/><stop offset="0.9565" stop-color="#555555"/><stop offset="1" stop-color="#555555"/></linearGradient>
</defs>
<g transform="translate(284,45)">
<rect x="-3" y="-2.7" width="5.2" height="724.1" fill="#262626"/>
<rect x="2.2" y="-2.7" width="2.6" height="720.7" fill="#808080"/>
<rect x="-3" y="715.4" width="697.6" height="5.6" fill="#262626"/>
<rect x="2" y="713.4" width="692.6" height="2.6" fill="#666"/>
<rect x="-3" y="-2.0" width="13.5" height="5" fill="#262626"/>
<rect x="-3" y="203.1" width="13.5" height="5" fill="#262626"/>
<rect x="-3" y="408.3" width="13.5" height="5" fill="#262626"/>
<rect x="-3" y="613.4" width="13.5" height="5" fill="#262626"/>
<g clip-path="url(#ma)"><g filter="url(#jet)">
<rect x="-30" y="-30" width="751.0" height="68.96" fill="url(#ga0)"/>
<rect x="-30" y="12.82" width="751.0" height="51.79" fill="url(#ga1)" mask="url(#vr)"/>
<rect x="-30" y="38.46" width="751.0" height="51.79" fill="url(#ga2)" mask="url(#vr)"/>
<rect x="-30" y="64.11" width="751.0" height="51.79" fill="url(#ga3)" mask="url(#vr)"/>
<rect x="-30" y="89.75" width="751.0" height="51.79" fill="url(#ga4)" mask="url(#vr)"/>
<rect x="-30" y="115.39" width="751.0" height="51.79" fill="url(#ga5)" mask="url(#vr)"/>
<rect x="-30" y="141.04" width="751.0" height="51.79" fill="url(#ga6)" mask="url(#vr)"/>
<rect x="-30" y="166.68" width="751.0" height="51.79" fill="url(#ga7)" mask="url(#vr)"/>
<rect x="-30" y="192.32" width="751.0" height="51.79" fill="url(#ga8)" mask="url(#vr)"/>
<rect x="-30" y="217.96" width="751.0" height="51.79" fill="url(#ga9)" mask="url(#vr)"/>
<rect x="-30" y="243.61" width="751.0" height="51.79" fill="url(#ga10)" mask="url(#vr)"/>
<rect x="-30" y="269.25" width="751.0" height="51.79" fill="url(#ga11)" mask="url(#vr)"/>
<rect x="-30" y="294.89" width="751.0" height="51.79" fill="url(#ga12)" mask="url(#vr)"/>
<rect x="-30" y="320.54" width="751.0" height="51.79" fill="url(#ga13)" mask="url(#vr)"/>
<rect x="-30" y="346.18" width="751.0" height="51.79" fill="url(#ga14)" mask="url(#vr)"/>
<rect x="-30" y="371.82" width="751.0" height="51.79" fill="url(#ga15)" mask="url(#vr)"/>
<rect x="-30" y="397.46" width="751.0" height="51.79" fill="url(#ga16)" mask="url(#vr)"/>
<rect x="-30" y="423.11" width="751.0" height="51.79" fill="url(#ga17)" mask="url(#vr)"/>
<rect x="-30" y="448.75" width="751.0" height="51.79" fill="url(#ga18)" mask="url(#vr)"/>
<rect x="-30" y="474.39" width="751.0" height="51.79" fill="url(#ga19)" mask="url(#vr)"/>
<rect x="-30" y="500.04" width="751.0" height="51.79" fill="url(#ga20)" mask="url(#vr)"/>
<rect x="-30" y="525.68" width="751.0" height="51.79" fill="url(#ga21)" mask="url(#vr)"/>
<rect x="-30" y="551.32" width="751.0" height="51.79" fill="url(#ga22)" mask="url(#vr)"/>
<rect x="-30" y="576.96" width="751.0" height="51.79" fill="url(#ga23)" mask="url(#vr)"/>
<rect x="-30" y="602.61" width="751.0" height="51.79" fill="url(#ga24)" mask="url(#vr)"/>
<rect x="-30" y="628.25" width="751.0" height="51.79" fill="url(#ga25)" mask="url(#vr)"/>
<rect x="-30" y="653.89" width="751.0" height="51.79" fill="url(#ga26)" mask="url(#vr)"/>
<rect x="-30" y="679.54" width="751.0" height="68.46" fill="url(#ga27)" mask="url(#vrl)"/>

</g></g>
<g clip-path="url(#box)"><use href="#coast"/></g>
<rect x="445.2" y="374.7" width="144.6" height="127.8" fill="none" stroke="#fff" stroke-width="8"/>
<text x="634" y="645.2" font-size="80" fill="#000">a<tspan dx="4">)</tspan></text>
</g>
<g transform="translate(1221.3,45)">
<rect x="-3" y="-2.7" width="5.2" height="724.1" fill="#262626"/>
<rect x="2.2" y="-2.7" width="2.6" height="720.7" fill="#808080"/>
<rect x="-3" y="715.4" width="697.6" height="5.6" fill="#262626"/>
<rect x="2" y="713.4" width="692.6" height="2.6" fill="#666"/>
<g clip-path="url(#mb)"><g filter="url(#jet)">
<rect x="-30" y="-30" width="751.0" height="68.96" fill="url(#gb0)"/>
<rect x="-30" y="12.82" width="751.0" height="51.79" fill="url(#gb1)" mask="url(#vr)"/>
<rect x="-30" y="38.46" width="751.0" height="51.79" fill="url(#gb2)" mask="url(#vr)"/>
<rect x="-30" y="64.11" width="751.0" height="51.79" fill="url(#gb3)" mask="url(#vr)"/>
<rect x="-30" y="89.75" width="751.0" height="51.79" fill="url(#gb4)" mask="url(#vr)"/>
<rect x="-30" y="115.39" width="751.0" height="51.79" fill="url(#gb5)" mask="url(#vr)"/>
<rect x="-30" y="141.04" width="751.0" height="51.79" fill="url(#gb6)" mask="url(#vr)"/>
<rect x="-30" y="166.68" width="751.0" height="51.79" fill="url(#gb7)" mask="url(#vr)"/>
<rect x="-30" y="192.32" width="751.0" height="51.79" fill="url(#gb8)" mask="url(#vr)"/>
<rect x="-30" y="217.96" width="751.0" height="51.79" fill="url(#gb9)" mask="url(#vr)"/>
<rect x="-30" y="243.61" width="751.0" height="51.79" fill="url(#gb10)" mask="url(#vr)"/>
<rect x="-30" y="269.25" width="751.0" height="51.79" fill="url(#gb11)" mask="url(#vr)"/>
<rect x="-30" y="294.89" width="751.0" height="51.79" fill="url(#gb12)" mask="url(#vr)"/>
<rect x="-30" y="320.54" width="751.0" height="51.79" fill="url(#gb13)" mask="url(#vr)"/>
<rect x="-30" y="346.18" width="751.0" height="51.79" fill="url(#gb14)" mask="url(#vr)"/>
<rect x="-30" y="371.82" width="751.0" height="51.79" fill="url(#gb15)" mask="url(#vr)"/>
<rect x="-30" y="397.46" width="751.0" height="51.79" fill="url(#gb16)" mask="url(#vr)"/>
<rect x="-30" y="423.11" width="751.0" height="51.79" fill="url(#gb17)" mask="url(#vr)"/>
<rect x="-30" y="448.75" width="751.0" height="51.79" fill="url(#gb18)" mask="url(#vr)"/>
<rect x="-30" y="474.39" width="751.0" height="51.79" fill="url(#gb19)" mask="url(#vr)"/>
<rect x="-30" y="500.04" width="751.0" height="51.79" fill="url(#gb20)" mask="url(#vr)"/>
<rect x="-30" y="525.68" width="751.0" height="51.79" fill="url(#gb21)" mask="url(#vr)"/>
<rect x="-30" y="551.32" width="751.0" height="51.79" fill="url(#gb22)" mask="url(#vr)"/>
<rect x="-30" y="576.96" width="751.0" height="51.79" fill="url(#gb23)" mask="url(#vr)"/>
<rect x="-30" y="602.61" width="751.0" height="51.79" fill="url(#gb24)" mask="url(#vr)"/>
<rect x="-30" y="628.25" width="751.0" height="51.79" fill="url(#gb25)" mask="url(#vr)"/>
<rect x="-30" y="653.89" width="751.0" height="51.79" fill="url(#gb26)" mask="url(#vr)"/>
<rect x="-30" y="679.54" width="751.0" height="68.46" fill="url(#gb27)" mask="url(#vrl)"/>

</g></g>
<g clip-path="url(#box)"><use href="#coast"/></g>
<rect x="445.2" y="374.7" width="144.6" height="127.8" fill="none" stroke="#fff" stroke-width="8"/>
<text x="634" y="645.2" font-size="80" fill="#000">b<tspan dx="4">)</tspan></text>
</g>
<g transform="translate(284,1052)">
<rect x="-3" y="-2.7" width="5.2" height="724.1" fill="#262626"/>
<rect x="2.2" y="-2.7" width="2.6" height="720.7" fill="#808080"/>
<rect x="-3" y="715.4" width="697.6" height="5.6" fill="#262626"/>
<rect x="2" y="713.4" width="692.6" height="2.6" fill="#666"/>
<rect x="-3" y="-2.0" width="13.5" height="5" fill="#262626"/>
<rect x="-3" y="203.1" width="13.5" height="5" fill="#262626"/>
<rect x="-3" y="408.3" width="13.5" height="5" fill="#262626"/>
<rect x="-3" y="613.4" width="13.5" height="5" fill="#262626"/>
<rect x="226.1" y="707" width="6.4" height="14" fill="#262626"/>
<rect x="456.5" y="707" width="6.4" height="14" fill="#262626"/>
<rect x="686.8" y="707" width="6.4" height="14" fill="#262626"/>
<g clip-path="url(#mc)"><g filter="url(#jet)">
<rect x="-30" y="-30" width="751.0" height="68.96" fill="url(#gc0)"/>
<rect x="-30" y="12.82" width="751.0" height="51.79" fill="url(#gc1)" mask="url(#vr)"/>
<rect x="-30" y="38.46" width="751.0" height="51.79" fill="url(#gc2)" mask="url(#vr)"/>
<rect x="-30" y="64.11" width="751.0" height="51.79" fill="url(#gc3)" mask="url(#vr)"/>
<rect x="-30" y="89.75" width="751.0" height="51.79" fill="url(#gc4)" mask="url(#vr)"/>
<rect x="-30" y="115.39" width="751.0" height="51.79" fill="url(#gc5)" mask="url(#vr)"/>
<rect x="-30" y="141.04" width="751.0" height="51.79" fill="url(#gc6)" mask="url(#vr)"/>
<rect x="-30" y="166.68" width="751.0" height="51.79" fill="url(#gc7)" mask="url(#vr)"/>
<rect x="-30" y="192.32" width="751.0" height="51.79" fill="url(#gc8)" mask="url(#vr)"/>
<rect x="-30" y="217.96" width="751.0" height="51.79" fill="url(#gc9)" mask="url(#vr)"/>
<rect x="-30" y="243.61" width="751.0" height="51.79" fill="url(#gc10)" mask="url(#vr)"/>
<rect x="-30" y="269.25" width="751.0" height="51.79" fill="url(#gc11)" mask="url(#vr)"/>
<rect x="-30" y="294.89" width="751.0" height="51.79" fill="url(#gc12)" mask="url(#vr)"/>
<rect x="-30" y="320.54" width="751.0" height="51.79" fill="url(#gc13)" mask="url(#vr)"/>
<rect x="-30" y="346.18" width="751.0" height="51.79" fill="url(#gc14)" mask="url(#vr)"/>
<rect x="-30" y="371.82" width="751.0" height="51.79" fill="url(#gc15)" mask="url(#vr)"/>
<rect x="-30" y="397.46" width="751.0" height="51.79" fill="url(#gc16)" mask="url(#vr)"/>
<rect x="-30" y="423.11" width="751.0" height="51.79" fill="url(#gc17)" mask="url(#vr)"/>
<rect x="-30" y="448.75" width="751.0" height="51.79" fill="url(#gc18)" mask="url(#vr)"/>
<rect x="-30" y="474.39" width="751.0" height="51.79" fill="url(#gc19)" mask="url(#vr)"/>
<rect x="-30" y="500.04" width="751.0" height="51.79" fill="url(#gc20)" mask="url(#vr)"/>
<rect x="-30" y="525.68" width="751.0" height="51.79" fill="url(#gc21)" mask="url(#vr)"/>
<rect x="-30" y="551.32" width="751.0" height="51.79" fill="url(#gc22)" mask="url(#vr)"/>
<rect x="-30" y="576.96" width="751.0" height="51.79" fill="url(#gc23)" mask="url(#vr)"/>
<rect x="-30" y="602.61" width="751.0" height="51.79" fill="url(#gc24)" mask="url(#vr)"/>
<rect x="-30" y="628.25" width="751.0" height="51.79" fill="url(#gc25)" mask="url(#vr)"/>
<rect x="-30" y="653.89" width="751.0" height="51.79" fill="url(#gc26)" mask="url(#vr)"/>
<rect x="-30" y="679.54" width="751.0" height="68.46" fill="url(#gc27)" mask="url(#vrl)"/>

</g></g>
<g clip-path="url(#box)"><use href="#coast"/></g>
<rect x="445.2" y="374.7" width="144.6" height="127.8" fill="none" stroke="#fff" stroke-width="8"/>
<text x="634" y="645.2" font-size="80" fill="#000">c<tspan dx="4">)</tspan></text>
</g>
<g transform="translate(1221.3,1052)">
<rect x="-3" y="-2.7" width="5.2" height="724.1" fill="#262626"/>
<rect x="2.2" y="-2.7" width="2.6" height="720.7" fill="#808080"/>
<rect x="-3" y="715.4" width="697.6" height="5.6" fill="#262626"/>
<rect x="2" y="713.4" width="692.6" height="2.6" fill="#666"/>
<rect x="226.1" y="707" width="6.4" height="14" fill="#262626"/>
<rect x="456.5" y="707" width="6.4" height="14" fill="#262626"/>
<rect x="686.8" y="707" width="6.4" height="14" fill="#262626"/>
<g clip-path="url(#md)"><g filter="url(#jet)">
<rect x="-30" y="-30" width="751.0" height="68.96" fill="url(#gd0)"/>
<rect x="-30" y="12.82" width="751.0" height="51.79" fill="url(#gd1)" mask="url(#vr)"/>
<rect x="-30" y="38.46" width="751.0" height="51.79" fill="url(#gd2)" mask="url(#vr)"/>
<rect x="-30" y="64.11" width="751.0" height="51.79" fill="url(#gd3)" mask="url(#vr)"/>
<rect x="-30" y="89.75" width="751.0" height="51.79" fill="url(#gd4)" mask="url(#vr)"/>
<rect x="-30" y="115.39" width="751.0" height="51.79" fill="url(#gd5)" mask="url(#vr)"/>
<rect x="-30" y="141.04" width="751.0" height="51.79" fill="url(#gd6)" mask="url(#vr)"/>
<rect x="-30" y="166.68" width="751.0" height="51.79" fill="url(#gd7)" mask="url(#vr)"/>
<rect x="-30" y="192.32" width="751.0" height="51.79" fill="url(#gd8)" mask="url(#vr)"/>
<rect x="-30" y="217.96" width="751.0" height="51.79" fill="url(#gd9)" mask="url(#vr)"/>
<rect x="-30" y="243.61" width="751.0" height="51.79" fill="url(#gd10)" mask="url(#vr)"/>
<rect x="-30" y="269.25" width="751.0" height="51.79" fill="url(#gd11)" mask="url(#vr)"/>
<rect x="-30" y="294.89" width="751.0" height="51.79" fill="url(#gd12)" mask="url(#vr)"/>
<rect x="-30" y="320.54" width="751.0" height="51.79" fill="url(#gd13)" mask="url(#vr)"/>
<rect x="-30" y="346.18" width="751.0" height="51.79" fill="url(#gd14)" mask="url(#vr)"/>
<rect x="-30" y="371.82" width="751.0" height="51.79" fill="url(#gd15)" mask="url(#vr)"/>
<rect x="-30" y="397.46" width="751.0" height="51.79" fill="url(#gd16)" mask="url(#vr)"/>
<rect x="-30" y="423.11" width="751.0" height="51.79" fill="url(#gd17)" mask="url(#vr)"/>
<rect x="-30" y="448.75" width="751.0" height="51.79" fill="url(#gd18)" mask="url(#vr)"/>
<rect x="-30" y="474.39" width="751.0" height="51.79" fill="url(#gd19)" mask="url(#vr)"/>
<rect x="-30" y="500.04" width="751.0" height="51.79" fill="url(#gd20)" mask="url(#vr)"/>
<rect x="-30" y="525.68" width="751.0" height="51.79" fill="url(#gd21)" mask="url(#vr)"/>
<rect x="-30" y="551.32" width="751.0" height="51.79" fill="url(#gd22)" mask="url(#vr)"/>
<rect x="-30" y="576.96" width="751.0" height="51.79" fill="url(#gd23)" mask="url(#vr)"/>
<rect x="-30" y="602.61" width="751.0" height="51.79" fill="url(#gd24)" mask="url(#vr)"/>
<rect x="-30" y="628.25" width="751.0" height="51.79" fill="url(#gd25)" mask="url(#vr)"/>
<rect x="-30" y="653.89" width="751.0" height="51.79" fill="url(#gd26)" mask="url(#vr)"/>
<rect x="-30" y="679.54" width="751.0" height="68.46" fill="url(#gd27)" mask="url(#vrl)"/>

</g></g>
<g clip-path="url(#box)"><use href="#coast"/></g>
<rect x="445.2" y="374.7" width="144.6" height="127.8" fill="none" stroke="#fff" stroke-width="8"/>
<text x="634" y="645.2" font-size="80" fill="#000">d<tspan dx="4">)</tspan></text>
</g>
<text transform="translate(249.5,80.0) scale(0.975,1)" font-size="86" text-anchor="end" fill="#262626">20</text>
<text transform="translate(249.5,284.5) scale(0.975,1)" font-size="86" text-anchor="end" fill="#262626">0</text>
<text transform="translate(249.5,488.5) scale(0.975,1)" font-size="86" text-anchor="end" fill="#262626">-20</text>
<text transform="translate(249.5,692.5) scale(0.975,1)" font-size="86" text-anchor="end" fill="#262626">-40</text>
<text transform="translate(89.7,403.5) rotate(-90) scale(0.975,1)" font-size="86" text-anchor="middle" fill="#262626">Lat. (°)</text>
<text transform="translate(249.5,1087.0) scale(0.975,1)" font-size="86" text-anchor="end" fill="#262626">20</text>
<text transform="translate(249.5,1291.5) scale(0.975,1)" font-size="86" text-anchor="end" fill="#262626">0</text>
<text transform="translate(249.5,1495.5) scale(0.975,1)" font-size="86" text-anchor="end" fill="#262626">-20</text>
<text transform="translate(249.5,1699.5) scale(0.975,1)" font-size="86" text-anchor="end" fill="#262626">-40</text>
<text transform="translate(89.7,1410.5) rotate(-90) scale(0.975,1)" font-size="86" text-anchor="middle" fill="#262626">Lat. (°)</text>
<text transform="translate(282.5,1889) scale(0.975,1)" font-size="86" text-anchor="middle" fill="#262626">-90</text>
<text transform="translate(512.8,1889) scale(0.975,1)" font-size="86" text-anchor="middle" fill="#262626">-70</text>
<text transform="translate(743.2,1889) scale(0.975,1)" font-size="86" text-anchor="middle" fill="#262626">-50</text>
<text transform="translate(973.5,1889) scale(0.975,1)" font-size="86" text-anchor="middle" fill="#262626">-30</text>
<text transform="translate(628.0,1993.5) scale(0.975,1)" font-size="86" text-anchor="middle" fill="#262626">Lon. (°)</text>
<text transform="translate(1219.8,1889) scale(0.975,1)" font-size="86" text-anchor="middle" fill="#262626">-90</text>
<text transform="translate(1450.1,1889) scale(0.975,1)" font-size="86" text-anchor="middle" fill="#262626">-70</text>
<text transform="translate(1680.5,1889) scale(0.975,1)" font-size="86" text-anchor="middle" fill="#262626">-50</text>
<text transform="translate(1910.8,1889) scale(0.975,1)" font-size="86" text-anchor="middle" fill="#262626">-30</text>
<text transform="translate(1565.3,1993.5) scale(0.975,1)" font-size="86" text-anchor="middle" fill="#262626">Lon. (°)</text>
<rect x="642.6" y="946.6" width="1069.8" height="48.6" fill="#262626"/>
<rect x="645.80" y="952.2" width="17.02" height="37.2" fill="#000094"/>
<rect x="662.42" y="952.2" width="17.02" height="37.2" fill="#0000a4"/>
<rect x="679.03" y="952.2" width="17.02" height="37.2" fill="#0000b4"/>
<rect x="695.65" y="952.2" width="17.02" height="37.2" fill="#0000c4"/>
<rect x="712.26" y="952.2" width="17.02" height="37.2" fill="#0000d4"/>
<rect x="728.88" y="952.2" width="17.02" height="37.2" fill="#0000e4"/>
<rect x="745.49" y="952.2" width="17.02" height="37.2" fill="#0000f4"/>
<rect x="762.11" y="952.2" width="17.02" height="37.2" fill="#0000ff"/>
<rect x="778.72" y="952.2" width="17.02" height="37.2" fill="#0007ff"/>
<rect x="795.34" y="952.2" width="17.02" height="37.2" fill="#001aff"/>
<rect x="811.96" y="952.2" width="17.02" height="37.2" fill="#002cff"/>
<rect x="828.57" y="952.2" width="17.02" height="37.2" fill="#003eff"/>
<rect x="845.19" y="952.2" width="17.02" height="37.2" fill="#004fff"/>
<rect x="861.80" y="952.2" width="17.02" height="37.2" fill="#005fff"/>
<rect x="878.42" y="952.2" width="17.02" height="37.2" fill="#0070ff"/>
<rect x="895.03" y="952.2" width="17.02" height="37.2" fill="#0081ff"/>
<rect x="911.65" y="952.2" width="17.02" height="37.2" fill="#0091ff"/>
<rect x="928.27" y="952.2" width="17.02" height="37.2" fill="#00a1ff"/>
<rect x="944.88" y="952.2" width="17.02" height="37.2" fill="#00b1ff"/>
<rect x="961.50" y="952.2" width="17.02" height="37.2" fill="#00c1ff"/>
<rect x="978.11" y="952.2" width="17.02" height="37.2" fill="#00d0ff"/>
<rect x="994.73" y="952.2" width="17.02" height="37.2" fill="#00e0ff"/>
<rect x="1011.34" y="952.2" width="17.02" height="37.2" fill="#00f0ff"/>
<rect x="1027.96" y="952.2" width="17.02" height="37.2" fill="#00ffff"/>
<rect x="1044.58" y="952.2" width="17.02" height="37.2" fill="#00ffef"/>
<rect x="1061.19" y="952.2" width="17.02" height="37.2" fill="#00ffdf"/>
<rect x="1077.81" y="952.2" width="17.02" height="37.2" fill="#00ffce"/>
<rect x="1094.42" y="952.2" width="17.02" height="37.2" fill="#00ffbd"/>
<rect x="1111.04" y="952.2" width="17.02" height="37.2" fill="#00ffac"/>
<rect x="1127.65" y="952.2" width="17.02" height="37.2" fill="#00ff9b"/>
<rect x="1144.27" y="952.2" width="17.02" height="37.2" fill="#00ff89"/>
<rect x="1160.88" y="952.2" width="17.02" height="37.2" fill="#00ff77"/>
<rect x="1177.50" y="952.2" width="17.02" height="37.2" fill="#00ff64"/>
<rect x="1194.12" y="952.2" width="17.02" height="37.2" fill="#59ff4f"/>
<rect x="1210.73" y="952.2" width="17.02" height="37.2" fill="#80ff37"/>
<rect x="1227.35" y="952.2" width="17.02" height="37.2" fill="#9fff13"/>
<rect x="1243.96" y="952.2" width="17.02" height="37.2" fill="#b9ff00"/>
<rect x="1260.58" y="952.2" width="17.02" height="37.2" fill="#d2ff00"/>
<rect x="1277.19" y="952.2" width="17.02" height="37.2" fill="#e9ff00"/>
<rect x="1293.81" y="952.2" width="17.02" height="37.2" fill="#ffff00"/>
<rect x="1310.42" y="952.2" width="17.02" height="37.2" fill="#fff000"/>
<rect x="1327.04" y="952.2" width="17.02" height="37.2" fill="#ffe000"/>
<rect x="1343.66" y="952.2" width="17.02" height="37.2" fill="#ffd000"/>
<rect x="1360.27" y="952.2" width="17.02" height="37.2" fill="#ffc100"/>
<rect x="1376.89" y="952.2" width="17.02" height="37.2" fill="#ffb100"/>
<rect x="1393.50" y="952.2" width="17.02" height="37.2" fill="#ffa100"/>
<rect x="1410.12" y="952.2" width="17.02" height="37.2" fill="#ff9100"/>
<rect x="1426.73" y="952.2" width="17.02" height="37.2" fill="#ff8100"/>
<rect x="1443.35" y="952.2" width="17.02" height="37.2" fill="#ff7000"/>
<rect x="1459.97" y="952.2" width="17.02" height="37.2" fill="#ff5f00"/>
<rect x="1476.58" y="952.2" width="17.02" height="37.2" fill="#ff4f00"/>
<rect x="1493.20" y="952.2" width="17.02" height="37.2" fill="#ff3e00"/>
<rect x="1509.81" y="952.2" width="17.02" height="37.2" fill="#ff2c00"/>
<rect x="1526.43" y="952.2" width="17.02" height="37.2" fill="#ff1a00"/>
<rect x="1543.04" y="952.2" width="17.02" height="37.2" fill="#ff0700"/>
<rect x="1559.66" y="952.2" width="17.02" height="37.2" fill="#ff0000"/>
<rect x="1576.28" y="952.2" width="17.02" height="37.2" fill="#ff0000"/>
<rect x="1592.89" y="952.2" width="17.02" height="37.2" fill="#ff0000"/>
<rect x="1609.51" y="952.2" width="17.02" height="37.2" fill="#f20000"/>
<rect x="1626.12" y="952.2" width="17.02" height="37.2" fill="#e00000"/>
<rect x="1642.74" y="952.2" width="17.02" height="37.2" fill="#cd0000"/>
<rect x="1659.35" y="952.2" width="17.02" height="37.2" fill="#bb0000"/>
<rect x="1675.97" y="952.2" width="17.02" height="37.2" fill="#a90000"/>
<rect x="1692.58" y="952.2" width="16.62" height="37.2" fill="#960000"/>
<rect x="749.3" y="952.2" width="5.6" height="11" fill="#262626"/>
<text x="752.1" y="906.5" font-size="70" text-anchor="middle" fill="#262626">20</text>
<rect x="962.0" y="952.2" width="5.6" height="11" fill="#262626"/>
<text x="964.8" y="906.5" font-size="70" text-anchor="middle" fill="#262626">30</text>
<rect x="1174.7" y="952.2" width="5.6" height="11" fill="#262626"/>
<text x="1177.5" y="906.5" font-size="70" text-anchor="middle" fill="#262626">40</text>
<rect x="1387.4" y="952.2" width="5.6" height="11" fill="#262626"/>
<text x="1390.2" y="906.5" font-size="70" text-anchor="middle" fill="#262626">50</text>
<rect x="1600.1" y="952.2" width="5.6" height="11" fill="#262626"/>
<text x="1602.9" y="906.5" font-size="70" text-anchor="middle" fill="#262626">60</text>
<text transform="translate(1785,902) scale(0.975,1)" font-size="86" fill="#000">TECU</text>
</svg></body></html>
